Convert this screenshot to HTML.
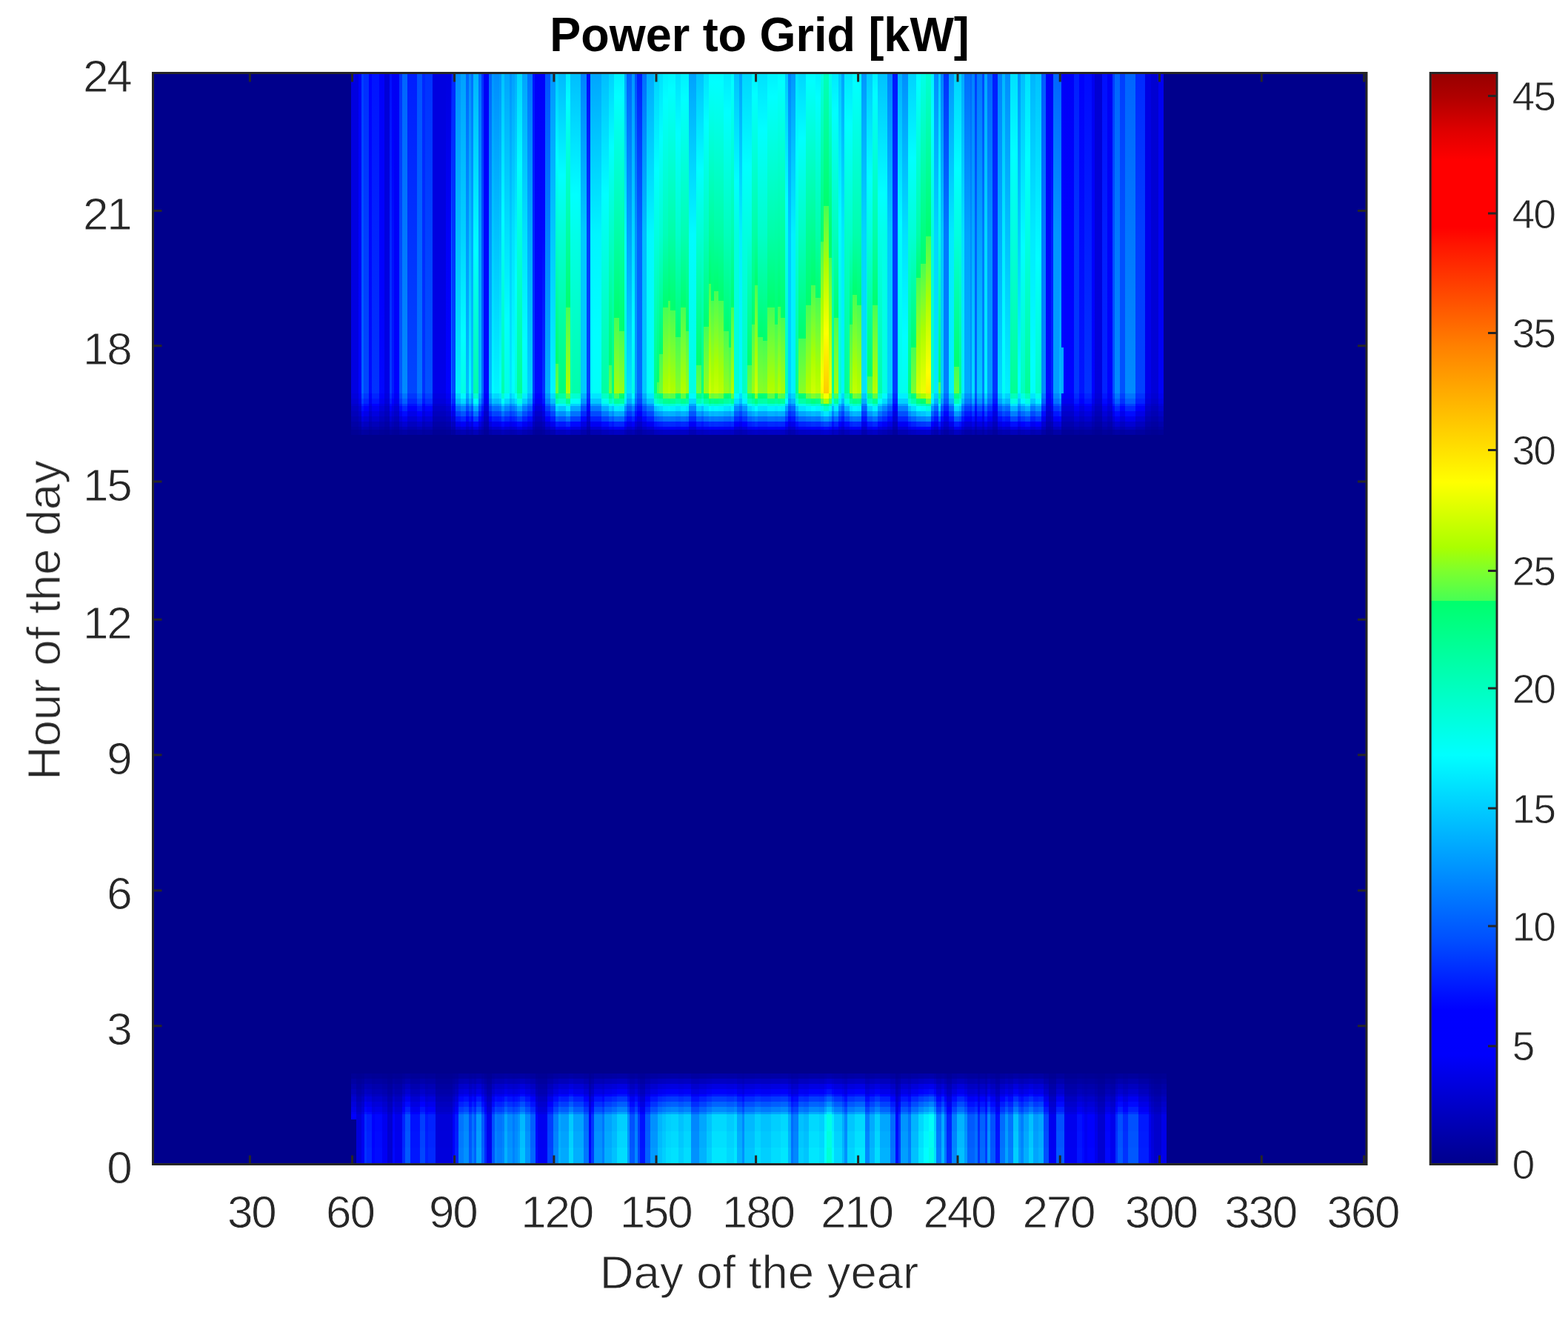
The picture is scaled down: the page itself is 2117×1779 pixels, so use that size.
<!DOCTYPE html>
<html lang="en">
<head>
<meta charset="utf-8">
<title>Power to Grid [kW]</title>
<style>
html,body{margin:0;padding:0;background:#fff}
body{width:2117px;height:1779px;overflow:hidden}
svg{display:block}
text{font-family:"Liberation Sans",sans-serif;fill:#262626}
text.t{fill:#000;font-weight:bold}
#labels text{stroke:#fff;stroke-width:.9px}
text.a{font-size:62px;letter-spacing:-2.2px}
text.c{font-size:55.5px;letter-spacing:-2px}
#labels text.t{stroke:none}
</style>
</head>
<body>
<svg width="2117" height="1779" viewBox="0 0 2117 1779">
<defs>
<filter id="soft" x="-1%" y="-1%" width="102%" height="102%" color-interpolation-filters="sRGB"><feGaussianBlur stdDeviation="0.55"/></filter>
<filter id="softt" x="-5%" y="-20%" width="110%" height="140%" color-interpolation-filters="sRGB"><feGaussianBlur stdDeviation="0.7"/></filter>
<linearGradient id="g0" x2="0" y2="1"><stop offset="0" stop-color="#0000e0"/><stop offset="1" stop-color="#0000e2"/></linearGradient>
<linearGradient id="g1" x2="0" y2="1"><stop offset="0" stop-color="#0000fa"/><stop offset="1" stop-color="#0001ff"/></linearGradient>
<linearGradient id="g2" x2="0" y2="1"><stop offset="0" stop-color="#003dff"/><stop offset="1" stop-color="#0065ff"/></linearGradient>
<linearGradient id="g3" x2="0" y2="1"><stop offset="0" stop-color="#002dff"/><stop offset=".504" stop-color="#003dff"/><stop offset="1" stop-color="#0046ff"/></linearGradient>
<linearGradient id="g4" x2="0" y2="1"><stop offset="0" stop-color="#0001ff"/><stop offset="1" stop-color="#000aff"/></linearGradient>
<linearGradient id="g5" x2="0" y2="1"><stop offset="0" stop-color="#0013ff"/><stop offset="1" stop-color="#0032ff"/></linearGradient>
<linearGradient id="g6" x2="0" y2="1"><stop offset="0" stop-color="#0000fa"/><stop offset=".69" stop-color="#00f"/><stop offset="1" stop-color="#0006ff"/></linearGradient>
<linearGradient id="g7" x2="0" y2="1"><stop offset="0" stop-color="#0000d6"/><stop offset="1" stop-color="#0000e6"/></linearGradient>
<linearGradient id="g8" x2="0" y2="1"><stop offset="0" stop-color="#000eff"/><stop offset=".504" stop-color="#0029ff"/><stop offset="1" stop-color="#003dff"/></linearGradient>
<linearGradient id="g9" x2="0" y2="1"><stop offset="0" stop-color="#0000f4"/><stop offset=".231" stop-color="#00f"/><stop offset=".504" stop-color="#000eff"/><stop offset="1" stop-color="#001cff"/></linearGradient>
<linearGradient id="g10" x2="0" y2="1"><stop offset="0" stop-color="#0000f4"/><stop offset="1" stop-color="#0001ff"/></linearGradient>
<linearGradient id="g11" x2="0" y2="1"><stop offset="0" stop-color="#0032ff"/><stop offset="1" stop-color="#005aff"/></linearGradient>
<linearGradient id="g12" x2="0" y2="1"><stop offset="0" stop-color="#0065ff"/><stop offset="1" stop-color="#008bff"/></linearGradient>
<linearGradient id="g13" x2="0" y2="1"><stop offset="0" stop-color="#001eff"/><stop offset="1" stop-color="#0046ff"/></linearGradient>
<linearGradient id="g14" x2="0" y2="1"><stop offset="0" stop-color="#0051ff"/><stop offset="1" stop-color="#0074ff"/></linearGradient>
<linearGradient id="g15" x2="0" y2="1"><stop offset="0" stop-color="#0027ff"/><stop offset="1" stop-color="#0032ff"/></linearGradient>
<linearGradient id="g16" x2="0" y2="1"><stop offset="0" stop-color="#0032ff"/><stop offset="1" stop-color="#0051ff"/></linearGradient>
<linearGradient id="g17" x2="0" y2="1"><stop offset="0" stop-color="#0000e0"/><stop offset=".504" stop-color="#0000e0"/><stop offset="1" stop-color="#0000ea"/></linearGradient>
<linearGradient id="g18" x2="0" y2="1"><stop offset="0" stop-color="#0000e0"/><stop offset=".504" stop-color="#0000fa"/><stop offset="1" stop-color="#0001ff"/></linearGradient>
<linearGradient id="g19" x2="0" y2="1"><stop offset="0" stop-color="#0006ff"/><stop offset=".504" stop-color="#0065ff"/><stop offset="1" stop-color="#0080ff"/></linearGradient>
<linearGradient id="g20" x2="0" y2="1"><stop offset="0" stop-color="#0029ff"/><stop offset=".504" stop-color="#0032ff"/><stop offset="1" stop-color="#0046ff"/></linearGradient>
<linearGradient id="g21" x2="0" y2="1"><stop offset="0" stop-color="#008dff"/><stop offset="1" stop-color="#0ef"/></linearGradient>
<linearGradient id="g22" x2="0" y2="1"><stop offset="0" stop-color="#00a1ff"/><stop offset=".504" stop-color="#00d2ff"/><stop offset=".822" stop-color="#0ff"/><stop offset="1" stop-color="#00ffe5"/></linearGradient>
<linearGradient id="g23" x2="0" y2="1"><stop offset="0" stop-color="#0065ff"/><stop offset=".504" stop-color="#0096ff"/><stop offset="1" stop-color="#00beff"/></linearGradient>
<linearGradient id="g24" x2="0" y2="1"><stop offset="0" stop-color="#008dff"/><stop offset=".504" stop-color="#00c2ff"/><stop offset="1" stop-color="#00feff"/></linearGradient>
<linearGradient id="g25" x2="0" y2="1"><stop offset="0" stop-color="#006eff"/><stop offset=".504" stop-color="#00a5ff"/><stop offset="1" stop-color="#00c9ff"/></linearGradient>
<linearGradient id="g26" x2="0" y2="1"><stop offset="0" stop-color="#00b5ff"/><stop offset=".557" stop-color="#0ff"/><stop offset="1" stop-color="#0fa"/></linearGradient>
<linearGradient id="g27" x2="0" y2="1"><stop offset="0" stop-color="#006eff"/><stop offset=".504" stop-color="#00a1ff"/><stop offset="1" stop-color="#00beff"/></linearGradient>
<linearGradient id="g28" x2="0" y2="1"><stop offset="0" stop-color="#0032ff"/><stop offset="1" stop-color="#006eff"/></linearGradient>
<linearGradient id="g29" x2="0" y2="1"><stop offset="0" stop-color="#0000f6"/><stop offset=".324" stop-color="#00f"/><stop offset=".504" stop-color="#0006ff"/><stop offset="1" stop-color="#000aff"/></linearGradient>
<linearGradient id="g30" x2="0" y2="1"><stop offset="0" stop-color="#0096ff"/><stop offset="1" stop-color="#00feff"/></linearGradient>
<linearGradient id="g31" x2="0" y2="1"><stop offset="0" stop-color="#008dff"/><stop offset="1" stop-color="#00f5ff"/></linearGradient>
<linearGradient id="g32" x2="0" y2="1"><stop offset="0" stop-color="#0096ff"/><stop offset=".504" stop-color="#00c9ff"/><stop offset=".954" stop-color="#0ff"/><stop offset="1" stop-color="#00fff9"/></linearGradient>
<linearGradient id="g33" x2="0" y2="1"><stop offset="0" stop-color="#00c2ff"/><stop offset=".462" stop-color="#0ff"/><stop offset="1" stop-color="#0fa"/></linearGradient>
<linearGradient id="g34" x2="0" y2="1"><stop offset="0" stop-color="#00a5ff"/><stop offset=".772" stop-color="#0ff"/><stop offset="1" stop-color="#00ffe5"/></linearGradient>
<linearGradient id="g35" x2="0" y2="1"><stop offset="0" stop-color="#0091ff"/><stop offset=".504" stop-color="#00cdff"/><stop offset="1" stop-color="#00eaff"/></linearGradient>
<linearGradient id="g36" x2="0" y2="1"><stop offset="0" stop-color="#00a1ff"/><stop offset=".504" stop-color="#00e1ff"/><stop offset=".922" stop-color="#0ff"/><stop offset="1" stop-color="#00fff9"/></linearGradient>
<linearGradient id="g37" x2="0" y2="1"><stop offset="0" stop-color="#00aeff"/><stop offset=".504" stop-color="#00f1ff"/><stop offset=".651" stop-color="#0ff"/><stop offset="1" stop-color="#00ffdc"/></linearGradient>
<linearGradient id="g38" x2="0" y2="1"><stop offset="0" stop-color="#00d6ff"/><stop offset=".291" stop-color="#0ff"/><stop offset="1" stop-color="#00ff96"/></linearGradient>
<linearGradient id="g39" x2="0" y2="1"><stop offset="0" stop-color="#00a5ff"/><stop offset=".504" stop-color="#00e1ff"/><stop offset=".839" stop-color="#0ff"/><stop offset="1" stop-color="#00fff0"/></linearGradient>
<linearGradient id="g40" x2="0" y2="1"><stop offset="0" stop-color="#0072ff"/><stop offset=".504" stop-color="#0af"/><stop offset="1" stop-color="#00d2ff"/></linearGradient>
<linearGradient id="g41" x2="0" y2="1"><stop offset="0" stop-color="#0015ff"/><stop offset="1" stop-color="#003dff"/></linearGradient>
<linearGradient id="g42" x2="0" y2="1"><stop offset="0" stop-color="#0000fa"/><stop offset="1" stop-color="#000aff"/></linearGradient>
<linearGradient id="g43" x2="0" y2="1"><stop offset="0" stop-color="#0000fa"/><stop offset=".504" stop-color="#0006ff"/><stop offset="1" stop-color="#0032ff"/></linearGradient>
<linearGradient id="g44" x2="0" y2="1"><stop offset="0" stop-color="#0051ff"/><stop offset="1" stop-color="#00aeff"/></linearGradient>
<linearGradient id="g45" x2="0" y2="1"><stop offset="0" stop-color="#0096ff"/><stop offset="1" stop-color="#00f9ff"/></linearGradient>
<linearGradient id="g46" x2="0" y2="1"><stop offset="0" stop-color="#00c9ff"/><stop offset=".274" stop-color="#0ff"/><stop offset=".504" stop-color="#00ffd1"/><stop offset=".908" stop-color="#00ff6c"/><stop offset=".908" stop-color="#46ff55"/><stop offset=".908" stop-color="#00ff6c"/><stop offset=".908" stop-color="#46ff55"/><stop offset="1" stop-color="#67ff3d"/></linearGradient>
<linearGradient id="g47" x2="0" y2="1"><stop offset="0" stop-color="#00b9ff"/><stop offset=".318" stop-color="#0ff"/><stop offset=".504" stop-color="#00ffd5"/><stop offset="1" stop-color="#00ff78"/></linearGradient>
<linearGradient id="g48" x2="0" y2="1"><stop offset="0" stop-color="#00eaff"/><stop offset=".092" stop-color="#0ff"/><stop offset=".733" stop-color="#00ff6c"/><stop offset=".733" stop-color="#46ff55"/><stop offset=".733" stop-color="#00ff6c"/><stop offset=".733" stop-color="#46ff55"/><stop offset=".865" stop-color="#7dff2d"/><stop offset=".969" stop-color="#af0"/><stop offset="1" stop-color="#b3ff00"/></linearGradient>
<linearGradient id="g49" x2="0" y2="1"><stop offset="0" stop-color="#00beff"/><stop offset=".381" stop-color="#0ff"/><stop offset=".504" stop-color="#00ffe9"/><stop offset="1" stop-color="#0fa"/></linearGradient>
<linearGradient id="g50" x2="0" y2="1"><stop offset="0" stop-color="#0082ff"/><stop offset=".504" stop-color="#00c9ff"/><stop offset="1" stop-color="#00c9ff"/></linearGradient>
<linearGradient id="g51" x2="0" y2="1"><stop offset="0" stop-color="#000aff"/><stop offset=".504" stop-color="#003dff"/><stop offset="1" stop-color="#0041ff"/></linearGradient>
<linearGradient id="g52" x2="0" y2="1"><stop offset="0" stop-color="#00a5ff"/><stop offset=".504" stop-color="#00f5ff"/><stop offset=".823" stop-color="#0ff"/><stop offset="1" stop-color="#00fff9"/></linearGradient>
<linearGradient id="g53" x2="0" y2="1"><stop offset="0" stop-color="#00beff"/><stop offset=".381" stop-color="#0ff"/><stop offset="1" stop-color="#00ff9f"/></linearGradient>
<linearGradient id="g54" x2="0" y2="1"><stop offset="0" stop-color="#00d2ff"/><stop offset=".23" stop-color="#0ff"/><stop offset=".504" stop-color="#00ffc8"/><stop offset=".913" stop-color="#00ff6c"/><stop offset=".913" stop-color="#46ff55"/><stop offset=".913" stop-color="#00ff6c"/><stop offset=".913" stop-color="#46ff55"/><stop offset="1" stop-color="#67ff3d"/></linearGradient>
<linearGradient id="g55" x2="0" y2="1"><stop offset="0" stop-color="#00d2ff"/><stop offset=".23" stop-color="#0ff"/><stop offset=".504" stop-color="#00ffc8"/><stop offset="1" stop-color="#00ff7d"/></linearGradient>
<linearGradient id="g56" x2="0" y2="1"><stop offset="0" stop-color="#00f1ff"/><stop offset=".073" stop-color="#0ff"/><stop offset=".504" stop-color="#00ffa8"/><stop offset=".765" stop-color="#00ff6c"/><stop offset=".765" stop-color="#46ff55"/><stop offset=".765" stop-color="#00ff6c"/><stop offset=".765" stop-color="#46ff55"/><stop offset=".902" stop-color="#7dff2d"/><stop offset="1" stop-color="#a5ff05"/></linearGradient>
<linearGradient id="g57" x2="0" y2="1"><stop offset="0" stop-color="#00f1ff"/><stop offset=".073" stop-color="#0ff"/><stop offset=".805" stop-color="#00ff6c"/><stop offset=".805" stop-color="#46ff55"/><stop offset=".806" stop-color="#00ff6c"/><stop offset=".806" stop-color="#46ff55"/><stop offset=".945" stop-color="#7dff2d"/><stop offset="1" stop-color="#94ff16"/></linearGradient>
<linearGradient id="g58" x2="0" y2="1"><stop offset="0" stop-color="#0af"/><stop offset=".55" stop-color="#0ff"/><stop offset="1" stop-color="#00ffc8"/></linearGradient>
<linearGradient id="g59" x2="0" y2="1"><stop offset="0" stop-color="#0065ff"/><stop offset=".504" stop-color="#00a1ff"/><stop offset="1" stop-color="#00e3ff"/></linearGradient>
<linearGradient id="g60" x2="0" y2="1"><stop offset="0" stop-color="#0096ff"/><stop offset=".81" stop-color="#0ff"/><stop offset="1" stop-color="#00ffe5"/></linearGradient>
<linearGradient id="g61" x2="0" y2="1"><stop offset="0" stop-color="#0051ff"/><stop offset=".504" stop-color="#0096ff"/><stop offset="1" stop-color="#009fff"/></linearGradient>
<linearGradient id="g62" x2="0" y2="1"><stop offset="0" stop-color="#001eff"/><stop offset=".504" stop-color="#0065ff"/><stop offset="1" stop-color="#006cff"/></linearGradient>
<linearGradient id="g63" x2="0" y2="1"><stop offset="0" stop-color="#006eff"/><stop offset=".504" stop-color="#00beff"/><stop offset="1" stop-color="#00c9ff"/></linearGradient>
<linearGradient id="g64" x2="0" y2="1"><stop offset="0" stop-color="#0af"/><stop offset=".504" stop-color="#00f9ff"/><stop offset="1" stop-color="#00fff9"/></linearGradient>
<linearGradient id="g65" x2="0" y2="1"><stop offset="0" stop-color="#00d2ff"/><stop offset=".304" stop-color="#0ff"/><stop offset=".504" stop-color="#00ffe0"/><stop offset="1" stop-color="#00ff7d"/></linearGradient>
<linearGradient id="g66" x2="0" y2="1"><stop offset="0" stop-color="#00d2ff"/><stop offset=".304" stop-color="#0ff"/><stop offset=".504" stop-color="#00ffe0"/><stop offset=".966" stop-color="#00ff6c"/><stop offset=".966" stop-color="#46ff55"/><stop offset=".966" stop-color="#00ff6c"/><stop offset=".966" stop-color="#46ff55"/><stop offset="1" stop-color="#51ff4d"/></linearGradient>
<linearGradient id="g67" x2="0" y2="1"><stop offset="0" stop-color="#00e1ff"/><stop offset=".2" stop-color="#0ff"/><stop offset=".504" stop-color="#00ffd1"/><stop offset=".877" stop-color="#00ff6c"/><stop offset=".877" stop-color="#46ff55"/><stop offset=".877" stop-color="#00ff6c"/><stop offset=".877" stop-color="#46ff55"/><stop offset="1" stop-color="#74ff33"/></linearGradient>
<linearGradient id="g68" x2="0" y2="1"><stop offset="0" stop-color="#00f1ff"/><stop offset=".086" stop-color="#0ff"/><stop offset=".504" stop-color="#00ffb8"/><stop offset=".733" stop-color="#00ff6c"/><stop offset=".733" stop-color="#46ff55"/><stop offset=".733" stop-color="#00ff6c"/><stop offset=".733" stop-color="#46ff55"/><stop offset=".865" stop-color="#7dff2d"/><stop offset=".969" stop-color="#af0"/><stop offset="1" stop-color="#b3ff00"/></linearGradient>
<linearGradient id="g69" x2="0" y2="1"><stop offset="0" stop-color="#00f5ff"/><stop offset=".053" stop-color="#0ff"/><stop offset=".504" stop-color="#00ffa8"/><stop offset=".711" stop-color="#00ff6c"/><stop offset=".711" stop-color="#46ff55"/><stop offset=".711" stop-color="#00ff6c"/><stop offset=".711" stop-color="#46ff55"/><stop offset=".838" stop-color="#7dff2d"/><stop offset=".939" stop-color="#af0"/><stop offset="1" stop-color="#bdff00"/></linearGradient>
<linearGradient id="g70" x2="0" y2="1"><stop offset="0" stop-color="#00f5ff"/><stop offset=".053" stop-color="#0ff"/><stop offset=".504" stop-color="#00ffa8"/><stop offset=".742" stop-color="#00ff6c"/><stop offset=".742" stop-color="#46ff55"/><stop offset=".742" stop-color="#00ff6c"/><stop offset=".742" stop-color="#46ff55"/><stop offset=".874" stop-color="#7dff2d"/><stop offset=".979" stop-color="#af0"/><stop offset="1" stop-color="#b0ff00"/></linearGradient>
<linearGradient id="g71" x2="0" y2="1"><stop offset="0" stop-color="#00e1ff"/><stop offset=".189" stop-color="#0ff"/><stop offset=".504" stop-color="#0fc"/><stop offset=".824" stop-color="#00ff6c"/><stop offset=".824" stop-color="#46ff55"/><stop offset=".824" stop-color="#00ff6c"/><stop offset=".824" stop-color="#46ff55"/><stop offset=".966" stop-color="#7dff2d"/><stop offset="1" stop-color="#8bff1f"/></linearGradient>
<linearGradient id="g72" x2="0" y2="1"><stop offset="0" stop-color="#00f1ff"/><stop offset=".082" stop-color="#0ff"/><stop offset=".504" stop-color="#00ffb3"/><stop offset=".733" stop-color="#00ff6c"/><stop offset=".733" stop-color="#46ff55"/><stop offset=".733" stop-color="#00ff6c"/><stop offset=".733" stop-color="#46ff55"/><stop offset=".865" stop-color="#7dff2d"/><stop offset=".969" stop-color="#af0"/><stop offset="1" stop-color="#b3ff00"/></linearGradient>
<linearGradient id="g73" x2="0" y2="1"><stop offset="0" stop-color="#00f1ff"/><stop offset=".082" stop-color="#0ff"/><stop offset=".504" stop-color="#00ffb3"/><stop offset=".805" stop-color="#00ff6c"/><stop offset=".805" stop-color="#46ff55"/><stop offset=".806" stop-color="#00ff6c"/><stop offset=".806" stop-color="#46ff55"/><stop offset=".945" stop-color="#7dff2d"/><stop offset="1" stop-color="#94ff16"/></linearGradient>
<linearGradient id="g74" x2="0" y2="1"><stop offset="0" stop-color="#00a1ff"/><stop offset=".504" stop-color="#00fcff"/><stop offset="1" stop-color="#00ffe3"/></linearGradient>
<linearGradient id="g75" x2="0" y2="1"><stop offset="0" stop-color="#00c2ff"/><stop offset=".301" stop-color="#0ff"/><stop offset=".504" stop-color="#00ffd5"/><stop offset=".913" stop-color="#00ff6c"/><stop offset=".913" stop-color="#46ff55"/><stop offset=".913" stop-color="#00ff6c"/><stop offset=".913" stop-color="#46ff55"/><stop offset="1" stop-color="#67ff3d"/></linearGradient>
<linearGradient id="g76" x2="0" y2="1"><stop offset="0" stop-color="#00c2ff"/><stop offset=".301" stop-color="#0ff"/><stop offset=".504" stop-color="#00ffd5"/><stop offset="1" stop-color="#00ff7d"/></linearGradient>
<linearGradient id="g77" x2="0" y2="1"><stop offset="0" stop-color="#00e1ff"/><stop offset=".158" stop-color="#0ff"/><stop offset=".504" stop-color="#00ffbc"/><stop offset=".791" stop-color="#00ff6c"/><stop offset=".791" stop-color="#46ff55"/><stop offset=".792" stop-color="#00ff6c"/><stop offset=".792" stop-color="#46ff55"/><stop offset=".933" stop-color="#7dff2d"/><stop offset="1" stop-color="#98ff12"/></linearGradient>
<linearGradient id="g78" x2="0" y2="1"><stop offset="0" stop-color="#00f9ff"/><stop offset=".026" stop-color="#0ff"/><stop offset=".504" stop-color="#00ff98"/><stop offset=".658" stop-color="#00ff6c"/><stop offset=".658" stop-color="#46ff55"/><stop offset=".658" stop-color="#00ff6c"/><stop offset=".658" stop-color="#46ff55"/><stop offset=".779" stop-color="#7dff2d"/><stop offset=".875" stop-color="#af0"/><stop offset="1" stop-color="#d2ff00"/></linearGradient>
<linearGradient id="g79" x2="0" y2="1"><stop offset="0" stop-color="#00f9ff"/><stop offset=".026" stop-color="#0ff"/><stop offset=".711" stop-color="#00ff6c"/><stop offset=".711" stop-color="#46ff55"/><stop offset=".711" stop-color="#00ff6c"/><stop offset=".711" stop-color="#46ff55"/><stop offset=".838" stop-color="#7dff2d"/><stop offset=".939" stop-color="#af0"/><stop offset="1" stop-color="#bdff00"/></linearGradient>
<linearGradient id="g80" x2="0" y2="1"><stop offset="0" stop-color="#00f9ff"/><stop offset=".029" stop-color="#0ff"/><stop offset=".504" stop-color="#00ffa3"/><stop offset=".68" stop-color="#00ff6c"/><stop offset=".68" stop-color="#46ff55"/><stop offset=".68" stop-color="#00ff6c"/><stop offset=".68" stop-color="#46ff55"/><stop offset=".804" stop-color="#7dff2d"/><stop offset=".902" stop-color="#af0"/><stop offset="1" stop-color="#c9ff00"/></linearGradient>
<linearGradient id="g81" x2="0" y2="1"><stop offset="0" stop-color="#00f9ff"/><stop offset=".029" stop-color="#0ff"/><stop offset=".504" stop-color="#00ffa3"/><stop offset=".711" stop-color="#00ff6c"/><stop offset=".711" stop-color="#46ff55"/><stop offset=".711" stop-color="#00ff6c"/><stop offset=".711" stop-color="#46ff55"/><stop offset=".838" stop-color="#7dff2d"/><stop offset=".939" stop-color="#af0"/><stop offset="1" stop-color="#bdff00"/></linearGradient>
<linearGradient id="g82" x2="0" y2="1"><stop offset="0" stop-color="#00eaff"/><stop offset=".123" stop-color="#0ff"/><stop offset=".504" stop-color="#00ffbc"/><stop offset=".805" stop-color="#00ff6c"/><stop offset=".805" stop-color="#46ff55"/><stop offset=".806" stop-color="#00ff6c"/><stop offset=".806" stop-color="#46ff55"/><stop offset=".945" stop-color="#7dff2d"/><stop offset="1" stop-color="#94ff16"/></linearGradient>
<linearGradient id="g83" x2="0" y2="1"><stop offset="0" stop-color="#00eaff"/><stop offset=".123" stop-color="#0ff"/><stop offset=".504" stop-color="#00ffbc"/><stop offset=".858" stop-color="#00ff6c"/><stop offset=".858" stop-color="#46ff55"/><stop offset=".859" stop-color="#00ff6c"/><stop offset=".859" stop-color="#46ff55"/><stop offset="1" stop-color="#7dff2d"/></linearGradient>
<linearGradient id="g84" x2="0" y2="1"><stop offset="0" stop-color="#00f9ff"/><stop offset=".032" stop-color="#0ff"/><stop offset=".504" stop-color="#00ffac"/><stop offset=".733" stop-color="#00ff6c"/><stop offset=".733" stop-color="#46ff55"/><stop offset=".733" stop-color="#00ff6c"/><stop offset=".733" stop-color="#46ff55"/><stop offset=".865" stop-color="#7dff2d"/><stop offset=".969" stop-color="#af0"/><stop offset="1" stop-color="#b3ff00"/></linearGradient>
<linearGradient id="g85" x2="0" y2="1"><stop offset="0" stop-color="#00c2ff"/><stop offset=".338" stop-color="#0ff"/><stop offset=".504" stop-color="#00ffe0"/><stop offset="1" stop-color="#00ffd7"/></linearGradient>
<linearGradient id="g86" x2="0" y2="1"><stop offset="0" stop-color="#00a1ff"/><stop offset=".504" stop-color="#00f1ff"/><stop offset="1" stop-color="#00fcff"/></linearGradient>
<linearGradient id="g87" x2="0" y2="1"><stop offset="0" stop-color="#00d6ff"/><stop offset=".291" stop-color="#0ff"/><stop offset=".504" stop-color="#00ffe0"/><stop offset="1" stop-color="#00ffc1"/></linearGradient>
<linearGradient id="g88" x2="0" y2="1"><stop offset="0" stop-color="#00d6ff"/><stop offset=".291" stop-color="#0ff"/><stop offset=".504" stop-color="#00ffe0"/><stop offset=".913" stop-color="#00ff6c"/><stop offset=".913" stop-color="#46ff55"/><stop offset=".913" stop-color="#00ff6c"/><stop offset=".913" stop-color="#46ff55"/><stop offset="1" stop-color="#67ff3d"/></linearGradient>
<linearGradient id="g89" x2="0" y2="1"><stop offset="0" stop-color="#00f1ff"/><stop offset=".07" stop-color="#0ff"/><stop offset=".783" stop-color="#00ff6c"/><stop offset=".783" stop-color="#46ff55"/><stop offset=".784" stop-color="#00ff6c"/><stop offset=".784" stop-color="#46ff55"/><stop offset=".923" stop-color="#7dff2d"/><stop offset="1" stop-color="#9cff0e"/></linearGradient>
<linearGradient id="g90" x2="0" y2="1"><stop offset="0" stop-color="#00f1ff"/><stop offset=".07" stop-color="#0ff"/><stop offset=".504" stop-color="#00ffa3"/><stop offset=".662" stop-color="#00ff6c"/><stop offset=".662" stop-color="#46ff55"/><stop offset=".662" stop-color="#00ff6c"/><stop offset=".662" stop-color="#46ff55"/><stop offset=".785" stop-color="#7dff2d"/><stop offset=".883" stop-color="#af0"/><stop offset="1" stop-color="#cfff00"/></linearGradient>
<linearGradient id="g91" x2="0" y2="1"><stop offset="0" stop-color="#00e1ff"/><stop offset=".179" stop-color="#0ff"/><stop offset=".504" stop-color="#00ffc8"/><stop offset=".824" stop-color="#00ff6c"/><stop offset=".824" stop-color="#46ff55"/><stop offset=".824" stop-color="#00ff6c"/><stop offset=".824" stop-color="#46ff55"/><stop offset=".966" stop-color="#7dff2d"/><stop offset="1" stop-color="#8bff1f"/></linearGradient>
<linearGradient id="g92" x2="0" y2="1"><stop offset="0" stop-color="#00e1ff"/><stop offset=".179" stop-color="#0ff"/><stop offset=".504" stop-color="#00ffc8"/><stop offset=".836" stop-color="#00ff6c"/><stop offset=".836" stop-color="#46ff55"/><stop offset=".837" stop-color="#00ff6c"/><stop offset=".837" stop-color="#46ff55"/><stop offset="1" stop-color="#86ff24"/></linearGradient>
<linearGradient id="g93" x2="0" y2="1"><stop offset="0" stop-color="#00f1ff"/><stop offset=".073" stop-color="#0ff"/><stop offset=".504" stop-color="#00ffa8"/><stop offset=".733" stop-color="#00ff6c"/><stop offset=".733" stop-color="#46ff55"/><stop offset=".733" stop-color="#00ff6c"/><stop offset=".733" stop-color="#46ff55"/><stop offset=".865" stop-color="#7dff2d"/><stop offset=".969" stop-color="#af0"/><stop offset="1" stop-color="#b3ff00"/></linearGradient>
<linearGradient id="g94" x2="0" y2="1"><stop offset="0" stop-color="#00f1ff"/><stop offset=".073" stop-color="#0ff"/><stop offset=".783" stop-color="#00ff6c"/><stop offset=".783" stop-color="#46ff55"/><stop offset=".784" stop-color="#00ff6c"/><stop offset=".784" stop-color="#46ff55"/><stop offset=".923" stop-color="#7dff2d"/><stop offset="1" stop-color="#9cff0e"/></linearGradient>
<linearGradient id="g95" x2="0" y2="1"><stop offset="0" stop-color="#00f9ff"/><stop offset=".029" stop-color="#0ff"/><stop offset=".504" stop-color="#00ffa3"/><stop offset=".729" stop-color="#00ff6c"/><stop offset=".729" stop-color="#46ff55"/><stop offset=".729" stop-color="#00ff6c"/><stop offset=".729" stop-color="#46ff55"/><stop offset=".857" stop-color="#7dff2d"/><stop offset=".959" stop-color="#af0"/><stop offset="1" stop-color="#b6ff00"/></linearGradient>
<linearGradient id="g96" x2="0" y2="1"><stop offset="0" stop-color="#00f9ff"/><stop offset=".029" stop-color="#0ff"/><stop offset=".765" stop-color="#00ff6c"/><stop offset=".765" stop-color="#46ff55"/><stop offset=".765" stop-color="#00ff6c"/><stop offset=".765" stop-color="#46ff55"/><stop offset=".902" stop-color="#7dff2d"/><stop offset="1" stop-color="#a5ff05"/></linearGradient>
<linearGradient id="g97" x2="0" y2="1"><stop offset="0" stop-color="#00c9ff"/><stop offset=".398" stop-color="#0ff"/><stop offset="1" stop-color="#00ffb5"/></linearGradient>
<linearGradient id="g98" x2="0" y2="1"><stop offset="0" stop-color="#0082ff"/><stop offset=".504" stop-color="#00c9ff"/><stop offset="1" stop-color="#00d2ff"/></linearGradient>
<linearGradient id="g99" x2="0" y2="1"><stop offset="0" stop-color="#0096ff"/><stop offset=".504" stop-color="#00f1ff"/><stop offset="1" stop-color="#00f1ff"/></linearGradient>
<linearGradient id="g100" x2="0" y2="1"><stop offset="0" stop-color="#00e1ff"/><stop offset=".252" stop-color="#0ff"/><stop offset=".504" stop-color="#00ffe0"/><stop offset="1" stop-color="#0f8"/></linearGradient>
<linearGradient id="g101" x2="0" y2="1"><stop offset="0" stop-color="#00d6ff"/><stop offset=".203" stop-color="#0ff"/><stop offset=".504" stop-color="#00ffc1"/><stop offset=".827" stop-color="#00ff6c"/><stop offset=".827" stop-color="#46ff55"/><stop offset=".828" stop-color="#00ff6c"/><stop offset=".828" stop-color="#46ff55"/><stop offset=".967" stop-color="#7dff2d"/><stop offset="1" stop-color="#8bff1f"/></linearGradient>
<linearGradient id="g102" x2="0" y2="1"><stop offset="0" stop-color="#00f9ff"/><stop offset=".025" stop-color="#0ff"/><stop offset=".504" stop-color="#00ff93"/><stop offset=".725" stop-color="#00ff6c"/><stop offset=".725" stop-color="#46ff55"/><stop offset=".725" stop-color="#00ff6c"/><stop offset=".725" stop-color="#46ff55"/><stop offset=".855" stop-color="#7dff2d"/><stop offset=".959" stop-color="#af0"/><stop offset="1" stop-color="#b6ff00"/></linearGradient>
<linearGradient id="g103" x2="0" y2="1"><stop offset="0" stop-color="#00f9ff"/><stop offset=".025" stop-color="#0ff"/><stop offset=".662" stop-color="#00ff6c"/><stop offset=".662" stop-color="#46ff55"/><stop offset=".662" stop-color="#00ff6c"/><stop offset=".662" stop-color="#46ff55"/><stop offset=".785" stop-color="#7dff2d"/><stop offset=".883" stop-color="#af0"/><stop offset="1" stop-color="#cfff00"/></linearGradient>
<linearGradient id="g104" x2="0" y2="1"><stop offset="0" stop-color="#00f1ff"/><stop offset=".076" stop-color="#0ff"/><stop offset=".504" stop-color="#00ffac"/><stop offset=".702" stop-color="#00ff6c"/><stop offset=".702" stop-color="#46ff55"/><stop offset=".702" stop-color="#00ff6c"/><stop offset=".702" stop-color="#46ff55"/><stop offset=".829" stop-color="#7dff2d"/><stop offset=".93" stop-color="#af0"/><stop offset="1" stop-color="#c0ff00"/></linearGradient>
<linearGradient id="g105" x2="0" y2="1"><stop offset="0" stop-color="#00ffe5"/><stop offset=".527" stop-color="#00ff6c"/><stop offset=".527" stop-color="#46ff55"/><stop offset=".528" stop-color="#00ff6c"/><stop offset=".528" stop-color="#46ff55"/><stop offset=".637" stop-color="#7dff2d"/><stop offset=".723" stop-color="#af0"/><stop offset=".961" stop-color="#ff0"/><stop offset="1" stop-color="#fff500"/></linearGradient>
<linearGradient id="g106" x2="0" y2="1"><stop offset="0" stop-color="#00ffbc"/><stop offset=".414" stop-color="#00ff6c"/><stop offset=".414" stop-color="#46ff55"/><stop offset=".414" stop-color="#00ff6c"/><stop offset=".414" stop-color="#46ff55"/><stop offset=".514" stop-color="#7dff2d"/><stop offset=".594" stop-color="#af0"/><stop offset=".813" stop-color="#ff0"/><stop offset="1" stop-color="#ffcb00"/></linearGradient>
<linearGradient id="g107" x2="0" y2="1"><stop offset="0" stop-color="#00fff0"/><stop offset=".504" stop-color="#00ff6f"/><stop offset=".577" stop-color="#00ff6c"/><stop offset=".577" stop-color="#46ff55"/><stop offset=".577" stop-color="#00ff6c"/><stop offset=".577" stop-color="#46ff55"/><stop offset=".691" stop-color="#7dff2d"/><stop offset=".782" stop-color="#af0"/><stop offset="1" stop-color="#f4ff00"/></linearGradient>
<linearGradient id="g108" x2="0" y2="1"><stop offset="0" stop-color="#00eaff"/><stop offset=".123" stop-color="#0ff"/><stop offset=".504" stop-color="#00ffbc"/><stop offset="1" stop-color="#00ff93"/></linearGradient>
<linearGradient id="g109" x2="0" y2="1"><stop offset="0" stop-color="#00eaff"/><stop offset=".123" stop-color="#0ff"/><stop offset=".504" stop-color="#00ffbc"/><stop offset=".765" stop-color="#00ff6c"/><stop offset=".765" stop-color="#46ff55"/><stop offset=".765" stop-color="#00ff6c"/><stop offset=".765" stop-color="#46ff55"/><stop offset=".902" stop-color="#7dff2d"/><stop offset="1" stop-color="#a5ff05"/></linearGradient>
<linearGradient id="g110" x2="0" y2="1"><stop offset="0" stop-color="#00c9ff"/><stop offset=".457" stop-color="#0ff"/><stop offset="1" stop-color="#0fc"/></linearGradient>
<linearGradient id="g111" x2="0" y2="1"><stop offset="0" stop-color="#00a1ff"/><stop offset=".504" stop-color="#00eaff"/><stop offset="1" stop-color="#00f5ff"/></linearGradient>
<linearGradient id="g112" x2="0" y2="1"><stop offset="0" stop-color="#00e6ff"/><stop offset=".161" stop-color="#0ff"/><stop offset=".504" stop-color="#00ffc8"/><stop offset="1" stop-color="#00ff93"/></linearGradient>
<linearGradient id="g113" x2="0" y2="1"><stop offset="0" stop-color="#00e6ff"/><stop offset=".161" stop-color="#0ff"/><stop offset=".504" stop-color="#00ffc8"/><stop offset=".783" stop-color="#00ff6c"/><stop offset=".783" stop-color="#46ff55"/><stop offset=".784" stop-color="#00ff6c"/><stop offset=".784" stop-color="#46ff55"/><stop offset=".923" stop-color="#7dff2d"/><stop offset="1" stop-color="#9cff0e"/></linearGradient>
<linearGradient id="g114" x2="0" y2="1"><stop offset="0" stop-color="#00f9ff"/><stop offset=".032" stop-color="#0ff"/><stop offset=".504" stop-color="#00ffac"/><stop offset=".693" stop-color="#00ff6c"/><stop offset=".693" stop-color="#46ff55"/><stop offset=".693" stop-color="#00ff6c"/><stop offset=".693" stop-color="#46ff55"/><stop offset=".819" stop-color="#7dff2d"/><stop offset=".92" stop-color="#af0"/><stop offset="1" stop-color="#c3ff00"/></linearGradient>
<linearGradient id="g115" x2="0" y2="1"><stop offset="0" stop-color="#00f9ff"/><stop offset=".032" stop-color="#0ff"/><stop offset=".504" stop-color="#00ffac"/><stop offset=".725" stop-color="#00ff6c"/><stop offset=".725" stop-color="#46ff55"/><stop offset=".725" stop-color="#00ff6c"/><stop offset=".725" stop-color="#46ff55"/><stop offset=".855" stop-color="#7dff2d"/><stop offset=".959" stop-color="#af0"/><stop offset="1" stop-color="#b6ff00"/></linearGradient>
<linearGradient id="g116" x2="0" y2="1"><stop offset="0" stop-color="#0096ff"/><stop offset=".504" stop-color="#00d6ff"/><stop offset="1" stop-color="#00e3ff"/></linearGradient>
<linearGradient id="g117" x2="0" y2="1"><stop offset="0" stop-color="#00c9ff"/><stop offset=".325" stop-color="#0ff"/><stop offset=".504" stop-color="#00ffe0"/><stop offset="1" stop-color="#00ffd3"/></linearGradient>
<linearGradient id="g118" x2="0" y2="1"><stop offset="0" stop-color="#00c9ff"/><stop offset=".325" stop-color="#0ff"/><stop offset=".504" stop-color="#00ffe0"/><stop offset=".948" stop-color="#00ff6c"/><stop offset=".948" stop-color="#46ff55"/><stop offset=".949" stop-color="#00ff6c"/><stop offset=".949" stop-color="#46ff55"/><stop offset="1" stop-color="#5aff46"/></linearGradient>
<linearGradient id="g119" x2="0" y2="1"><stop offset="0" stop-color="#00f1ff"/><stop offset=".073" stop-color="#0ff"/><stop offset=".504" stop-color="#00ffa8"/><stop offset=".725" stop-color="#00ff6c"/><stop offset=".725" stop-color="#46ff55"/><stop offset=".725" stop-color="#00ff6c"/><stop offset=".725" stop-color="#46ff55"/><stop offset=".855" stop-color="#7dff2d"/><stop offset=".959" stop-color="#af0"/><stop offset="1" stop-color="#b6ff00"/></linearGradient>
<linearGradient id="g120" x2="0" y2="1"><stop offset="0" stop-color="#00c2ff"/><stop offset=".375" stop-color="#0ff"/><stop offset=".504" stop-color="#00ffe9"/><stop offset="1" stop-color="#0fa"/></linearGradient>
<linearGradient id="g121" x2="0" y2="1"><stop offset="0" stop-color="#00c2ff"/><stop offset=".375" stop-color="#0ff"/><stop offset=".504" stop-color="#00ffe9"/><stop offset="1" stop-color="#00ffe3"/></linearGradient>
<linearGradient id="g122" x2="0" y2="1"><stop offset="0" stop-color="#0015ff"/><stop offset=".504" stop-color="#003dff"/><stop offset="1" stop-color="#003dff"/></linearGradient>
<linearGradient id="g123" x2="0" y2="1"><stop offset="0" stop-color="#00aeff"/><stop offset=".472" stop-color="#0ff"/><stop offset=".504" stop-color="#00fff9"/><stop offset="1" stop-color="#0fe"/></linearGradient>
<linearGradient id="g124" x2="0" y2="1"><stop offset="0" stop-color="#008dff"/><stop offset=".504" stop-color="#00e1ff"/><stop offset=".823" stop-color="#0ff"/><stop offset="1" stop-color="#0fe"/></linearGradient>
<linearGradient id="g125" x2="0" y2="1"><stop offset="0" stop-color="#00d2ff"/><stop offset=".265" stop-color="#0ff"/><stop offset="1" stop-color="#00ff7d"/></linearGradient>
<linearGradient id="g126" x2="0" y2="1"><stop offset="0" stop-color="#00d2ff"/><stop offset=".265" stop-color="#0ff"/><stop offset=".504" stop-color="#00ffd5"/><stop offset=".858" stop-color="#00ff6c"/><stop offset=".858" stop-color="#46ff55"/><stop offset=".859" stop-color="#00ff6c"/><stop offset=".859" stop-color="#46ff55"/><stop offset="1" stop-color="#7dff2d"/></linearGradient>
<linearGradient id="g127" x2="0" y2="1"><stop offset="0" stop-color="#00f9ff"/><stop offset=".031" stop-color="#0ff"/><stop offset=".504" stop-color="#00ffa8"/><stop offset=".64" stop-color="#00ff6c"/><stop offset=".64" stop-color="#46ff55"/><stop offset=".64" stop-color="#00ff6c"/><stop offset=".64" stop-color="#46ff55"/><stop offset=".761" stop-color="#7dff2d"/><stop offset=".856" stop-color="#af0"/><stop offset="1" stop-color="#d8ff00"/></linearGradient>
<linearGradient id="g128" x2="0" y2="1"><stop offset="0" stop-color="#00ffe9"/><stop offset=".595" stop-color="#00ff6c"/><stop offset=".595" stop-color="#46ff55"/><stop offset=".595" stop-color="#00ff6c"/><stop offset=".595" stop-color="#46ff55"/><stop offset=".709" stop-color="#7dff2d"/><stop offset=".8" stop-color="#af0"/><stop offset="1" stop-color="#ef0"/></linearGradient>
<linearGradient id="g129" x2="0" y2="1"><stop offset="0" stop-color="#00ffd1"/><stop offset=".509" stop-color="#00ff6c"/><stop offset=".509" stop-color="#46ff55"/><stop offset=".509" stop-color="#00ff6c"/><stop offset=".509" stop-color="#46ff55"/><stop offset=".617" stop-color="#7dff2d"/><stop offset=".702" stop-color="#af0"/><stop offset=".936" stop-color="#ff0"/><stop offset="1" stop-color="#fe0"/></linearGradient>
<linearGradient id="g130" x2="0" y2="1"><stop offset="0" stop-color="#00f1ff"/><stop offset=".149" stop-color="#0ff"/><stop offset=".504" stop-color="#00ffdc"/><stop offset="1" stop-color="#00ffc8"/></linearGradient>
<linearGradient id="g131" x2="0" y2="1"><stop offset="0" stop-color="#008dff"/><stop offset=".504" stop-color="#00d6ff"/><stop offset="1" stop-color="#00eaff"/></linearGradient>
<linearGradient id="g132" x2="0" y2="1"><stop offset="0" stop-color="#00c9ff"/><stop offset=".363" stop-color="#0ff"/><stop offset=".504" stop-color="#00ffe9"/><stop offset=".966" stop-color="#00ff6c"/><stop offset=".966" stop-color="#46ff55"/><stop offset=".966" stop-color="#00ff6c"/><stop offset=".966" stop-color="#46ff55"/><stop offset="1" stop-color="#51ff4d"/></linearGradient>
<linearGradient id="g133" x2="0" y2="1"><stop offset="0" stop-color="#0032ff"/><stop offset=".504" stop-color="#0079ff"/><stop offset="1" stop-color="#0080ff"/></linearGradient>
<linearGradient id="g134" x2="0" y2="1"><stop offset="0" stop-color="#0096ff"/><stop offset=".504" stop-color="#00eaff"/><stop offset="1" stop-color="#00f1ff"/></linearGradient>
<linearGradient id="g135" x2="0" y2="1"><stop offset="0" stop-color="#00d2ff"/><stop offset=".304" stop-color="#0ff"/><stop offset=".504" stop-color="#00ffe0"/><stop offset=".917" stop-color="#00ff6c"/><stop offset=".917" stop-color="#46ff55"/><stop offset=".917" stop-color="#00ff6c"/><stop offset=".917" stop-color="#46ff55"/><stop offset="1" stop-color="#63ff40"/></linearGradient>
<linearGradient id="g136" x2="0" y2="1"><stop offset="0" stop-color="#00d2ff"/><stop offset=".304" stop-color="#0ff"/><stop offset=".504" stop-color="#00ffe0"/><stop offset="1" stop-color="#0f8"/></linearGradient>
<linearGradient id="g137" x2="0" y2="1"><stop offset="0" stop-color="#0af"/><stop offset=".504" stop-color="#00e1ff"/><stop offset="1" stop-color="#00f1ff"/></linearGradient>
<linearGradient id="g138" x2="0" y2="1"><stop offset="0" stop-color="#006eff"/><stop offset=".504" stop-color="#00a1ff"/><stop offset="1" stop-color="#0af"/></linearGradient>
<linearGradient id="g139" x2="0" y2="1"><stop offset="0" stop-color="#0065ff"/><stop offset=".504" stop-color="#008dff"/><stop offset="1" stop-color="#0093ff"/></linearGradient>
<linearGradient id="g140" x2="0" y2="1"><stop offset="0" stop-color="#0082ff"/><stop offset=".504" stop-color="#0af"/><stop offset="1" stop-color="#0df"/></linearGradient>
<linearGradient id="g141" x2="0" y2="1"><stop offset="0" stop-color="#003dff"/><stop offset=".504" stop-color="#0065ff"/><stop offset="1" stop-color="#0065ff"/></linearGradient>
<linearGradient id="g142" x2="0" y2="1"><stop offset="0" stop-color="#0079ff"/><stop offset="1" stop-color="#00c9ff"/></linearGradient>
<linearGradient id="g143" x2="0" y2="1"><stop offset="0" stop-color="#0046ff"/><stop offset=".504" stop-color="#0079ff"/><stop offset="1" stop-color="#0080ff"/></linearGradient>
<linearGradient id="g144" x2="0" y2="1"><stop offset="0" stop-color="#00a5ff"/><stop offset=".504" stop-color="#00d6ff"/><stop offset="1" stop-color="#00f1ff"/></linearGradient>
<linearGradient id="g145" x2="0" y2="1"><stop offset="0" stop-color="#0065ff"/><stop offset=".504" stop-color="#0091ff"/><stop offset="1" stop-color="#009aff"/></linearGradient>
<linearGradient id="g146" x2="0" y2="1"><stop offset="0" stop-color="#001cff"/><stop offset=".504" stop-color="#0032ff"/><stop offset="1" stop-color="#0036ff"/></linearGradient>
<linearGradient id="g147" x2="0" y2="1"><stop offset="0" stop-color="#0082ff"/><stop offset=".504" stop-color="#0af"/><stop offset="1" stop-color="#00d8ff"/></linearGradient>
<linearGradient id="g148" x2="0" y2="1"><stop offset="0" stop-color="#00b5ff"/><stop offset=".504" stop-color="#00eaff"/><stop offset=".841" stop-color="#0ff"/><stop offset="1" stop-color="#00fff5"/></linearGradient>
<linearGradient id="g149" x2="0" y2="1"><stop offset="0" stop-color="#008dff"/><stop offset="1" stop-color="#00f1ff"/></linearGradient>
<linearGradient id="g150" x2="0" y2="1"><stop offset="0" stop-color="#00e1ff"/><stop offset=".252" stop-color="#0ff"/><stop offset=".504" stop-color="#00ffe0"/><stop offset="1" stop-color="#00ff93"/></linearGradient>
<linearGradient id="g151" x2="0" y2="1"><stop offset="0" stop-color="#0096ff"/><stop offset=".95" stop-color="#0ff"/><stop offset="1" stop-color="#00fff9"/></linearGradient>
<linearGradient id="g152" x2="0" y2="1"><stop offset="0" stop-color="#00beff"/><stop offset=".543" stop-color="#0ff"/><stop offset="1" stop-color="#00ffbc"/></linearGradient>
<linearGradient id="g153" x2="0" y2="1"><stop offset="0" stop-color="#00e1ff"/><stop offset=".272" stop-color="#0ff"/><stop offset=".504" stop-color="#00ffe5"/><stop offset="1" stop-color="#00ff93"/></linearGradient>
<linearGradient id="g154" x2="0" y2="1"><stop offset="0" stop-color="#00b5ff"/><stop offset=".504" stop-color="#00eaff"/><stop offset=".897" stop-color="#0ff"/><stop offset="1" stop-color="#00fff9"/></linearGradient>
<linearGradient id="g155" x2="0" y2="1"><stop offset="0" stop-color="#00c2ff"/><stop offset=".581" stop-color="#0ff"/><stop offset="1" stop-color="#00ffc8"/></linearGradient>
<linearGradient id="g156" x2="0" y2="1"><stop offset="0" stop-color="#005aff"/><stop offset=".504" stop-color="#0079ff"/><stop offset="1" stop-color="#008bff"/></linearGradient>
<linearGradient id="g157" x2="0" y2="1"><stop offset="0" stop-color="#0000f0"/><stop offset=".18" stop-color="#00f"/><stop offset=".504" stop-color="#001eff"/><stop offset="1" stop-color="#02f"/></linearGradient>
<linearGradient id="g158" x2="0" y2="1"><stop offset="0" stop-color="#0065ff"/><stop offset=".504" stop-color="#0096ff"/><stop offset="1" stop-color="#009fff"/></linearGradient>
<linearGradient id="g159" x2="0" y2="1"><stop offset="0" stop-color="#0000f8"/><stop offset=".504" stop-color="#0001ff"/><stop offset="1" stop-color="#0006ff"/></linearGradient>
<linearGradient id="g160" x2="0" y2="1"><stop offset="0" stop-color="#0000f8"/><stop offset=".504" stop-color="#0001ff"/><stop offset="1" stop-color="#0003ff"/></linearGradient>
<linearGradient id="g161" x2="0" y2="1"><stop offset="0" stop-color="#001eff"/><stop offset=".504" stop-color="#0032ff"/><stop offset="1" stop-color="#0036ff"/></linearGradient>
<linearGradient id="g162" x2="0" y2="1"><stop offset="0" stop-color="#0000fc"/><stop offset="1" stop-color="#0015ff"/></linearGradient>
<linearGradient id="g163" x2="0" y2="1"><stop offset="0" stop-color="#000aff"/><stop offset="1" stop-color="#0032ff"/></linearGradient>
<linearGradient id="g164" x2="0" y2="1"><stop offset="0" stop-color="#0000f0"/><stop offset=".504" stop-color="#0000fc"/><stop offset="1" stop-color="#0001ff"/></linearGradient>
<linearGradient id="g165" x2="0" y2="1"><stop offset="0" stop-color="#0000d2"/><stop offset=".504" stop-color="#0000dc"/><stop offset="1" stop-color="#0000de"/></linearGradient>
<linearGradient id="g166" x2="0" y2="1"><stop offset="0" stop-color="#000eff"/><stop offset=".504" stop-color="#001eff"/><stop offset="1" stop-color="#02f"/></linearGradient>
<linearGradient id="g167" x2="0" y2="1"><stop offset="0" stop-color="#003dff"/><stop offset=".504" stop-color="#0051ff"/><stop offset="1" stop-color="#0051ff"/></linearGradient>
<linearGradient id="g168" x2="0" y2="1"><stop offset="0" stop-color="#0029ff"/><stop offset=".504" stop-color="#003dff"/><stop offset="1" stop-color="#0041ff"/></linearGradient>
<linearGradient id="g169" x2="0" y2="1"><stop offset="0" stop-color="#0000e0"/><stop offset=".504" stop-color="#0000ec"/><stop offset="1" stop-color="#0000ec"/></linearGradient>
<linearGradient id="g170" x2="0" y2="1"><stop offset="0" stop-color="#0000d2"/><stop offset="1" stop-color="#0000d8"/></linearGradient>
<linearGradient id="g171" x2="0" y2="1"><stop offset="0" stop-color="#0000f0"/><stop offset="1" stop-color="#0000f6"/></linearGradient>
<linearGradient id="cb" x2="0" y2="1"><stop offset="0" stop-color="#960000"/><stop offset="0.0217" stop-color="#af0000"/><stop offset="0.0543" stop-color="#e10000"/><stop offset="0.0804" stop-color="#f00"/><stop offset="0.1413" stop-color="#f00"/><stop offset="0.1565" stop-color="#ff1400"/><stop offset="0.25" stop-color="#ff8000"/><stop offset="0.375" stop-color="#ff0"/><stop offset="0.4348" stop-color="#af0"/><stop offset="0.4565" stop-color="#7dff2d"/><stop offset="0.4839" stop-color="#46ff55"/><stop offset="0.4839" stop-color="#00ff6c"/><stop offset="0.625" stop-color="#0ff"/><stop offset="0.7935" stop-color="#0050ff"/><stop offset="0.8478" stop-color="#000cff"/><stop offset="0.8587" stop-color="#00f"/><stop offset="0.9" stop-color="#0000fc"/><stop offset="1" stop-color="#00008c"/></linearGradient>
</defs>
<rect width="2117" height="1779" fill="#fff"/>
<g id="heat" shape-rendering="crispEdges" filter="url(#soft)">
<rect x="206.5" y="98.5" width="1638.5" height="1473" fill="#00008c"/>
<rect x="474" y="98.5" width="10" height="432.4" fill="url(#g0)"/>
<rect x="484" y="98.5" width="3.7" height="432.4" fill="url(#g1)"/>
<rect x="487.7" y="98.5" width="3.6" height="432.4" fill="url(#g2)"/>
<rect x="491.3" y="98.5" width="6.7" height="432.4" fill="url(#g3)"/>
<rect x="498" y="98.5" width="3.7" height="432.4" fill="url(#g4)"/>
<rect x="501.7" y="98.5" width="10" height="432.4" fill="url(#g5)"/>
<rect x="511.7" y="98.5" width="7" height="432.4" fill="url(#g6)"/>
<rect x="518.7" y="98.5" width="7" height="432.4" fill="url(#g7)"/>
<rect x="525.7" y="98.5" width="3.3" height="432.4" fill="url(#g8)"/>
<rect x="529" y="98.5" width="3.4" height="432.4" fill="url(#g9)"/>
<rect x="532.4" y="98.5" width="7" height="432.4" fill="url(#g10)"/>
<rect x="539.4" y="98.5" width="3.6" height="432.4" fill="url(#g11)"/>
<rect x="543" y="98.5" width="6.7" height="432.4" fill="url(#g12)"/>
<rect x="549.7" y="98.5" width="13.7" height="432.4" fill="url(#g13)"/>
<rect x="563.4" y="98.5" width="6.6" height="432.4" fill="url(#g14)"/>
<rect x="570" y="98.5" width="3.7" height="432.4" fill="url(#g15)"/>
<rect x="573.7" y="98.5" width="10" height="432.4" fill="url(#g16)"/>
<rect x="583.7" y="98.5" width="18.4" height="432.4" fill="url(#g17)"/>
<rect x="602.1" y="98.5" width="6.6" height="432.4" fill="url(#g18)"/>
<rect x="608.7" y="98.5" width="1.3" height="432.4" fill="url(#g19)"/>
<rect x="610" y="98.5" width="5" height="432.4" fill="url(#g20)"/>
<rect x="615" y="98.5" width="7" height="432.4" fill="url(#g21)"/>
<rect x="622" y="98.5" width="7" height="432.4" fill="url(#g22)"/>
<rect x="629" y="98.5" width="3.7" height="432.4" fill="url(#g23)"/>
<rect x="632.7" y="98.5" width="3.3" height="432.4" fill="url(#g24)"/>
<rect x="636" y="98.5" width="3.3" height="432.4" fill="url(#g25)"/>
<rect x="639.3" y="98.5" width="6.7" height="432.4" fill="url(#g26)"/>
<rect x="646" y="98.5" width="4" height="432.4" fill="url(#g27)"/>
<rect x="650" y="98.5" width="3" height="432.4" fill="url(#g28)"/>
<rect x="653" y="98.5" width="7" height="432.4" fill="url(#g29)"/>
<rect x="660" y="98.5" width="3.7" height="432.4" fill="url(#g23)"/>
<rect x="663.7" y="98.5" width="3.3" height="432.4" fill="url(#g30)"/>
<rect x="667" y="98.5" width="7" height="432.4" fill="url(#g31)"/>
<rect x="674" y="98.5" width="3.4" height="432.4" fill="url(#g32)"/>
<rect x="677.4" y="98.5" width="3.3" height="432.4" fill="url(#g33)"/>
<rect x="680.7" y="98.5" width="7" height="432.4" fill="url(#g34)"/>
<rect x="687.7" y="98.5" width="3.3" height="432.4" fill="url(#g35)"/>
<rect x="691" y="98.5" width="3.7" height="432.4" fill="url(#g36)"/>
<rect x="694.7" y="98.5" width="3.3" height="432.4" fill="url(#g37)"/>
<rect x="698" y="98.5" width="6.7" height="432.4" fill="url(#g38)"/>
<rect x="704.7" y="98.5" width="7" height="432.4" fill="url(#g39)"/>
<rect x="711.7" y="98.5" width="7" height="432.4" fill="url(#g40)"/>
<rect x="718.7" y="98.5" width="3.4" height="432.4" fill="url(#g41)"/>
<rect x="722.1" y="98.5" width="10" height="432.4" fill="url(#g42)"/>
<rect x="732.1" y="98.5" width="3.6" height="432.4" fill="url(#g43)"/>
<rect x="735.7" y="98.5" width="7" height="432.4" fill="url(#g44)"/>
<rect x="742.7" y="98.5" width="7.3" height="432.4" fill="url(#g45)"/>
<rect x="750" y="98.5" width="3.9" height="432.4" fill="url(#g46)"/>
<rect x="753.9" y="98.5" width="9.6" height="432.4" fill="url(#g47)"/>
<rect x="763.5" y="98.5" width="6.7" height="432.4" fill="url(#g48)"/>
<rect x="770.2" y="98.5" width="13.5" height="432.4" fill="url(#g49)"/>
<rect x="783.7" y="98.5" width="7.8" height="432.4" fill="url(#g50)"/>
<rect x="791.5" y="98.5" width="5.7" height="432.4" fill="url(#g51)"/>
<rect x="797.2" y="98.5" width="14.5" height="432.4" fill="url(#g52)"/>
<rect x="811.7" y="98.5" width="10.6" height="432.4" fill="url(#g53)"/>
<rect x="822.3" y="98.5" width="3.9" height="432.4" fill="url(#g54)"/>
<rect x="826.2" y="98.5" width="2.9" height="432.4" fill="url(#g55)"/>
<rect x="829.1" y="98.5" width="6.7" height="432.4" fill="url(#g56)"/>
<rect x="835.8" y="98.5" width="6.8" height="432.4" fill="url(#g57)"/>
<rect x="842.6" y="98.5" width="3.8" height="432.4" fill="url(#g58)"/>
<rect x="846.4" y="98.5" width="6.8" height="432.4" fill="url(#g59)"/>
<rect x="853.2" y="98.5" width="3.8" height="432.4" fill="url(#g60)"/>
<rect x="857" y="98.5" width="2.9" height="432.4" fill="url(#g61)"/>
<rect x="859.9" y="98.5" width="6.8" height="432.4" fill="url(#g62)"/>
<rect x="866.7" y="98.5" width="6.7" height="432.4" fill="url(#g63)"/>
<rect x="873.4" y="98.5" width="9.7" height="432.4" fill="url(#g64)"/>
<rect x="883.1" y="98.5" width="4.2" height="432.4" fill="url(#g65)"/>
<rect x="887.3" y="98.5" width="2.7" height="432.4" fill="url(#g66)"/>
<rect x="890" y="98.5" width="4.8" height="432.4" fill="url(#g67)"/>
<rect x="894.8" y="98.5" width="6.8" height="432.4" fill="url(#g68)"/>
<rect x="901.6" y="98.5" width="3.8" height="432.4" fill="url(#g69)"/>
<rect x="905.4" y="98.5" width="6.8" height="432.4" fill="url(#g70)"/>
<rect x="912.2" y="98.5" width="6.7" height="432.4" fill="url(#g71)"/>
<rect x="918.9" y="98.5" width="6.8" height="432.4" fill="url(#g72)"/>
<rect x="925.7" y="98.5" width="3.8" height="432.4" fill="url(#g73)"/>
<rect x="929.5" y="98.5" width="10.6" height="432.4" fill="url(#g74)"/>
<rect x="940.1" y="98.5" width="6.8" height="432.4" fill="url(#g75)"/>
<rect x="946.9" y="98.5" width="3.3" height="432.4" fill="url(#g76)"/>
<rect x="950.2" y="98.5" width="6.3" height="432.4" fill="url(#g77)"/>
<rect x="956.5" y="98.5" width="3.9" height="432.4" fill="url(#g78)"/>
<rect x="960.4" y="98.5" width="3.8" height="432.4" fill="url(#g79)"/>
<rect x="964.2" y="98.5" width="5.8" height="432.4" fill="url(#g80)"/>
<rect x="970" y="98.5" width="6.8" height="432.4" fill="url(#g81)"/>
<rect x="976.8" y="98.5" width="6.7" height="432.4" fill="url(#g82)"/>
<rect x="983.5" y="98.5" width="3.9" height="432.4" fill="url(#g83)"/>
<rect x="987.4" y="98.5" width="3.8" height="432.4" fill="url(#g84)"/>
<rect x="991.2" y="98.5" width="6.8" height="432.4" fill="url(#g85)"/>
<rect x="998" y="98.5" width="3.8" height="432.4" fill="url(#g86)"/>
<rect x="1001.8" y="98.5" width="6.8" height="432.4" fill="url(#g87)"/>
<rect x="1008.6" y="98.5" width="6.7" height="432.4" fill="url(#g88)"/>
<rect x="1015.3" y="98.5" width="3.9" height="432.4" fill="url(#g89)"/>
<rect x="1019.2" y="98.5" width="3.9" height="432.4" fill="url(#g90)"/>
<rect x="1023.1" y="98.5" width="6.9" height="432.4" fill="url(#g91)"/>
<rect x="1030" y="98.5" width="5.8" height="432.4" fill="url(#g92)"/>
<rect x="1035.8" y="98.5" width="10.6" height="432.4" fill="url(#g93)"/>
<rect x="1046.4" y="98.5" width="3.8" height="432.4" fill="url(#g94)"/>
<rect x="1050.2" y="98.5" width="3.9" height="432.4" fill="url(#g95)"/>
<rect x="1054.1" y="98.5" width="5.8" height="432.4" fill="url(#g96)"/>
<rect x="1059.9" y="98.5" width="3.8" height="432.4" fill="url(#g97)"/>
<rect x="1063.7" y="98.5" width="3.9" height="432.4" fill="url(#g98)"/>
<rect x="1067.6" y="98.5" width="6.8" height="432.4" fill="url(#g99)"/>
<rect x="1074.4" y="98.5" width="3.8" height="432.4" fill="url(#g100)"/>
<rect x="1078.2" y="98.5" width="9.7" height="432.4" fill="url(#g101)"/>
<rect x="1087.9" y="98.5" width="6.7" height="432.4" fill="url(#g102)"/>
<rect x="1094.6" y="98.5" width="6.7" height="432.4" fill="url(#g103)"/>
<rect x="1101.3" y="98.5" width="6.8" height="432.4" fill="url(#g104)"/>
<rect x="1108.1" y="98.5" width="3.9" height="432.4" fill="url(#g105)"/>
<rect x="1112" y="98.5" width="6.7" height="432.4" fill="url(#g106)"/>
<rect x="1118.7" y="98.5" width="3.9" height="432.4" fill="url(#g107)"/>
<rect x="1122.6" y="98.5" width="3.8" height="432.4" fill="url(#g108)"/>
<rect x="1126.4" y="98.5" width="5.8" height="432.4" fill="url(#g109)"/>
<rect x="1132.2" y="98.5" width="3.9" height="432.4" fill="url(#g110)"/>
<rect x="1136.1" y="98.5" width="3.8" height="432.4" fill="url(#g111)"/>
<rect x="1139.9" y="98.5" width="6.8" height="432.4" fill="url(#g112)"/>
<rect x="1146.7" y="98.5" width="3.8" height="432.4" fill="url(#g113)"/>
<rect x="1150.5" y="98.5" width="6.8" height="432.4" fill="url(#g114)"/>
<rect x="1157.3" y="98.5" width="5.8" height="432.4" fill="url(#g115)"/>
<rect x="1163.1" y="98.5" width="6.9" height="432.4" fill="url(#g116)"/>
<rect x="1170" y="98.5" width="1" height="432.4" fill="url(#g117)"/>
<rect x="1171" y="98.5" width="6.7" height="432.4" fill="url(#g118)"/>
<rect x="1177.7" y="98.5" width="6.8" height="432.4" fill="url(#g119)"/>
<rect x="1184.5" y="98.5" width="6.7" height="432.4" fill="url(#g120)"/>
<rect x="1191.2" y="98.5" width="6.8" height="432.4" fill="url(#g121)"/>
<rect x="1198" y="98.5" width="6.7" height="432.4" fill="url(#g98)"/>
<rect x="1204.7" y="98.5" width="6.8" height="432.4" fill="url(#g122)"/>
<rect x="1211.5" y="98.5" width="6.7" height="432.4" fill="url(#g123)"/>
<rect x="1218.2" y="98.5" width="7.7" height="432.4" fill="url(#g124)"/>
<rect x="1225.9" y="98.5" width="3.9" height="432.4" fill="url(#g125)"/>
<rect x="1229.8" y="98.5" width="6.7" height="432.4" fill="url(#g126)"/>
<rect x="1236.5" y="98.5" width="6.8" height="432.4" fill="url(#g127)"/>
<rect x="1243.3" y="98.5" width="6.7" height="432.4" fill="url(#g128)"/>
<rect x="1250" y="98.5" width="6.8" height="432.4" fill="url(#g129)"/>
<rect x="1256.8" y="98.5" width="3.8" height="432.4" fill="url(#g130)"/>
<rect x="1260.6" y="98.5" width="6.8" height="432.4" fill="url(#g131)"/>
<rect x="1267.4" y="98.5" width="2.9" height="432.4" fill="url(#g132)"/>
<rect x="1270.3" y="98.5" width="3.8" height="432.4" fill="url(#g98)"/>
<rect x="1274.1" y="98.5" width="6.8" height="432.4" fill="url(#g133)"/>
<rect x="1280.9" y="98.5" width="6.7" height="432.4" fill="url(#g134)"/>
<rect x="1287.6" y="98.5" width="7.7" height="432.4" fill="url(#g135)"/>
<rect x="1295.3" y="98.5" width="2.9" height="432.4" fill="url(#g136)"/>
<rect x="1298.2" y="98.5" width="3.9" height="432.4" fill="url(#g137)"/>
<rect x="1302.1" y="98.5" width="7.9" height="432.4" fill="url(#g138)"/>
<rect x="1310" y="98.5" width="1.9" height="432.4" fill="url(#g139)"/>
<rect x="1311.9" y="98.5" width="3.9" height="432.4" fill="url(#g140)"/>
<rect x="1315.8" y="98.5" width="2.9" height="432.4" fill="url(#g141)"/>
<rect x="1318.7" y="98.5" width="7.7" height="432.4" fill="url(#g142)"/>
<rect x="1326.4" y="98.5" width="2.9" height="432.4" fill="url(#g143)"/>
<rect x="1329.3" y="98.5" width="3.8" height="432.4" fill="url(#g144)"/>
<rect x="1333.1" y="98.5" width="6.8" height="432.4" fill="url(#g145)"/>
<rect x="1339.9" y="98.5" width="6.7" height="432.4" fill="url(#g146)"/>
<rect x="1346.6" y="98.5" width="6.8" height="432.4" fill="url(#g147)"/>
<rect x="1353.4" y="98.5" width="3.8" height="432.4" fill="url(#g148)"/>
<rect x="1357.2" y="98.5" width="6.8" height="432.4" fill="url(#g149)"/>
<rect x="1364" y="98.5" width="9.6" height="432.4" fill="url(#g150)"/>
<rect x="1373.6" y="98.5" width="3.9" height="432.4" fill="url(#g151)"/>
<rect x="1377.5" y="98.5" width="6.7" height="432.4" fill="url(#g152)"/>
<rect x="1384.2" y="98.5" width="6.8" height="432.4" fill="url(#g153)"/>
<rect x="1391" y="98.5" width="6.7" height="432.4" fill="url(#g154)"/>
<rect x="1397.7" y="98.5" width="7.8" height="432.4" fill="url(#g155)"/>
<rect x="1405.5" y="98.5" width="6.7" height="432.4" fill="url(#g156)"/>
<rect x="1412.2" y="98.5" width="6.8" height="432.4" fill="url(#g42)"/>
<rect x="1419" y="98.5" width="2.8" height="432.4" fill="url(#g157)"/>
<rect x="1421.8" y="98.5" width="7.8" height="432.4" fill="url(#g158)"/>
<rect x="1429.6" y="98.5" width="3.8" height="432.4" fill="url(#g23)"/>
<rect x="1433.4" y="98.5" width="2.9" height="432.4" fill="url(#g159)"/>
<rect x="1436.3" y="98.5" width="13.7" height="432.4" fill="url(#g160)"/>
<rect x="1450" y="98.5" width="6.7" height="432.4" fill="url(#g161)"/>
<rect x="1456.7" y="98.5" width="6.8" height="432.4" fill="url(#g162)"/>
<rect x="1463.5" y="98.5" width="10.6" height="432.4" fill="url(#g163)"/>
<rect x="1474.1" y="98.5" width="3.9" height="432.4" fill="url(#g164)"/>
<rect x="1478" y="98.5" width="9.6" height="432.4" fill="url(#g165)"/>
<rect x="1487.6" y="98.5" width="7.7" height="432.4" fill="url(#g166)"/>
<rect x="1495.3" y="98.5" width="6.8" height="432.4" fill="url(#g10)"/>
<rect x="1502.1" y="98.5" width="2.9" height="432.4" fill="url(#g167)"/>
<rect x="1505" y="98.5" width="6.7" height="432.4" fill="url(#g12)"/>
<rect x="1511.7" y="98.5" width="6.8" height="432.4" fill="url(#g167)"/>
<rect x="1518.5" y="98.5" width="14.4" height="432.4" fill="url(#g12)"/>
<rect x="1532.9" y="98.5" width="13.5" height="432.4" fill="url(#g168)"/>
<rect x="1546.4" y="98.5" width="7.7" height="432.4" fill="url(#g169)"/>
<rect x="1554.1" y="98.5" width="9.7" height="432.4" fill="url(#g170)"/>
<rect x="1563.8" y="98.5" width="7.3" height="432.4" fill="url(#g171)"/>
<rect x="474.1" y="1503.9" width="6.5" height="6.9" fill="#00f"/>
<rect x="474.1" y="1500.8" width="6.5" height="3.1" fill="#0000f4"/>
<rect x="474.1" y="1494" width="6.5" height="6.8" fill="#0000e8"/>
<rect x="474.1" y="1486.9" width="6.5" height="7.1" fill="#0000dc"/>
<rect x="474.1" y="1480.1" width="6.5" height="6.8" fill="#0000d0"/>
<rect x="474.1" y="1476.7" width="6.5" height="3.4" fill="#0000c6"/>
<rect x="474.1" y="1469.9" width="6.5" height="6.8" fill="#0000ba"/>
<rect x="474.1" y="1462.9" width="6.5" height="7" fill="#0000ae"/>
<rect x="474.1" y="1455.9" width="6.5" height="7" fill="#0000a2"/>
<rect x="474.1" y="1448.6" width="6.5" height="7.3" fill="#000096"/>
<rect x="1433.4" y="468.9" width="2.9" height="62" fill="#0af"/>
<path fill="#0000db" d="M474 530.9H484V537.9H474zM583.7 537.9H602.1V544.9H583.7zM735.7 569H742.7V575.8H735.7zM842.6 575.8H846.4V579.9H842.6zM1256.8 575.8H1260.6V579.9H1256.8zM1397.7 575.8H1405.5V579.9H1397.7zM505.7 1486.9H515.7V1494H505.7zM619 1469.9H626V1476.7H619zM636.7 1469.9H640V1476.7H636.7zM671 1469.9H678V1476.7H671zM702 1462.9H708.7V1469.9H702zM812.7 1469.9H816V1476.7H812.7zM1005.4 1462.9H1019.4V1469.9H1005.4zM1084.7 1462.9H1092V1469.9H1084.7zM1226 1469.9H1230V1476.7H1226zM1264.4 1469.9H1271V1476.7H1264.4zM1361 1469.9H1367.7V1476.7H1361zM1409 1476.7H1416V1480.1H1409zM1464 1494H1468V1500.8H1464zM1478 1500.8H1482V1503.9H1478zM1554 1527H1558V1549H1554zM1568.1 1500.8H1575.1V1503.9H1568.1z"/>
<path fill="#0000d4" d="M474 537.9H484V544.9H474zM484 548.3H487.7V555.1H484zM532.4 548.3H539.4V555.1H532.4zM602.1 548.3H608.7V555.1H602.1zM704.7 575.8H711.7V579.9H704.7zM1211.5 575.8H1218.2V579.9H1211.5zM1218.2 575.8H1225.9V579.9H1218.2zM1310 569H1311.9V575.8H1310zM611.4 1486.9H614V1494H611.4zM715.7 1469.9H722.7V1476.7H715.7zM757.3 1462.9H767.7V1469.9H757.3z"/>
<path fill="#0000cb" d="M474 544.9H484V548.3H474zM1118.7 579.9H1122.6V586.7H1118.7zM1311.9 575.8H1315.8V579.9H1311.9zM495.3 1476.7H502V1480.1H495.3zM533 1486.9H543.4V1494H533zM691.7 1462.9H695V1469.9H691.7zM1254 1455.9H1260.7V1462.9H1254zM1499.4 1486.9H1506V1494H1499.4z"/>
<path fill="#0000c2" d="M474 548.3H484V555.1H474zM735.7 575.8H742.7V579.9H735.7zM750 579.9H753.9V586.7H750zM822.3 579.9H826.2V586.7H822.3zM940.1 579.9H946.9V586.7H940.1zM1008.6 579.9H1015.3V586.7H1008.6zM1287.6 579.9H1295.3V586.7H1287.6zM767.7 1455.9H774.3V1462.9H767.7zM833 1455.9H847V1462.9H833zM899 1455.9H906V1462.9H899zM923.3 1455.9H933V1462.9H923.3zM981.4 1455.9H991.4V1462.9H981.4zM1019.4 1455.9H1027.4V1462.9H1019.4zM1040.7 1455.9H1054V1462.9H1040.7zM1106 1455.9H1112.7V1462.9H1106zM1126.4 1455.9H1137V1462.9H1126.4zM1181.3 1455.9H1188.3V1462.9H1181.3zM1260.7 1455.9H1264.4V1462.9H1260.7zM1437.1 1480.1H1454V1486.9H1437.1z"/>
<path fill="#0000b9" d="M474 555.1H484V561.9H474zM1059.9 579.9H1063.7V586.7H1059.9zM522.7 1486.9H529.7V1494H522.7zM698.7 1455.9H702V1462.9H698.7zM798.4 1462.9H802V1469.9H798.4zM1212.7 1462.9H1216V1469.9H1212.7zM1216 1455.9H1226V1462.9H1216zM1330 1462.9H1333V1469.9H1330zM1464 1476.7H1468V1480.1H1464zM1482 1486.9H1492V1494H1482z"/>
<path fill="#0000af" d="M474 561.9H484V569H474zM511.7 569H518.7V575.8H511.7zM791.5 575.8H797.2V579.9H791.5zM846.4 579.9H853.2V586.7H846.4zM1163.1 579.9H1170V586.7H1163.1zM1311.9 579.9H1315.8V586.7H1311.9zM1433.4 569H1436.3V575.8H1433.4zM1532.9 575.8H1546.4V579.9H1532.9zM640 1455.9H643.3V1462.9H640zM650 1455.9H654V1462.9H650zM657 1469.9H664V1476.7H657zM871.1 1455.9H878.1V1462.9H871.1zM1305.7 1455.9H1316V1462.9H1305.7zM1437.1 1469.9H1454V1476.7H1437.1zM1558 1480.1H1568.1V1486.9H1558z"/>
<path fill="#0000a5" d="M474 569H484V575.8H474zM498 575.8H501.7V579.9H498zM608.7 579.9H610V586.7H608.7zM653 575.8H660V579.9H653zM722.1 575.8H732.1V579.9H722.1zM1274.1 579.9H1280.9V586.7H1274.1zM1326.4 579.9H1329.3V586.7H1326.4zM1412.2 575.8H1419V579.9H1412.2zM574 1455.9H577.7V1462.9H574zM614 1455.9H619V1462.9H614zM702 1448.6H708.7V1455.9H702zM826 1448.6H833V1455.9H826zM887.7 1448.6H894V1455.9H887.7zM1005.4 1448.6H1019.4V1455.9H1005.4zM1084.7 1448.6H1092V1455.9H1084.7zM1230 1448.6H1240V1455.9H1230zM1292.1 1448.6H1302.1V1455.9H1292.1zM1482 1469.9H1492V1476.7H1482zM1537 1455.9H1550.7V1462.9H1537z"/>
<path fill="#00009d" d="M474 575.8H484V579.9H474zM533 1455.9H543.4V1462.9H533zM547 1448.6H553.7V1455.9H547zM633 1448.6H636.7V1455.9H633zM657 1455.9H664V1462.9H657zM664 1448.6H667.7V1455.9H664zM850.4 1448.6H857.4V1455.9H850.4zM1337 1448.6H1344V1455.9H1337zM1426.1 1448.6H1437.1V1455.9H1426.1zM1499.4 1455.9H1506V1462.9H1499.4zM1509 1448.6H1516V1455.9H1509zM1523 1448.6H1537V1455.9H1523z"/>
<path fill="#000095" d="M474 579.9H484V586.7H474zM1478 579.9H1487.6V586.7H1478zM488 1448.6H491.7V1455.9H488zM515.7 1448.6H522.7V1455.9H515.7zM533 1448.6H543.4V1455.9H533zM657 1448.6H664V1455.9H657zM726.1 1448.6H739.4V1455.9H726.1zM1416 1448.6H1426.1V1455.9H1416zM1437.1 1448.6H1454V1455.9H1437.1zM1464 1448.6H1468V1455.9H1464zM1499.4 1448.6H1506V1455.9H1499.4zM1550.7 1448.6H1554V1455.9H1550.7z"/>
<path fill="#0000f6" d="M484 530.9H487.7V537.9H484zM532.4 530.9H539.4V537.9H532.4zM602.1 530.9H608.7V537.9H602.1zM857 561.9H859.9V569H857zM901.6 575.8H905.4V579.9H901.6zM960.4 575.8H964.2V579.9H960.4zM970 575.8H976.8V579.9H970zM1087.9 575.8H1094.6V579.9H1087.9zM1157.3 575.8H1163.1V579.9H1157.3zM1177.7 575.8H1184.5V579.9H1177.7zM1421.8 561.9H1429.6V569H1421.8zM1474.1 530.9H1478V537.9H1474.1zM1495.3 530.9H1502.1V537.9H1495.3zM614 1494H619V1500.8H614zM684.7 1476.7H691.7V1480.1H684.7zM708.7 1476.7H715.7V1480.1H708.7zM802 1476.7H812.7V1480.1H802zM1143.7 1469.9H1154.1V1476.7H1143.7zM1333 1476.7H1337V1480.1H1333zM1464 1549H1468V1571.5H1464zM1537 1494H1550.7V1500.8H1537z"/>
<path fill="#0000ed" d="M484 537.9H487.7V544.9H484zM532.4 537.9H539.4V544.9H532.4zM602.1 537.9H608.7V544.9H602.1zM667 569H674V575.8H667zM1171 575.8H1177.7V579.9H1171zM1474.1 537.9H1478V544.9H1474.1zM1495.3 537.9H1502.1V544.9H1495.3zM533 1527H543.4V1549H533zM619 1476.7H626V1480.1H619zM636.7 1476.7H640V1480.1H636.7zM657 1503.9H664V1527H657zM671 1476.7H678V1480.1H671zM754 1469.9H757.3V1476.7H754zM812.7 1476.7H816V1480.1H812.7zM1064 1469.9H1068V1476.7H1064zM1137 1469.9H1140.1V1476.7H1137zM1174 1469.9H1181.3V1476.7H1174zM1226 1476.7H1230V1480.1H1226zM1264.4 1476.7H1271V1480.1H1264.4zM1271 1469.9H1275V1476.7H1271zM1361 1476.7H1367.7V1480.1H1361z"/>
<path fill="#0000e0" d="M484 544.9H487.7V548.3H484zM487.7 561.9H491.3V569H487.7zM532.4 544.9H539.4V548.3H532.4zM602.1 544.9H608.7V548.3H602.1zM639.3 575.8H646V579.9H639.3zM677.4 575.8H680.7V579.9H677.4zM770.2 575.8H783.7V579.9H770.2zM1184.5 575.8H1191.2V579.9H1184.5zM1315.8 561.9H1318.7V569H1315.8zM1456.7 548.3H1463.5V555.1H1456.7zM1474.1 544.9H1478V548.3H1474.1zM1495.3 544.9H1502.1V548.3H1495.3zM611.4 1494H614V1500.8H611.4zM657 1500.8H664V1503.9H657z"/>
<path fill="#0000c8" d="M484 555.1H487.7V561.9H484zM487.7 569H491.3V575.8H487.7zM532.4 555.1H539.4V561.9H532.4zM602.1 555.1H608.7V561.9H602.1zM956.5 579.9H960.4V586.7H956.5zM1019.2 579.9H1023.1V586.7H1019.2zM1094.6 579.9H1101.3V586.7H1094.6zM1315.8 569H1318.7V575.8H1315.8zM1419 561.9H1421.8V569H1419zM1474.1 555.1H1478V561.9H1474.1zM1478 544.9H1487.6V548.3H1478zM1487.6 561.9H1495.3V569H1487.6zM1495.3 555.1H1502.1V561.9H1495.3zM1546.4 548.3H1554.1V555.1H1546.4zM574 1476.7H577.7V1480.1H574zM611.4 1480.1H614V1486.9H611.4zM1112.7 1455.9H1116V1462.9H1112.7zM1246.7 1455.9H1254V1462.9H1246.7zM1478 1486.9H1482V1494H1478zM1554 1494H1558V1500.8H1554zM1568.1 1486.9H1575.1V1494H1568.1z"/>
<path fill="#00b" d="M484 561.9H487.7V569H484zM518.7 555.1H525.7V561.9H518.7zM532.4 561.9H539.4V569H532.4zM602.1 561.9H608.7V569H602.1zM811.7 579.9H822.3V586.7H811.7zM1474.1 561.9H1478V569H1474.1zM1495.3 561.9H1502.1V569H1495.3zM553.7 1469.9H567.4V1476.7H553.7zM774.3 1455.9H788V1462.9H774.3zM816 1455.9H826V1462.9H816zM864.1 1469.9H871.1V1476.7H864.1zM1344 1469.9H1350.4V1476.7H1344zM1382 1455.9H1389V1462.9H1382zM1454 1469.9H1460.7V1476.7H1454z"/>
<path fill="#0000ad" d="M484 569H487.7V575.8H484zM532.4 569H539.4V575.8H532.4zM602.1 569H608.7V575.8H602.1zM636 579.9H639.3V586.7H636zM711.7 579.9H718.7V586.7H711.7zM783.7 579.9H791.5V586.7H783.7zM866.7 579.9H873.4V586.7H866.7zM1063.7 579.9H1067.6V586.7H1063.7zM1198 579.9H1204.7V586.7H1198zM1270.3 579.9H1274.1V586.7H1270.3zM1318.7 579.9H1326.4V586.7H1318.7zM1339.9 575.8H1346.6V579.9H1339.9zM1450 575.8H1456.7V579.9H1450zM1474.1 569H1478V575.8H1474.1zM1495.3 569H1502.1V575.8H1495.3zM529.7 1462.9H533V1469.9H529.7zM1116 1448.6H1123V1455.9H1116zM1460.7 1462.9H1464V1469.9H1460.7zM1478 1469.9H1482V1476.7H1478zM1492 1462.9H1499.4V1469.9H1492zM1568.1 1469.9H1575.1V1476.7H1568.1z"/>
<path fill="#0000a3" d="M484 575.8H487.7V579.9H484zM487.7 579.9H491.3V586.7H487.7zM532.4 575.8H539.4V579.9H532.4zM602.1 575.8H608.7V579.9H602.1zM859.9 579.9H866.7V586.7H859.9zM1315.8 579.9H1318.7V586.7H1315.8zM1474.1 575.8H1478V579.9H1474.1zM1495.3 575.8H1502.1V579.9H1495.3zM553.7 1455.9H567.4V1462.9H553.7zM643.3 1448.6H650V1455.9H643.3zM757.3 1448.6H767.7V1455.9H757.3zM774.3 1448.6H788V1455.9H774.3zM816 1448.6H826V1455.9H816zM864.1 1455.9H871.1V1462.9H864.1zM1344 1455.9H1350.4V1462.9H1344zM1357.4 1448.6H1361V1455.9H1357.4zM1382 1448.6H1389V1455.9H1382zM1395 1448.6H1402V1455.9H1395zM1454 1455.9H1460.7V1462.9H1454zM1558 1469.9H1568.1V1476.7H1558z"/>
<path fill="#009" d="M484 579.9H487.7V586.7H484zM511.7 579.9H518.7V586.7H511.7zM532.4 579.9H539.4V586.7H532.4zM602.1 579.9H608.7V586.7H602.1zM1433.4 579.9H1436.3V586.7H1433.4zM1436.3 579.9H1450V586.7H1436.3zM1474.1 579.9H1478V586.7H1474.1zM1495.3 579.9H1502.1V586.7H1495.3zM495.3 1448.6H502V1455.9H495.3zM543.4 1448.6H547V1455.9H543.4zM577.7 1448.6H587.7V1455.9H577.7zM654 1448.6H657V1455.9H654zM1278 1448.6H1285.1V1455.9H1278z"/>
<path fill="#0053ff" d="M487.7 530.9H491.3V537.9H487.7zM753.9 561.9H763.5V569H753.9zM1315.8 530.9H1318.7V537.9H1315.8z"/>
<path fill="#0040ff" d="M487.7 537.9H491.3V544.9H487.7zM573.7 530.9H583.7V537.9H573.7zM1067.6 555.1H1074.4V561.9H1067.6zM1280.9 555.1H1287.6V561.9H1280.9zM1298.2 555.1H1302.1V561.9H1298.2zM1315.8 537.9H1318.7V544.9H1315.8zM1329.3 555.1H1333.1V561.9H1329.3zM1357.2 555.1H1364V561.9H1357.2zM1502.1 530.9H1505V537.9H1502.1zM1511.7 530.9H1518.5V537.9H1511.7zM691.7 1494H695V1500.8H691.7z"/>
<path fill="#0027ff" d="M487.7 544.9H491.3V548.3H487.7zM829.1 569H835.8V575.8H829.1zM1054.1 569H1059.9V575.8H1054.1zM1126.4 569H1132.2V575.8H1126.4zM1315.8 544.9H1318.7V548.3H1315.8zM640 1494H643.3V1500.8H640zM650 1494H654V1500.8H650zM667.7 1486.9H671V1494H667.7zM678 1486.9H681.4V1494H678zM746.7 1486.9H754V1494H746.7zM857.4 1486.9H861.1V1494H857.4zM871.1 1494H878.1V1500.8H871.1zM1071 1486.9H1078V1494H1071zM1168.1 1486.9H1174V1494H1168.1zM1285.1 1486.9H1292.1V1494H1285.1zM1305.7 1494H1316V1500.8H1305.7zM1378 1486.9H1382V1494H1378z"/>
<path fill="#0010ff" d="M487.7 548.3H491.3V555.1H487.7zM1310 555.1H1311.9V561.9H1310zM1315.8 548.3H1318.7V555.1H1315.8zM553.7 1503.9H567.4V1527H553.7zM864.1 1503.9H871.1V1527H864.1zM1143.7 1476.7H1154.1V1480.1H1143.7zM1344 1503.9H1350.4V1527H1344zM1454 1503.9H1460.7V1527H1454z"/>
<path fill="#0000f7" d="M487.7 555.1H491.3V561.9H487.7zM525.7 548.3H529V555.1H525.7zM622 569H629V575.8H622zM680.7 569H687.7V575.8H680.7zM718.7 548.3H722.1V555.1H718.7zM853.2 569H857V575.8H853.2zM929.5 569H940.1V575.8H929.5zM1101.3 575.8H1108.1V579.9H1101.3zM1150.5 575.8H1157.3V579.9H1150.5zM1191.2 569H1198V575.8H1191.2zM1204.7 548.3H1211.5V555.1H1204.7zM1315.8 555.1H1318.7V561.9H1315.8zM1419 544.9H1421.8V548.3H1419zM1487.6 544.9H1495.3V548.3H1487.6zM640 1480.1H643.3V1486.9H640zM650 1480.1H654V1486.9H650zM767.7 1469.9H774.3V1476.7H767.7zM798.4 1486.9H802V1494H798.4zM871.1 1480.1H878.1V1486.9H871.1zM981.4 1469.9H991.4V1476.7H981.4zM1126.4 1469.9H1137V1476.7H1126.4zM1212.7 1486.9H1216V1494H1212.7zM1305.7 1480.1H1316V1486.9H1305.7zM1330 1486.9H1333V1494H1330z"/>
<path fill="#0000b5" d="M487.7 575.8H491.3V579.9H487.7zM529 569H532.4V575.8H529zM694.7 579.9H698V586.7H694.7zM929.5 579.9H940.1V586.7H929.5zM1191.2 579.9H1198V586.7H1191.2zM1315.8 575.8H1318.7V579.9H1315.8zM502 1469.9H505.7V1476.7H502zM543.4 1462.9H547V1469.9H543.4zM577.7 1462.9H587.7V1469.9H577.7zM654 1462.9H657V1469.9H654zM667.7 1455.9H671V1462.9H667.7zM678 1455.9H681.4V1462.9H678zM746.7 1455.9H754V1462.9H746.7zM795 1469.9H798.4V1476.7H795zM857.4 1455.9H861.1V1462.9H857.4zM1071 1455.9H1078V1462.9H1071zM1168.1 1455.9H1174V1462.9H1168.1zM1278 1462.9H1285.1V1469.9H1278zM1285.1 1455.9H1292.1V1462.9H1285.1zM1378 1455.9H1382V1462.9H1378zM1468 1469.9H1478V1476.7H1468z"/>
<path fill="#0036ff" d="M491.3 530.9H498V537.9H491.3zM549.7 530.9H563.4V537.9H549.7zM610 530.9H615V537.9H610zM1001.8 561.9H1008.6V569H1001.8zM1243.3 569H1250V575.8H1243.3zM1311.9 555.1H1315.8V561.9H1311.9zM547 1500.8H553.7V1503.9H547zM698.7 1486.9H702V1494H698.7zM767.7 1480.1H774.3V1486.9H767.7zM981.4 1480.1H991.4V1486.9H981.4zM1126.4 1480.1H1137V1486.9H1126.4zM1216 1486.9H1226V1494H1216z"/>
<path fill="#0026ff" d="M491.3 537.9H498V544.9H491.3zM549.7 537.9H563.4V544.9H549.7zM610 537.9H615V544.9H610zM1015.3 569H1019.2V575.8H1015.3zM1046.4 569H1050.2V575.8H1046.4zM1146.7 569H1150.5V575.8H1146.7zM567.4 1500.8H574V1503.9H567.4zM654 1527H657V1549H654zM1278 1527H1285.1V1549H1278z"/>
<path fill="#01f" d="M491.3 544.9H498V548.3H491.3zM549.7 544.9H563.4V548.3H549.7zM610 544.9H615V548.3H610zM1074.4 569H1078.2V575.8H1074.4zM1295.3 569H1298.2V575.8H1295.3zM626 1480.1H633V1486.9H626zM695 1480.1H698.7V1486.9H695zM933 1480.1H943.7V1486.9H933zM1002.1 1480.1H1005.4V1486.9H1002.1zM1140.1 1480.1H1143.7V1486.9H1140.1z"/>
<path fill="#0000fc" d="M491.3 548.3H498V555.1H491.3zM549.7 548.3H563.4V555.1H549.7zM610 548.3H615V555.1H610zM735.7 561.9H742.7V569H735.7zM543.4 1494H547V1500.8H543.4zM577.7 1494H587.7V1500.8H577.7zM611.4 1527H614V1549H611.4zM654 1494H657V1500.8H654zM960.7 1469.9H981.4V1476.7H960.7zM991.4 1469.9H995V1476.7H991.4zM1054 1469.9H1064V1476.7H1054zM1092 1469.9H1106V1476.7H1092zM1154.1 1469.9H1168.1V1476.7H1154.1zM1240 1469.9H1246.7V1476.7H1240zM1278 1494H1285.1V1500.8H1278zM1323 1480.1H1330V1486.9H1323z"/>
<path fill="#0000e9" d="M491.3 555.1H498V561.9H491.3zM549.7 555.1H563.4V561.9H549.7zM610 555.1H615V561.9H610zM753.9 575.8H763.5V579.9H753.9zM846.4 569H853.2V575.8H846.4zM1163.1 569H1170V575.8H1163.1zM505.7 1494H515.7V1500.8H505.7zM722.7 1494H726.1V1500.8H722.7zM788 1476.7H795V1480.1H788zM1068 1476.7H1071V1480.1H1068zM1202 1476.7H1209V1480.1H1202zM1209 1494H1212.7V1500.8H1209zM1246.7 1462.9H1254V1469.9H1246.7zM1275 1476.7H1278V1480.1H1275zM1316 1476.7H1319.7V1480.1H1316zM1350.4 1476.7H1357.4V1480.1H1350.4zM1478 1527H1482V1549H1478zM1568.1 1527H1575.1V1549H1568.1z"/>
<path fill="#0000d5" d="M491.3 561.9H498V569H491.3zM529 555.1H532.4V561.9H529zM549.7 561.9H563.4V569H549.7zM610 561.9H615V569H610zM1333.1 569H1339.9V575.8H1333.1zM1474.1 548.3H1478V555.1H1474.1zM1495.3 548.3H1502.1V555.1H1495.3zM533 1494H543.4V1500.8H533zM774.3 1462.9H788V1469.9H774.3zM816 1462.9H826V1469.9H816zM1323 1469.9H1330V1476.7H1323zM1382 1462.9H1389V1469.9H1382z"/>
<path fill="#0000c0" d="M491.3 569H498V575.8H491.3zM549.7 569H563.4V575.8H549.7zM610 569H615V575.8H610zM857 575.8H859.9V579.9H857zM1421.8 575.8H1429.6V579.9H1421.8zM1478 548.3H1487.6V555.1H1478zM522.7 1494H529.7V1500.8H522.7zM533 1480.1H543.4V1486.9H533zM543.4 1469.9H547V1476.7H543.4zM577.7 1469.9H587.7V1476.7H577.7zM633 1462.9H636.7V1469.9H633zM664 1462.9H667.7V1469.9H664zM850.4 1462.9H857.4V1469.9H850.4zM894 1455.9H899V1462.9H894zM916 1455.9H923.3V1462.9H916zM954 1455.9H960.7V1462.9H954zM1027.4 1455.9H1040.7V1462.9H1027.4zM1078 1455.9H1084.7V1462.9H1078zM1337 1462.9H1344V1469.9H1337zM1367.7 1455.9H1375V1462.9H1367.7zM1389 1455.9H1395V1462.9H1389zM1426.1 1462.9H1437.1V1469.9H1426.1zM1460.7 1476.7H1464V1480.1H1460.7zM1492 1476.7H1499.4V1480.1H1492zM1509 1462.9H1516V1469.9H1509zM1523 1462.9H1537V1469.9H1523z"/>
<path fill="#0000b0" d="M491.3 575.8H498V579.9H491.3zM498 569H501.7V575.8H498zM549.7 575.8H563.4V579.9H549.7zM610 575.8H615V579.9H610zM615 579.9H622V586.7H615zM653 569H660V575.8H653zM687.7 579.9H691V586.7H687.7zM722.1 569H732.1V575.8H722.1zM1260.6 579.9H1267.4V586.7H1260.6zM1412.2 569H1419V575.8H1412.2zM488 1469.9H491.7V1476.7H488zM515.7 1469.9H522.7V1476.7H515.7zM553.7 1462.9H567.4V1469.9H553.7zM715.7 1455.9H722.7V1462.9H715.7zM726.1 1469.9H739.4V1476.7H726.1zM864.1 1462.9H871.1V1469.9H864.1zM1344 1462.9H1350.4V1469.9H1344zM1416 1469.9H1426.1V1476.7H1416zM1454 1462.9H1460.7V1469.9H1454zM1550.7 1469.9H1554V1476.7H1550.7z"/>
<path fill="#0000a0" d="M491.3 579.9H498V586.7H491.3zM549.7 579.9H563.4V586.7H549.7zM610 579.9H615V586.7H610zM502 1455.9H505.7V1462.9H502zM611.4 1455.9H614V1462.9H611.4zM619 1448.6H626V1455.9H619zM636.7 1448.6H640V1455.9H636.7zM671 1448.6H678V1455.9H671zM691.7 1448.6H695V1455.9H691.7zM795 1455.9H798.4V1462.9H795zM812.7 1448.6H816V1455.9H812.7zM1226 1448.6H1230V1455.9H1226zM1264.4 1448.6H1271V1455.9H1264.4zM1361 1448.6H1367.7V1455.9H1361zM1468 1455.9H1478V1462.9H1468z"/>
<path fill="#0000fd" d="M498 530.9H501.7V537.9H498zM653 530.9H660V537.9H653zM1132.2 569H1136.1V575.8H1132.2zM1243.3 575.8H1250V579.9H1243.3zM1456.7 537.9H1463.5V544.9H1456.7zM502 1503.9H505.7V1527H502zM553.7 1500.8H567.4V1503.9H553.7zM567.4 1486.9H574V1494H567.4zM739.4 1486.9H746.7V1494H739.4zM757.3 1476.7H767.7V1480.1H757.3zM795 1503.9H798.4V1527H795zM861.1 1486.9H864.1V1494H861.1zM864.1 1500.8H871.1V1503.9H864.1zM1344 1500.8H1350.4V1503.9H1344zM1454 1500.8H1460.7V1503.9H1454zM1468 1503.9H1478V1527H1468z"/>
<path fill="#0000f3" d="M498 537.9H501.7V544.9H498zM653 537.9H660V544.9H653zM950.2 575.8H956.5V579.9H950.2zM1015.3 575.8H1019.2V579.9H1015.3zM1046.4 575.8H1050.2V579.9H1046.4zM1146.7 575.8H1150.5V579.9H1146.7zM1353.4 569H1357.2V575.8H1353.4zM547 1480.1H553.7V1486.9H547zM633 1480.1H636.7V1486.9H633zM664 1480.1H667.7V1486.9H664zM850.4 1480.1H857.4V1486.9H850.4zM1116 1462.9H1123V1469.9H1116zM1337 1480.1H1344V1486.9H1337zM1426.1 1480.1H1437.1V1486.9H1426.1zM1509 1480.1H1516V1486.9H1509zM1523 1480.1H1537V1486.9H1523z"/>
<path fill="#0000e6" d="M498 544.9H501.7V548.3H498zM563.4 561.9H570V569H563.4zM653 544.9H660V548.3H653zM1074.4 575.8H1078.2V579.9H1074.4zM1295.3 575.8H1298.2V579.9H1295.3zM1346.6 569H1353.4V575.8H1346.6zM529.7 1494H533V1500.8H529.7zM574 1486.9H577.7V1494H574zM698.7 1469.9H702V1476.7H698.7zM1216 1469.9H1226V1476.7H1216zM1323 1476.7H1330V1480.1H1323zM1460.7 1494H1464V1500.8H1460.7zM1492 1494H1499.4V1500.8H1492z"/>
<path fill="#0000da" d="M498 548.3H501.7V555.1H498zM653 548.3H660V555.1H653zM722.1 548.3H732.1V555.1H722.1zM1132.2 575.8H1136.1V579.9H1132.2zM1412.2 548.3H1419V555.1H1412.2zM480.6 1527H488V1549H480.6zM495.3 1480.1H502V1486.9H495.3zM587.7 1527H611.4V1549H587.7zM826 1462.9H833V1469.9H826zM887.7 1462.9H894V1469.9H887.7zM1230 1462.9H1240V1469.9H1230zM1292.1 1462.9H1302.1V1469.9H1292.1z"/>
<path fill="#00c" d="M498 555.1H501.7V561.9H498zM563.4 569H570V575.8H563.4zM653 555.1H660V561.9H653zM722.1 555.1H732.1V561.9H722.1zM846.4 575.8H853.2V579.9H846.4zM1108.1 579.9H1112V586.7H1108.1zM1163.1 575.8H1170V579.9H1163.1zM1412.2 555.1H1419V561.9H1412.2zM1554.1 537.9H1563.8V544.9H1554.1zM529.7 1480.1H533V1486.9H529.7zM543.4 1476.7H547V1480.1H543.4zM577.7 1476.7H587.7V1480.1H577.7zM654 1476.7H657V1480.1H654zM657 1486.9H664V1494H657zM667.7 1462.9H671V1469.9H667.7zM678 1462.9H681.4V1469.9H678zM746.7 1462.9H754V1469.9H746.7zM857.4 1462.9H861.1V1469.9H857.4zM1071 1462.9H1078V1469.9H1071zM1168.1 1462.9H1174V1469.9H1168.1zM1278 1476.7H1285.1V1480.1H1278zM1285.1 1462.9H1292.1V1469.9H1285.1zM1378 1462.9H1382V1469.9H1378zM1409 1469.9H1416V1476.7H1409zM1460.7 1480.1H1464V1486.9H1460.7zM1492 1480.1H1499.4V1486.9H1492zM1558 1503.9H1568.1V1527H1558z"/>
<path fill="#0000be" d="M498 561.9H501.7V569H498zM653 561.9H660V569H653zM1074.4 579.9H1078.2V586.7H1074.4zM1295.3 579.9H1298.2V586.7H1295.3zM1310 575.8H1311.9V579.9H1310zM1546.4 555.1H1554.1V561.9H1546.4zM502 1476.7H505.7V1480.1H502zM614 1469.9H619V1476.7H614zM795 1476.7H798.4V1480.1H795zM826 1455.9H833V1462.9H826zM887.7 1455.9H894V1462.9H887.7zM1230 1455.9H1240V1462.9H1230zM1292.1 1455.9H1302.1V1462.9H1292.1zM1409 1462.9H1416V1469.9H1409zM1468 1476.7H1478V1480.1H1468zM1478 1480.1H1482V1486.9H1478zM1537 1469.9H1550.7V1476.7H1537zM1568.1 1480.1H1575.1V1486.9H1568.1z"/>
<path fill="#00009a" d="M498 579.9H501.7V586.7H498zM653 579.9H660V586.7H653zM722.1 579.9H732.1V586.7H722.1zM1412.2 579.9H1419V586.7H1412.2zM480.6 1455.9H488V1462.9H480.6zM491.7 1448.6H495.3V1455.9H491.7zM587.7 1455.9H611.4V1462.9H587.7zM1319.7 1448.6H1323V1455.9H1319.7zM1506 1448.6H1509V1455.9H1506zM1516 1448.6H1523V1455.9H1516zM1554 1455.9H1558V1462.9H1554z"/>
<path fill="#0024ff" d="M501.7 530.9H511.7V537.9H501.7zM570 530.9H573.7V537.9H570zM732.1 530.9H735.7V537.9H732.1zM1211.5 561.9H1218.2V569H1211.5zM1218.2 561.9H1225.9V569H1218.2zM1463.5 530.9H1474.1V537.9H1463.5zM691.7 1486.9H695V1494H691.7zM1112.7 1476.7H1116V1480.1H1112.7z"/>
<path fill="#0016ff" d="M501.7 537.9H511.7V544.9H501.7zM570 537.9H573.7V544.9H570zM650 548.3H653V555.1H650zM732.1 537.9H735.7V544.9H732.1zM753.9 569H763.5V575.8H753.9zM1419 530.9H1421.8V537.9H1419zM1463.5 537.9H1474.1V544.9H1463.5zM1487.6 530.9H1495.3V537.9H1487.6zM491.7 1500.8H495.3V1503.9H491.7zM553.7 1549H567.4V1571.5H553.7zM847 1480.1H850.4V1486.9H847zM864.1 1549H871.1V1571.5H864.1zM878.1 1480.1H887.7V1486.9H878.1zM906 1476.7H916V1480.1H906zM1302.1 1480.1H1305.7V1486.9H1302.1zM1344 1549H1350.4V1571.5H1344zM1375 1480.1H1378V1486.9H1375zM1454 1549H1460.7V1571.5H1454z"/>
<path fill="#0002ff" d="M501.7 544.9H511.7V548.3H501.7zM570 544.9H573.7V548.3H570zM732.1 544.9H735.7V548.3H732.1zM1108.1 575.8H1112V579.9H1108.1zM1377.5 569H1384.2V575.8H1377.5zM1463.5 544.9H1474.1V548.3H1463.5zM529.7 1503.9H533V1527H529.7zM681.4 1476.7H684.7V1480.1H681.4zM788 1480.1H795V1486.9H788zM943.7 1476.7H954V1480.1H943.7zM995 1476.7H1002.1V1480.1H995zM1068 1480.1H1071V1486.9H1068zM1188.3 1476.7H1202V1480.1H1188.3zM1202 1480.1H1209V1486.9H1202zM1275 1480.1H1278V1486.9H1275zM1316 1480.1H1319.7V1486.9H1316zM1350.4 1480.1H1357.4V1486.9H1350.4zM1402 1476.7H1409V1480.1H1402zM1460.7 1503.9H1464V1527H1460.7zM1492 1503.9H1499.4V1527H1492z"/>
<path fill="#0000f1" d="M501.7 548.3H511.7V555.1H501.7zM511.7 537.9H518.7V544.9H511.7zM570 548.3H573.7V555.1H570zM732.1 548.3H735.7V555.1H732.1zM912.2 575.8H918.9V579.9H912.2zM1023.1 575.8H1030V579.9H1023.1zM1030 575.8H1035.8V579.9H1030zM1078.2 575.8H1087.9V579.9H1078.2zM1433.4 537.9H1436.3V544.9H1433.4zM1463.5 548.3H1474.1V555.1H1463.5zM529.7 1500.8H533V1503.9H529.7zM657 1549H664V1571.5H657zM702 1469.9H708.7V1476.7H702zM1005.4 1469.9H1019.4V1476.7H1005.4zM1084.7 1469.9H1092V1476.7H1084.7z"/>
<path fill="#0000df" d="M501.7 555.1H511.7V561.9H501.7zM518.7 530.9H525.7V537.9H518.7zM570 555.1H573.7V561.9H570zM629 569H632.7V575.8H629zM646 569H650V575.8H646zM660 569H663.7V575.8H660zM732.1 555.1H735.7V561.9H732.1zM1429.6 569H1433.4V575.8H1429.6zM1463.5 555.1H1474.1V561.9H1463.5zM547 1476.7H553.7V1480.1H547zM767.7 1462.9H774.3V1469.9H767.7zM981.4 1462.9H991.4V1469.9H981.4zM1126.4 1462.9H1137V1469.9H1126.4zM1499.4 1500.8H1506V1503.9H1499.4z"/>
<path fill="#0000ce" d="M501.7 561.9H511.7V569H501.7zM518.7 544.9H525.7V548.3H518.7zM570 561.9H573.7V569H570zM615 575.8H622V579.9H615zM732.1 561.9H735.7V569H732.1zM1067.6 575.8H1074.4V579.9H1067.6zM1280.9 575.8H1287.6V579.9H1280.9zM1298.2 575.8H1302.1V579.9H1298.2zM1329.3 575.8H1333.1V579.9H1329.3zM1357.2 575.8H1364V579.9H1357.2zM1463.5 561.9H1474.1V569H1463.5zM488 1486.9H491.7V1494H488zM505.7 1480.1H515.7V1486.9H505.7zM515.7 1486.9H522.7V1494H515.7zM626 1462.9H633V1469.9H626zM695 1462.9H698.7V1469.9H695zM726.1 1486.9H739.4V1494H726.1zM933 1462.9H943.7V1469.9H933zM1002.1 1462.9H1005.4V1469.9H1002.1zM1116 1455.9H1123V1462.9H1116zM1140.1 1462.9H1143.7V1469.9H1140.1zM1416 1486.9H1426.1V1494H1416zM1550.7 1486.9H1554V1494H1550.7zM1558 1549H1568.1V1571.5H1558z"/>
<path fill="#0000ba" d="M501.7 569H511.7V575.8H501.7zM570 569H573.7V575.8H570zM608.7 575.8H610V579.9H608.7zM639.3 579.9H646V586.7H639.3zM677.4 579.9H680.7V586.7H677.4zM732.1 569H735.7V575.8H732.1zM770.2 579.9H783.7V586.7H770.2zM1184.5 579.9H1191.2V586.7H1184.5zM1274.1 575.8H1280.9V579.9H1274.1zM1326.4 575.8H1329.3V579.9H1326.4zM1463.5 569H1474.1V575.8H1463.5zM643.3 1455.9H650V1462.9H643.3zM757.3 1455.9H767.7V1462.9H757.3zM1357.4 1455.9H1361V1462.9H1357.4zM1395 1455.9H1402V1462.9H1395z"/>
<path fill="#0000ac" d="M501.7 575.8H511.7V579.9H501.7zM570 575.8H573.7V579.9H570zM732.1 575.8H735.7V579.9H732.1zM1463.5 575.8H1474.1V579.9H1463.5zM502 1462.9H505.7V1469.9H502zM795 1462.9H798.4V1469.9H795zM1254 1448.6H1260.7V1455.9H1254zM1409 1455.9H1416V1462.9H1409zM1468 1462.9H1478V1469.9H1468z"/>
<path fill="#00009e" d="M501.7 579.9H511.7V586.7H501.7zM518.7 575.8H525.7V579.9H518.7zM570 579.9H573.7V586.7H570zM732.1 579.9H735.7V586.7H732.1zM1339.9 579.9H1346.6V586.7H1339.9zM1450 579.9H1456.7V586.7H1450zM1463.5 579.9H1474.1V586.7H1463.5zM488 1455.9H491.7V1462.9H488zM515.7 1455.9H522.7V1462.9H515.7zM640 1448.6H643.3V1455.9H640zM650 1448.6H654V1455.9H650zM715.7 1448.6H722.7V1455.9H715.7zM726.1 1455.9H739.4V1462.9H726.1zM871.1 1448.6H878.1V1455.9H871.1zM1305.7 1448.6H1316V1455.9H1305.7zM1323 1448.6H1330V1455.9H1323zM1416 1455.9H1426.1V1462.9H1416zM1437.1 1455.9H1454V1462.9H1437.1zM1464 1455.9H1468V1462.9H1464zM1550.7 1455.9H1554V1462.9H1550.7zM1558 1462.9H1568.1V1469.9H1558z"/>
<path fill="#0000fa" d="M511.7 530.9H518.7V537.9H511.7zM791.5 548.3H797.2V555.1H791.5zM859.9 555.1H866.7V561.9H859.9zM991.2 569H998V575.8H991.2zM1236.5 575.8H1243.3V579.9H1236.5zM1302.1 561.9H1310V569H1302.1zM1433.4 530.9H1436.3V537.9H1433.4zM1532.9 548.3H1546.4V555.1H1532.9zM715.7 1480.1H722.7V1486.9H715.7zM906 1469.9H916V1476.7H906z"/>
<path fill="#0000e4" d="M511.7 544.9H518.7V548.3H511.7zM525.7 555.1H529V561.9H525.7zM529 548.3H532.4V555.1H529zM650 561.9H653V569H650zM698 575.8H704.7V579.9H698zM711.7 569H718.7V575.8H711.7zM718.7 555.1H722.1V561.9H718.7zM1063.7 569H1067.6V575.8H1063.7zM1122.6 575.8H1126.4V579.9H1122.6zM1139.9 575.8H1146.7V579.9H1139.9zM1198 569H1204.7V575.8H1198zM1204.7 555.1H1211.5V561.9H1204.7zM1270.3 569H1274.1V575.8H1270.3zM1364 575.8H1373.6V579.9H1364zM1384.2 575.8H1391V579.9H1384.2zM1433.4 544.9H1436.3V548.3H1433.4zM1546.4 530.9H1554.1V537.9H1546.4zM715.7 1476.7H722.7V1480.1H715.7zM847 1469.9H850.4V1476.7H847zM878.1 1469.9H887.7V1476.7H878.1zM1302.1 1469.9H1305.7V1476.7H1302.1zM1375 1469.9H1378V1476.7H1375z"/>
<path fill="#0000d8" d="M511.7 548.3H518.7V555.1H511.7zM518.7 537.9H525.7V544.9H518.7zM991.2 575.8H998V579.9H991.2zM1419 555.1H1421.8V561.9H1419zM1433.4 548.3H1436.3V555.1H1433.4zM1478 530.9H1487.6V537.9H1478zM1487.6 555.1H1495.3V561.9H1487.6zM614 1480.1H619V1486.9H614zM788 1469.9H795V1476.7H788zM1068 1469.9H1071V1476.7H1068zM1202 1469.9H1209V1476.7H1202zM1275 1469.9H1278V1476.7H1275zM1316 1469.9H1319.7V1476.7H1316zM1350.4 1469.9H1357.4V1476.7H1350.4zM1437.1 1494H1454V1500.8H1437.1zM1537 1480.1H1550.7V1486.9H1537z"/>
<path fill="#0000ca" d="M511.7 555.1H518.7V561.9H511.7zM650 569H653V575.8H650zM1243.3 579.9H1250V586.7H1243.3zM1346.6 575.8H1353.4V579.9H1346.6zM1433.4 555.1H1436.3V561.9H1433.4zM1436.3 555.1H1450V561.9H1436.3zM502 1480.1H505.7V1486.9H502zM567.4 1469.9H574V1476.7H567.4zM619 1462.9H626V1469.9H619zM636.7 1462.9H640V1469.9H636.7zM671 1462.9H678V1469.9H671zM795 1480.1H798.4V1486.9H795zM812.7 1462.9H816V1469.9H812.7zM1226 1462.9H1230V1469.9H1226zM1264.4 1462.9H1271V1469.9H1264.4zM1361 1462.9H1367.7V1469.9H1361zM1468 1480.1H1478V1486.9H1468z"/>
<path fill="#0000bd" d="M511.7 561.9H518.7V569H511.7zM525.7 569H529V575.8H525.7zM583.7 555.1H602.1V561.9H583.7zM718.7 569H722.1V575.8H718.7zM1204.7 569H1211.5V575.8H1204.7zM1433.4 561.9H1436.3V569H1433.4zM1436.3 561.9H1450V569H1436.3zM574 1469.9H577.7V1476.7H574zM1558 1494H1568.1V1500.8H1558z"/>
<path fill="#0000a4" d="M511.7 575.8H518.7V579.9H511.7zM563.4 579.9H570V586.7H563.4zM650 579.9H653V586.7H650zM1433.4 575.8H1436.3V579.9H1433.4zM1436.3 575.8H1450V579.9H1436.3zM1478 569H1487.6V575.8H1478zM522.7 1469.9H529.7V1476.7H522.7zM681.4 1448.6H684.7V1455.9H681.4zM754 1448.6H757.3V1455.9H754zM943.7 1448.6H954V1455.9H943.7zM995 1448.6H1002.1V1455.9H995zM1064 1448.6H1068V1455.9H1064zM1137 1448.6H1140.1V1455.9H1137zM1174 1448.6H1181.3V1455.9H1174zM1188.3 1448.6H1202V1455.9H1188.3zM1271 1448.6H1275V1455.9H1271zM1402 1448.6H1409V1455.9H1402z"/>
<path fill="#0000c5" d="M518.7 548.3H525.7V555.1H518.7zM529 561.9H532.4V569H529zM539.4 569H543V575.8H539.4zM629 575.8H632.7V579.9H629zM646 575.8H650V579.9H646zM660 575.8H663.7V579.9H660zM829.1 579.9H835.8V586.7H829.1zM1015.3 579.9H1019.2V586.7H1015.3zM1046.4 579.9H1050.2V586.7H1046.4zM1054.1 579.9H1059.9V586.7H1054.1zM1126.4 579.9H1132.2V586.7H1126.4zM1146.7 579.9H1150.5V586.7H1146.7zM1429.6 575.8H1433.4V579.9H1429.6zM553.7 1476.7H567.4V1480.1H553.7zM864.1 1476.7H871.1V1480.1H864.1zM1323 1462.9H1330V1469.9H1323zM1344 1476.7H1350.4V1480.1H1344zM1454 1476.7H1460.7V1480.1H1454z"/>
<path fill="#0000b1" d="M518.7 561.9H525.7V569H518.7zM667 579.9H674V586.7H667zM742.7 579.9H750V586.7H742.7zM1067.6 579.9H1074.4V586.7H1067.6zM1136.1 579.9H1139.9V586.7H1136.1zM1280.9 579.9H1287.6V586.7H1280.9zM1298.2 579.9H1302.1V586.7H1298.2zM1329.3 579.9H1333.1V586.7H1329.3zM1357.2 579.9H1364V586.7H1357.2zM522.7 1480.1H529.7V1486.9H522.7zM1323 1455.9H1330V1462.9H1323zM1464 1469.9H1468V1476.7H1464z"/>
<path fill="#0000a6" d="M518.7 569H525.7V575.8H518.7zM543 579.9H549.7V586.7H543zM1405.5 579.9H1412.2V586.7H1405.5zM1505 579.9H1511.7V586.7H1505zM1518.5 579.9H1532.9V586.7H1518.5zM495.3 1455.9H502V1462.9H495.3zM543.4 1455.9H547V1462.9H543.4zM577.7 1455.9H587.7V1462.9H577.7zM654 1455.9H657V1462.9H654zM894 1448.6H899V1455.9H894zM916 1448.6H923.3V1455.9H916zM954 1448.6H960.7V1455.9H954zM1027.4 1448.6H1040.7V1455.9H1027.4zM1078 1448.6H1084.7V1455.9H1078zM1143.7 1448.6H1154.1V1455.9H1143.7zM1278 1455.9H1285.1V1462.9H1278zM1367.7 1448.6H1375V1455.9H1367.7zM1389 1448.6H1395V1455.9H1389zM1478 1462.9H1482V1469.9H1478zM1568.1 1462.9H1575.1V1469.9H1568.1z"/>
<path fill="#000096" d="M518.7 579.9H525.7V586.7H518.7zM583.7 579.9H602.1V586.7H583.7zM502 1448.6H505.7V1455.9H502zM529.7 1448.6H533V1455.9H529.7zM611.4 1448.6H614V1455.9H611.4zM795 1448.6H798.4V1455.9H795zM1468 1448.6H1478V1455.9H1468z"/>
<path fill="#002eff" d="M525.7 530.9H529V537.9H525.7zM650 544.9H653V548.3H650zM718.7 530.9H722.1V537.9H718.7zM964.2 569H970V575.8H964.2zM1204.7 530.9H1211.5V537.9H1204.7zM1310 548.3H1311.9V555.1H1310zM1323 1494H1330V1500.8H1323z"/>
<path fill="#001fff" d="M525.7 537.9H529V544.9H525.7zM539.4 544.9H543V548.3H539.4zM718.7 537.9H722.1V544.9H718.7zM1204.7 537.9H1211.5V544.9H1204.7zM614 1549H619V1571.5H614zM1537 1549H1550.7V1571.5H1537z"/>
<path fill="#000aff" d="M525.7 544.9H529V548.3H525.7zM718.7 544.9H722.1V548.3H718.7zM1112 575.8H1118.7V579.9H1112zM1204.7 544.9H1211.5V548.3H1204.7zM495.3 1500.8H502V1503.9H495.3zM547 1486.9H553.7V1494H547zM702 1476.7H708.7V1480.1H702zM722.7 1527H726.1V1549H722.7zM1005.4 1476.7H1019.4V1480.1H1005.4zM1084.7 1476.7H1092V1480.1H1084.7zM1209 1527H1212.7V1549H1209z"/>
<path fill="#0000d2" d="M525.7 561.9H529V569H525.7zM543 569H549.7V575.8H543zM674 575.8H677.4V579.9H674zM691 575.8H694.7V579.9H691zM718.7 561.9H722.1V569H718.7zM797.2 575.8H811.7V579.9H797.2zM873.4 575.8H883.1V579.9H873.4zM1204.7 561.9H1211.5V569H1204.7zM1373.6 575.8H1377.5V579.9H1373.6zM1391 575.8H1397.7V579.9H1391zM1405.5 569H1412.2V575.8H1405.5zM1456.7 555.1H1463.5V561.9H1456.7zM1505 569H1511.7V575.8H1505zM1518.5 569H1532.9V575.8H1518.5zM1546.4 544.9H1554.1V548.3H1546.4zM1554.1 530.9H1563.8V537.9H1554.1zM522.7 1549H529.7V1571.5H522.7zM640 1469.9H643.3V1476.7H640zM650 1469.9H654V1476.7H650zM698.7 1462.9H702V1469.9H698.7zM871.1 1469.9H878.1V1476.7H871.1zM1216 1462.9H1226V1469.9H1216zM1305.7 1469.9H1316V1476.7H1305.7zM1478 1494H1482V1500.8H1478zM1482 1527H1492V1549H1482zM1568.1 1494H1575.1V1500.8H1568.1z"/>
<path fill="#0000ae" d="M525.7 575.8H529V579.9H525.7zM718.7 575.8H722.1V579.9H718.7zM1204.7 575.8H1211.5V579.9H1204.7zM1346.6 579.9H1353.4V586.7H1346.6zM1436.3 569H1450V575.8H1436.3zM1478 561.9H1487.6V569H1478zM480.6 1476.7H488V1480.1H480.6zM505.7 1462.9H515.7V1469.9H505.7zM533 1469.9H543.4V1476.7H533zM547 1455.9H553.7V1462.9H547zM587.7 1476.7H611.4V1480.1H587.7zM633 1455.9H636.7V1462.9H633zM664 1455.9H667.7V1462.9H664zM722.7 1462.9H726.1V1469.9H722.7zM850.4 1455.9H857.4V1462.9H850.4zM1209 1462.9H1212.7V1469.9H1209zM1337 1455.9H1344V1462.9H1337zM1426.1 1455.9H1437.1V1462.9H1426.1zM1499.4 1469.9H1506V1476.7H1499.4zM1509 1455.9H1516V1462.9H1509zM1523 1455.9H1537V1462.9H1523zM1554 1476.7H1558V1480.1H1554z"/>
<path fill="#00009f" d="M525.7 579.9H529V586.7H525.7zM583.7 575.8H602.1V579.9H583.7zM718.7 579.9H722.1V586.7H718.7zM791.5 579.9H797.2V586.7H791.5zM1204.7 579.9H1211.5V586.7H1204.7zM1532.9 579.9H1546.4V586.7H1532.9zM1546.4 575.8H1554.1V579.9H1546.4zM522.7 1462.9H529.7V1469.9H522.7zM788 1448.6H795V1455.9H788zM1068 1448.6H1071V1455.9H1068zM1202 1448.6H1209V1455.9H1202zM1275 1448.6H1278V1455.9H1275zM1316 1448.6H1319.7V1455.9H1316zM1350.4 1448.6H1357.4V1455.9H1350.4zM1482 1462.9H1492V1469.9H1482z"/>
<path fill="#000fff" d="M529 530.9H532.4V537.9H529zM1311.9 561.9H1315.8V569H1311.9zM640 1486.9H643.3V1494H640zM650 1486.9H654V1494H650zM871.1 1486.9H878.1V1494H871.1zM1305.7 1486.9H1316V1494H1305.7z"/>
<path fill="#0003ff" d="M529 537.9H532.4V544.9H529zM629 561.9H632.7V569H629zM646 561.9H650V569H646zM660 561.9H663.7V569H660zM1250 575.8H1256.8V579.9H1250zM1429.6 561.9H1433.4V569H1429.6zM502 1549H505.7V1571.5H502zM795 1549H798.4V1571.5H795zM1123 1469.9H1126.4V1476.7H1123zM1409 1486.9H1416V1494H1409zM1468 1549H1478V1571.5H1468z"/>
<path fill="#0000f2" d="M529 544.9H532.4V548.3H529zM539.4 555.1H543V561.9H539.4zM674 569H677.4V575.8H674zM691 569H694.7V575.8H691zM797.2 569H811.7V575.8H797.2zM835.8 575.8H842.6V579.9H835.8zM873.4 569H883.1V575.8H873.4zM925.7 575.8H929.5V579.9H925.7zM976.8 575.8H983.5V579.9H976.8zM1310 561.9H1311.9V569H1310zM1373.6 569H1377.5V575.8H1373.6zM1391 569H1397.7V575.8H1391zM488 1527H491.7V1549H488zM491.7 1486.9H495.3V1494H491.7zM515.7 1527H522.7V1549H515.7zM726.1 1527H739.4V1549H726.1zM1319.7 1486.9H1323V1494H1319.7zM1416 1527H1426.1V1549H1416zM1437.1 1549H1454V1571.5H1437.1zM1460.7 1500.8H1464V1503.9H1460.7zM1464 1503.9H1468V1527H1464zM1492 1500.8H1499.4V1503.9H1492zM1506 1486.9H1509V1494H1506zM1516 1486.9H1523V1494H1516zM1550.7 1527H1554V1549H1550.7z"/>
<path fill="#0000a8" d="M529 575.8H532.4V579.9H529zM857 579.9H859.9V586.7H857zM1333.1 579.9H1339.9V586.7H1333.1zM1421.8 579.9H1429.6V586.7H1421.8zM1546.4 569H1554.1V575.8H1546.4zM480.6 1469.9H488V1476.7H480.6zM488 1462.9H491.7V1469.9H488zM491.7 1455.9H495.3V1462.9H491.7zM515.7 1462.9H522.7V1469.9H515.7zM587.7 1469.9H611.4V1476.7H587.7zM726.1 1462.9H739.4V1469.9H726.1zM906 1448.6H916V1455.9H906zM960.7 1448.6H981.4V1455.9H960.7zM991.4 1448.6H995V1455.9H991.4zM1054 1448.6H1064V1455.9H1054zM1092 1448.6H1106V1455.9H1092zM1154.1 1448.6H1168.1V1455.9H1154.1zM1240 1448.6H1246.7V1455.9H1240zM1319.7 1455.9H1323V1462.9H1319.7zM1416 1462.9H1426.1V1469.9H1416zM1437.1 1462.9H1454V1469.9H1437.1zM1506 1455.9H1509V1462.9H1506zM1516 1455.9H1523V1462.9H1516zM1550.7 1462.9H1554V1469.9H1550.7zM1554 1469.9H1558V1476.7H1554zM1558 1476.7H1568.1V1480.1H1558z"/>
<path fill="#00009b" d="M529 579.9H532.4V586.7H529zM1456.7 579.9H1463.5V586.7H1456.7zM1554.1 575.8H1563.8V579.9H1554.1zM567.4 1448.6H574V1455.9H567.4zM739.4 1448.6H746.7V1455.9H739.4zM798.4 1448.6H802V1455.9H798.4zM861.1 1448.6H864.1V1455.9H861.1zM1212.7 1448.6H1216V1455.9H1212.7zM1330 1448.6H1333V1455.9H1330z"/>
<path fill="#0048ff" d="M539.4 530.9H543V537.9H539.4zM629 548.3H632.7V555.1H629zM646 548.3H650V555.1H646zM650 537.9H653V544.9H650zM660 548.3H663.7V555.1H660zM698 561.9H704.7V569H698zM1112 569H1118.7V575.8H1112zM1429.6 548.3H1433.4V555.1H1429.6zM1123 1480.1H1126.4V1486.9H1123z"/>
<path fill="#0037ff" d="M539.4 537.9H543V544.9H539.4zM1118.7 569H1122.6V575.8H1118.7z"/>
<path fill="#0009ff" d="M539.4 548.3H543V555.1H539.4zM1419 537.9H1421.8V544.9H1419zM1456.7 530.9H1463.5V537.9H1456.7zM1487.6 537.9H1495.3V544.9H1487.6zM505.7 1527H515.7V1549H505.7zM633 1486.9H636.7V1494H633zM664 1486.9H667.7V1494H664zM691.7 1480.1H695V1486.9H691.7zM850.4 1486.9H857.4V1494H850.4zM1337 1486.9H1344V1494H1337zM1426.1 1486.9H1437.1V1494H1426.1zM1509 1486.9H1516V1494H1509zM1523 1486.9H1537V1494H1523z"/>
<path fill="#0000dc" d="M539.4 561.9H543V569H539.4zM1001.8 575.8H1008.6V579.9H1001.8zM480.6 1549H488V1571.5H480.6zM543.4 1480.1H547V1486.9H543.4zM577.7 1480.1H587.7V1486.9H577.7zM587.7 1549H611.4V1571.5H587.7zM654 1480.1H657V1486.9H654zM722.7 1486.9H726.1V1494H722.7zM1209 1486.9H1212.7V1494H1209zM1278 1480.1H1285.1V1486.9H1278z"/>
<path fill="#0000b3" d="M539.4 575.8H543V579.9H539.4zM583.7 561.9H602.1V569H583.7zM704.7 579.9H711.7V586.7H704.7zM1353.4 579.9H1357.2V586.7H1353.4zM1456.7 569H1463.5V575.8H1456.7zM1546.4 561.9H1554.1V569H1546.4zM611.4 1469.9H614V1476.7H611.4zM614 1462.9H619V1469.9H614zM1537 1462.9H1550.7V1469.9H1537z"/>
<path fill="#0000a2" d="M539.4 579.9H543V586.7H539.4zM1554.1 569H1563.8V575.8H1554.1zM505.7 1455.9H515.7V1462.9H505.7zM684.7 1448.6H691.7V1455.9H684.7zM698.7 1448.6H702V1455.9H698.7zM708.7 1448.6H715.7V1455.9H708.7zM722.7 1455.9H726.1V1462.9H722.7zM802 1448.6H812.7V1455.9H802zM847 1448.6H850.4V1455.9H847zM878.1 1448.6H887.7V1455.9H878.1zM1209 1455.9H1212.7V1462.9H1209zM1216 1448.6H1226V1455.9H1216zM1302.1 1448.6H1305.7V1455.9H1302.1zM1333 1448.6H1337V1455.9H1333zM1375 1448.6H1378V1455.9H1375zM1554 1462.9H1558V1469.9H1554z"/>
<path fill="#0075ff" d="M543 530.9H549.7V537.9H543zM674 548.3H677.4V555.1H674zM691 548.3H694.7V555.1H691zM797.2 548.3H811.7V555.1H797.2zM873.4 548.3H883.1V555.1H873.4zM1373.6 548.3H1377.5V555.1H1373.6zM1391 548.3H1397.7V555.1H1391zM1405.5 530.9H1412.2V537.9H1405.5zM1505 530.9H1511.7V537.9H1505zM1518.5 530.9H1532.9V537.9H1518.5zM788 1549H795V1571.5H788zM1068 1549H1071V1571.5H1068zM1202 1549H1209V1571.5H1202zM1275 1549H1278V1571.5H1275zM1316 1549H1319.7V1571.5H1316zM1350.4 1549H1357.4V1571.5H1350.4z"/>
<path fill="#0060ff" d="M543 537.9H549.7V544.9H543zM846.4 548.3H853.2V555.1H846.4zM1163.1 548.3H1170V555.1H1163.1zM1405.5 537.9H1412.2V544.9H1405.5zM1505 537.9H1511.7V544.9H1505zM1518.5 537.9H1532.9V544.9H1518.5z"/>
<path fill="#0043ff" d="M543 544.9H549.7V548.3H543zM1136.1 555.1H1139.9V561.9H1136.1zM1405.5 544.9H1412.2V548.3H1405.5zM1505 544.9H1511.7V548.3H1505zM1518.5 544.9H1532.9V548.3H1518.5zM667.7 1494H671V1500.8H667.7zM678 1494H681.4V1500.8H678zM746.7 1494H754V1500.8H746.7zM857.4 1494H861.1V1500.8H857.4zM1071 1494H1078V1500.8H1071zM1168.1 1494H1174V1500.8H1168.1zM1285.1 1494H1292.1V1500.8H1285.1zM1378 1494H1382V1500.8H1378z"/>
<path fill="#0028ff" d="M543 548.3H549.7V555.1H543zM622 561.9H629V569H622zM680.7 561.9H687.7V569H680.7zM853.2 561.9H857V569H853.2zM1405.5 548.3H1412.2V555.1H1405.5zM1505 548.3H1511.7V555.1H1505zM1518.5 548.3H1532.9V555.1H1518.5z"/>
<path fill="#000bff" d="M543 555.1H549.7V561.9H543zM711.7 561.9H718.7V569H711.7zM811.7 569H822.3V575.8H811.7zM1063.7 561.9H1067.6V569H1063.7zM1198 561.9H1204.7V569H1198zM1270.3 561.9H1274.1V569H1270.3zM1405.5 555.1H1412.2V561.9H1405.5zM1505 555.1H1511.7V561.9H1505zM1518.5 555.1H1532.9V561.9H1518.5zM505.7 1549H515.7V1571.5H505.7zM798.4 1494H802V1500.8H798.4zM1212.7 1494H1216V1500.8H1212.7zM1330 1494H1333V1500.8H1330z"/>
<path fill="#00e" d="M543 561.9H549.7V569H543zM573.7 555.1H583.7V561.9H573.7zM750 575.8H753.9V579.9H750zM822.3 575.8H826.2V579.9H822.3zM940.1 575.8H946.9V579.9H940.1zM1008.6 575.8H1015.3V579.9H1008.6zM1136.1 569H1139.9V575.8H1136.1zM1287.6 575.8H1295.3V579.9H1287.6zM1405.5 561.9H1412.2V569H1405.5zM1456.7 544.9H1463.5V548.3H1456.7zM1502.1 555.1H1505V561.9H1502.1zM1505 561.9H1511.7V569H1505zM1511.7 555.1H1518.5V561.9H1511.7zM1518.5 561.9H1532.9V569H1518.5zM1563.8 530.9H1571.1V537.9H1563.8zM502 1500.8H505.7V1503.9H502zM795 1500.8H798.4V1503.9H795zM1254 1462.9H1260.7V1469.9H1254zM1409 1480.1H1416V1486.9H1409zM1437.1 1503.9H1454V1527H1437.1zM1468 1500.8H1478V1503.9H1468zM1499.4 1527H1506V1549H1499.4z"/>
<path fill="#0000bc" d="M543 575.8H549.7V579.9H543zM698 579.9H704.7V586.7H698zM1122.6 579.9H1126.4V586.7H1122.6zM1139.9 579.9H1146.7V586.7H1139.9zM1339.9 569H1346.6V575.8H1339.9zM1364 579.9H1373.6V586.7H1364zM1384.2 579.9H1391V586.7H1384.2zM1405.5 575.8H1412.2V579.9H1405.5zM1450 569H1456.7V575.8H1450zM1505 575.8H1511.7V579.9H1505zM1518.5 575.8H1532.9V579.9H1518.5zM1554.1 548.3H1563.8V555.1H1554.1zM567.4 1462.9H574V1469.9H567.4zM611.4 1476.7H614V1480.1H611.4zM681.4 1455.9H684.7V1462.9H681.4zM739.4 1462.9H746.7V1469.9H739.4zM754 1455.9H757.3V1462.9H754zM861.1 1462.9H864.1V1469.9H861.1zM943.7 1455.9H954V1462.9H943.7zM995 1455.9H1002.1V1462.9H995zM1064 1455.9H1068V1462.9H1064zM1137 1455.9H1140.1V1462.9H1137zM1174 1455.9H1181.3V1462.9H1174zM1188.3 1455.9H1202V1462.9H1188.3zM1271 1455.9H1275V1462.9H1271zM1402 1455.9H1409V1462.9H1402z"/>
<path fill="#0061ff" d="M563.4 530.9H570V537.9H563.4zM1132.2 555.1H1136.1V561.9H1132.2zM906 1486.9H916V1494H906zM1116 1480.1H1123V1486.9H1116z"/>
<path fill="#004dff" d="M563.4 537.9H570V544.9H563.4zM1074.4 561.9H1078.2V569H1074.4zM1295.3 561.9H1298.2V569H1295.3zM1333.1 544.9H1339.9V548.3H1333.1zM1353.4 555.1H1357.2V561.9H1353.4zM788 1500.8H795V1503.9H788zM1068 1500.8H1071V1503.9H1068zM1112.7 1480.1H1116V1486.9H1112.7zM1202 1500.8H1209V1503.9H1202zM1275 1500.8H1278V1503.9H1275zM1316 1500.8H1319.7V1503.9H1316zM1350.4 1500.8H1357.4V1503.9H1350.4z"/>
<path fill="#03f" d="M563.4 544.9H570V548.3H563.4zM1346.6 555.1H1353.4V561.9H1346.6zM491.7 1549H495.3V1571.5H491.7zM847 1486.9H850.4V1494H847zM878.1 1486.9H887.7V1494H878.1zM1302.1 1486.9H1305.7V1494H1302.1zM1375 1486.9H1378V1494H1375z"/>
<path fill="#001aff" d="M563.4 548.3H570V555.1H563.4zM1136.1 561.9H1139.9V569H1136.1zM1302.1 555.1H1310V561.9H1302.1zM1339.9 537.9H1346.6V544.9H1339.9zM1450 537.9H1456.7V544.9H1450z"/>
<path fill="#0000fe" d="M563.4 555.1H570V561.9H563.4zM722.1 530.9H732.1V537.9H722.1zM842.6 569H846.4V575.8H842.6zM1118.7 575.8H1122.6V579.9H1118.7zM1256.8 569H1260.6V575.8H1256.8zM1397.7 569H1405.5V575.8H1397.7zM1412.2 530.9H1419V537.9H1412.2zM611.4 1549H614V1571.5H611.4z"/>
<path fill="#0000b8" d="M563.4 575.8H570V579.9H563.4zM1001.8 579.9H1008.6V586.7H1001.8zM1377.5 579.9H1384.2V586.7H1377.5zM488 1476.7H491.7V1480.1H488zM515.7 1476.7H522.7V1480.1H515.7zM722.7 1469.9H726.1V1476.7H722.7zM726.1 1476.7H739.4V1480.1H726.1zM847 1455.9H850.4V1462.9H847zM878.1 1455.9H887.7V1462.9H878.1zM1209 1469.9H1212.7V1476.7H1209zM1302.1 1455.9H1305.7V1462.9H1302.1zM1375 1455.9H1378V1462.9H1375zM1416 1476.7H1426.1V1480.1H1416zM1550.7 1476.7H1554V1480.1H1550.7z"/>
<path fill="#0030ff" d="M573.7 537.9H583.7V544.9H573.7zM711.7 555.1H718.7V561.9H711.7zM956.5 569H960.4V575.8H956.5zM1019.2 569H1023.1V575.8H1019.2zM1063.7 555.1H1067.6V561.9H1063.7zM1094.6 569H1101.3V575.8H1094.6zM1198 555.1H1204.7V561.9H1198zM1270.3 555.1H1274.1V561.9H1270.3zM1502.1 537.9H1505V544.9H1502.1zM1511.7 537.9H1518.5V544.9H1511.7zM491.7 1527H495.3V1549H491.7zM684.7 1486.9H691.7V1494H684.7zM708.7 1486.9H715.7V1494H708.7zM802 1486.9H812.7V1494H802zM1333 1486.9H1337V1494H1333z"/>
<path fill="#0019ff" d="M573.7 544.9H583.7V548.3H573.7zM667 561.9H674V569H667zM1502.1 544.9H1505V548.3H1502.1zM1511.7 544.9H1518.5V548.3H1511.7zM614 1503.9H619V1527H614zM1409 1494H1416V1500.8H1409zM1537 1503.9H1550.7V1527H1537z"/>
<path fill="#0004ff" d="M573.7 548.3H583.7V555.1H573.7zM1059.9 569H1063.7V575.8H1059.9zM1502.1 548.3H1505V555.1H1502.1zM1511.7 548.3H1518.5V555.1H1511.7zM529.7 1527H533V1549H529.7zM574 1500.8H577.7V1503.9H574zM754 1476.7H757.3V1480.1H754zM1064 1476.7H1068V1480.1H1064zM1137 1476.7H1140.1V1480.1H1137zM1174 1476.7H1181.3V1480.1H1174zM1271 1476.7H1275V1480.1H1271zM1319.7 1494H1323V1500.8H1319.7zM1506 1494H1509V1500.8H1506zM1516 1494H1523V1500.8H1516z"/>
<path fill="#0000d9" d="M573.7 561.9H583.7V569H573.7zM1170 575.8H1171V579.9H1170zM1302.1 569H1310V575.8H1302.1zM1502.1 561.9H1505V569H1502.1zM1511.7 561.9H1518.5V569H1511.7zM1563.8 544.9H1571.1V548.3H1563.8zM480.6 1503.9H488V1527H480.6zM488 1494H491.7V1500.8H488zM515.7 1494H522.7V1500.8H515.7zM529.7 1486.9H533V1494H529.7zM587.7 1503.9H611.4V1527H587.7zM726.1 1494H739.4V1500.8H726.1zM1416 1494H1426.1V1500.8H1416zM1460.7 1486.9H1464V1494H1460.7zM1492 1486.9H1499.4V1494H1492zM1550.7 1494H1554V1500.8H1550.7zM1554 1503.9H1558V1527H1554z"/>
<path fill="#0000c3" d="M573.7 569H583.7V575.8H573.7zM890 579.9H894.8V586.7H890zM983.5 579.9H987.4V586.7H983.5zM1030 579.9H1035.8V586.7H1030zM1229.8 579.9H1236.5V586.7H1229.8zM1456.7 561.9H1463.5V569H1456.7zM1502.1 569H1505V575.8H1502.1zM1511.7 569H1518.5V575.8H1511.7zM1554.1 544.9H1563.8V548.3H1554.1zM1563.8 555.1H1571.1V561.9H1563.8zM488 1480.1H491.7V1486.9H488zM515.7 1480.1H522.7V1486.9H515.7zM640 1462.9H643.3V1469.9H640zM650 1462.9H654V1469.9H650zM726.1 1480.1H739.4V1486.9H726.1zM871.1 1462.9H878.1V1469.9H871.1zM906 1455.9H916V1462.9H906zM1305.7 1462.9H1316V1469.9H1305.7zM1319.7 1469.9H1323V1476.7H1319.7zM1416 1480.1H1426.1V1486.9H1416zM1506 1469.9H1509V1476.7H1506zM1516 1469.9H1523V1476.7H1516zM1550.7 1480.1H1554V1486.9H1550.7z"/>
<path fill="#0000b2" d="M573.7 575.8H583.7V579.9H573.7zM632.7 579.9H636V586.7H632.7zM663.7 579.9H667V586.7H663.7zM674 579.9H677.4V586.7H674zM691 579.9H694.7V586.7H691zM797.2 579.9H811.7V586.7H797.2zM873.4 579.9H883.1V586.7H873.4zM998 579.9H1001.8V586.7H998zM1373.6 579.9H1377.5V586.7H1373.6zM1391 579.9H1397.7V586.7H1391zM1502.1 575.8H1505V579.9H1502.1zM1511.7 575.8H1518.5V579.9H1511.7zM574 1462.9H577.7V1469.9H574zM788 1455.9H795V1462.9H788zM1068 1455.9H1071V1462.9H1068zM1202 1455.9H1209V1462.9H1202zM1275 1455.9H1278V1462.9H1275zM1316 1455.9H1319.7V1462.9H1316zM1350.4 1455.9H1357.4V1462.9H1350.4zM1482 1480.1H1492V1486.9H1482z"/>
<path fill="#0000a1" d="M573.7 579.9H583.7V586.7H573.7zM1502.1 579.9H1505V586.7H1502.1zM1511.7 579.9H1518.5V586.7H1511.7zM1563.8 575.8H1571.1V579.9H1563.8zM480.6 1462.9H488V1469.9H480.6zM529.7 1455.9H533V1462.9H529.7zM587.7 1462.9H611.4V1469.9H587.7zM626 1448.6H633V1455.9H626zM667.7 1448.6H671V1455.9H667.7zM678 1448.6H681.4V1455.9H678zM695 1448.6H698.7V1455.9H695zM746.7 1448.6H754V1455.9H746.7zM857.4 1448.6H861.1V1455.9H857.4zM933 1448.6H943.7V1455.9H933zM1002.1 1448.6H1005.4V1455.9H1002.1zM1071 1448.6H1078V1455.9H1071zM1140.1 1448.6H1143.7V1455.9H1140.1zM1168.1 1448.6H1174V1455.9H1168.1zM1285.1 1448.6H1292.1V1455.9H1285.1zM1378 1448.6H1382V1455.9H1378zM1460.7 1455.9H1464V1462.9H1460.7zM1492 1455.9H1499.4V1462.9H1492z"/>
<path fill="#0000e2" d="M583.7 530.9H602.1V537.9H583.7zM636 569H639.3V575.8H636zM783.7 569H791.5V575.8H783.7zM811.7 575.8H822.3V579.9H811.7zM866.7 569H873.4V575.8H866.7zM1318.7 569H1326.4V575.8H1318.7zM1339.9 555.1H1346.6V561.9H1339.9zM1436.3 544.9H1450V548.3H1436.3zM1450 555.1H1456.7V561.9H1450zM640 1476.7H643.3V1480.1H640zM650 1476.7H654V1480.1H650zM871.1 1476.7H878.1V1480.1H871.1zM906 1462.9H916V1469.9H906zM1305.7 1476.7H1316V1480.1H1305.7zM1437.1 1500.8H1454V1503.9H1437.1z"/>
<path fill="#0000d1" d="M583.7 544.9H602.1V548.3H583.7zM632.7 575.8H636V579.9H632.7zM663.7 575.8H667V579.9H663.7zM1478 537.9H1487.6V544.9H1478zM522.7 1527H529.7V1549H522.7z"/>
<path fill="#0000c7" d="M583.7 548.3H602.1V555.1H583.7zM636 575.8H639.3V579.9H636zM783.7 575.8H791.5V579.9H783.7zM866.7 575.8H873.4V579.9H866.7zM964.2 579.9H970V586.7H964.2zM1101.3 579.9H1108.1V586.7H1101.3zM1150.5 579.9H1157.3V586.7H1150.5zM1318.7 575.8H1326.4V579.9H1318.7zM480.6 1494H488V1500.8H480.6zM522.7 1500.8H529.7V1503.9H522.7zM587.7 1494H611.4V1500.8H587.7zM788 1462.9H795V1469.9H788zM1068 1462.9H1071V1469.9H1068zM1123 1455.9H1126.4V1462.9H1123zM1202 1462.9H1209V1469.9H1202zM1275 1462.9H1278V1469.9H1275zM1316 1462.9H1319.7V1469.9H1316zM1350.4 1462.9H1357.4V1469.9H1350.4zM1482 1500.8H1492V1503.9H1482z"/>
<path fill="#0000a7" d="M583.7 569H602.1V575.8H583.7zM1310 579.9H1311.9V586.7H1310zM1456.7 575.8H1463.5V579.9H1456.7zM533 1462.9H543.4V1469.9H533zM657 1462.9H664V1469.9H657zM767.7 1448.6H774.3V1455.9H767.7zM833 1448.6H847V1455.9H833zM899 1448.6H906V1455.9H899zM923.3 1448.6H933V1455.9H923.3zM981.4 1448.6H991.4V1455.9H981.4zM1019.4 1448.6H1027.4V1455.9H1019.4zM1040.7 1448.6H1054V1455.9H1040.7zM1106 1448.6H1112.7V1455.9H1106zM1126.4 1448.6H1137V1455.9H1126.4zM1181.3 1448.6H1188.3V1455.9H1181.3zM1260.7 1448.6H1264.4V1455.9H1260.7zM1499.4 1462.9H1506V1469.9H1499.4z"/>
<path fill="#006bff" d="M608.7 530.9H610V537.9H608.7zM667 548.3H674V555.1H667zM1015.3 561.9H1019.2V569H1015.3zM1046.4 561.9H1050.2V569H1046.4zM1146.7 561.9H1150.5V569H1146.7zM1274.1 530.9H1280.9V537.9H1274.1zM1326.4 530.9H1329.3V537.9H1326.4zM788 1503.9H795V1527H788zM1068 1503.9H1071V1527H1068zM1202 1503.9H1209V1527H1202zM1275 1503.9H1278V1527H1275zM1316 1503.9H1319.7V1527H1316zM1323 1549H1330V1571.5H1323zM1350.4 1503.9H1357.4V1527H1350.4z"/>
<path fill="#0057ff" d="M608.7 537.9H610V544.9H608.7zM1274.1 537.9H1280.9V544.9H1274.1zM1326.4 537.9H1329.3V544.9H1326.4zM1254 1480.1H1260.7V1486.9H1254z"/>
<path fill="#003bff" d="M608.7 544.9H610V548.3H608.7zM1059.9 561.9H1063.7V569H1059.9zM1274.1 544.9H1280.9V548.3H1274.1zM1302.1 548.3H1310V555.1H1302.1zM1326.4 544.9H1329.3V548.3H1326.4zM906 1480.1H916V1486.9H906z"/>
<path fill="#0021ff" d="M608.7 548.3H610V555.1H608.7zM983.5 569H987.4V575.8H983.5zM1229.8 569H1236.5V575.8H1229.8zM1274.1 548.3H1280.9V555.1H1274.1zM1326.4 548.3H1329.3V555.1H1326.4zM1353.4 561.9H1357.2V569H1353.4zM495.3 1527H502V1549H495.3zM547 1494H553.7V1500.8H547zM619 1486.9H626V1494H619zM636.7 1486.9H640V1494H636.7zM671 1486.9H678V1494H671zM812.7 1486.9H816V1494H812.7zM1226 1486.9H1230V1494H1226zM1264.4 1486.9H1271V1494H1264.4zM1361 1486.9H1367.7V1494H1361z"/>
<path fill="#0005ff" d="M608.7 555.1H610V561.9H608.7zM1274.1 555.1H1280.9V561.9H1274.1zM1326.4 555.1H1329.3V561.9H1326.4zM491.7 1494H495.3V1500.8H491.7zM614 1500.8H619V1503.9H614zM1246.7 1469.9H1254V1476.7H1246.7zM1460.7 1527H1464V1549H1460.7zM1492 1527H1499.4V1549H1492zM1537 1500.8H1550.7V1503.9H1537z"/>
<path fill="#0000ea" d="M608.7 561.9H610V569H608.7zM1274.1 561.9H1280.9V569H1274.1zM1326.4 561.9H1329.3V569H1326.4zM495.3 1486.9H502V1494H495.3zM567.4 1480.1H574V1486.9H567.4zM739.4 1480.1H746.7V1486.9H739.4zM774.3 1469.9H788V1476.7H774.3zM816 1469.9H826V1476.7H816zM861.1 1480.1H864.1V1486.9H861.1zM1112.7 1462.9H1116V1469.9H1112.7zM1382 1469.9H1389V1476.7H1382z"/>
<path fill="#0000cf" d="M608.7 569H610V575.8H608.7zM667 575.8H674V579.9H667zM1136.1 575.8H1139.9V579.9H1136.1zM1274.1 569H1280.9V575.8H1274.1zM1326.4 569H1329.3V575.8H1326.4zM1563.8 548.3H1571.1V555.1H1563.8zM480.6 1500.8H488V1503.9H480.6zM522.7 1503.9H529.7V1527H522.7zM587.7 1500.8H611.4V1503.9H587.7zM633 1469.9H636.7V1476.7H633zM664 1469.9H667.7V1476.7H664zM684.7 1462.9H691.7V1469.9H684.7zM708.7 1462.9H715.7V1469.9H708.7zM722.7 1480.1H726.1V1486.9H722.7zM802 1462.9H812.7V1469.9H802zM850.4 1469.9H857.4V1476.7H850.4zM1209 1480.1H1212.7V1486.9H1209zM1333 1462.9H1337V1469.9H1333zM1337 1469.9H1344V1476.7H1337zM1426.1 1469.9H1437.1V1476.7H1426.1zM1464 1486.9H1468V1494H1464zM1509 1469.9H1516V1476.7H1509zM1523 1469.9H1537V1476.7H1523zM1554 1500.8H1558V1503.9H1554z"/>
<path fill="#00d1ff" d="M615 530.9H622V537.9H615zM1108.1 555.1H1112V561.9H1108.1z"/>
<path fill="#00b4ff" d="M615 537.9H622V544.9H615zM991.2 544.9H998V548.3H991.2zM1101.3 555.1H1108.1V561.9H1101.3zM1122.6 548.3H1126.4V555.1H1122.6zM1139.9 548.3H1146.7V555.1H1139.9zM1364 548.3H1373.6V555.1H1364zM1384.2 548.3H1391V555.1H1384.2zM826 1503.9H833V1527H826zM887.7 1503.9H894V1527H887.7zM1230 1503.9H1240V1527H1230zM1292.1 1503.9H1302.1V1527H1292.1z"/>
<path fill="#008cff" d="M615 544.9H622V548.3H615zM753.9 555.1H763.5V561.9H753.9zM1170 548.3H1171V555.1H1170zM1250 561.9H1256.8V569H1250zM626 1527H633V1549H626zM695 1527H698.7V1549H695zM826 1500.8H833V1503.9H826zM887.7 1500.8H894V1503.9H887.7zM933 1527H943.7V1549H933zM1002.1 1527H1005.4V1549H1002.1zM1140.1 1527H1143.7V1549H1140.1zM1230 1500.8H1240V1503.9H1230zM1292.1 1500.8H1302.1V1503.9H1292.1z"/>
<path fill="#0067ff" d="M615 548.3H622V555.1H615zM912.2 561.9H918.9V569H912.2zM1001.8 555.1H1008.6V561.9H1001.8zM1023.1 561.9H1030V569H1023.1zM715.7 1549H722.7V1571.5H715.7zM1323 1527H1330V1549H1323z"/>
<path fill="#003fff" d="M615 555.1H622V561.9H615zM639.3 561.9H646V569H639.3zM677.4 561.9H680.7V569H677.4zM770.2 561.9H783.7V569H770.2zM1184.5 561.9H1191.2V569H1184.5zM774.3 1486.9H788V1494H774.3zM816 1486.9H826V1494H816zM1382 1486.9H1389V1494H1382z"/>
<path fill="#0017ff" d="M615 561.9H622V569H615zM1067.6 561.9H1074.4V569H1067.6zM1280.9 561.9H1287.6V569H1280.9zM1298.2 561.9H1302.1V569H1298.2zM1329.3 561.9H1333.1V569H1329.3zM1357.2 561.9H1364V569H1357.2z"/>
<path fill="#0000ec" d="M615 569H622V575.8H615zM887.3 575.8H890V579.9H887.3zM1067.6 569H1074.4V575.8H1067.6zM1267.4 575.8H1270.3V579.9H1267.4zM1280.9 569H1287.6V575.8H1280.9zM1298.2 569H1302.1V575.8H1298.2zM1329.3 569H1333.1V575.8H1329.3zM1357.2 569H1364V575.8H1357.2zM543.4 1486.9H547V1494H543.4zM577.7 1486.9H587.7V1494H577.7zM654 1486.9H657V1494H654zM1278 1486.9H1285.1V1494H1278zM1499.4 1503.9H1506V1527H1499.4z"/>
<path fill="#00f8ff" d="M622 530.9H629V537.9H622zM680.7 530.9H687.7V537.9H680.7zM753.9 544.9H763.5V548.3H753.9zM853.2 530.9H857V537.9H853.2z"/>
<path fill="#00d7ff" d="M622 537.9H629V544.9H622zM667 530.9H674V537.9H667zM680.7 537.9H687.7V544.9H680.7zM750 548.3H753.9V555.1H750zM853.2 537.9H857V544.9H853.2z"/>
<path fill="#0af" d="M622 544.9H629V548.3H622zM680.7 544.9H687.7V548.3H680.7zM853.2 544.9H857V548.3H853.2z"/>
<path fill="#0082ff" d="M622 548.3H629V555.1H622zM680.7 548.3H687.7V555.1H680.7zM853.2 548.3H857V555.1H853.2zM833 1494H847V1500.8H833zM899 1494H906V1500.8H899zM923.3 1494H933V1500.8H923.3zM1019.4 1494H1027.4V1500.8H1019.4zM1040.7 1494H1054V1500.8H1040.7zM1106 1494H1112.7V1500.8H1106zM1181.3 1494H1188.3V1500.8H1181.3zM1254 1486.9H1260.7V1494H1254zM1260.7 1494H1264.4V1500.8H1260.7z"/>
<path fill="#05f" d="M622 555.1H629V561.9H622zM680.7 555.1H687.7V561.9H680.7zM711.7 548.3H718.7V555.1H711.7zM853.2 555.1H857V561.9H853.2zM1063.7 548.3H1067.6V555.1H1063.7zM1198 548.3H1204.7V555.1H1198zM1270.3 548.3H1274.1V555.1H1270.3zM547 1527H553.7V1549H547zM619 1500.8H626V1503.9H619zM636.7 1500.8H640V1503.9H636.7zM671 1500.8H678V1503.9H671zM698.7 1494H702V1500.8H698.7zM812.7 1500.8H816V1503.9H812.7zM894 1486.9H899V1494H894zM916 1486.9H923.3V1494H916zM954 1486.9H960.7V1494H954zM1027.4 1486.9H1040.7V1494H1027.4zM1078 1486.9H1084.7V1494H1078zM1216 1494H1226V1500.8H1216zM1226 1500.8H1230V1503.9H1226zM1264.4 1500.8H1271V1503.9H1264.4zM1361 1500.8H1367.7V1503.9H1361zM1367.7 1486.9H1375V1494H1367.7zM1389 1486.9H1395V1494H1389z"/>
<path fill="#0000d6" d="M622 575.8H629V579.9H622zM680.7 575.8H687.7V579.9H680.7zM853.2 575.8H857V579.9H853.2zM929.5 575.8H940.1V579.9H929.5zM1191.2 575.8H1198V579.9H1191.2zM657 1494H664V1500.8H657zM681.4 1462.9H684.7V1469.9H681.4zM943.7 1462.9H954V1469.9H943.7zM995 1462.9H1002.1V1469.9H995zM1188.3 1462.9H1202V1469.9H1188.3zM1402 1462.9H1409V1469.9H1402zM1499.4 1494H1506V1500.8H1499.4z"/>
<path fill="#0000b4" d="M622 579.9H629V586.7H622zM680.7 579.9H687.7V586.7H680.7zM853.2 579.9H857V586.7H853.2zM1211.5 579.9H1218.2V586.7H1211.5zM1218.2 579.9H1225.9V586.7H1218.2zM1554.1 555.1H1563.8V561.9H1554.1zM495.3 1462.9H502V1469.9H495.3zM619 1455.9H626V1462.9H619zM636.7 1455.9H640V1462.9H636.7zM671 1455.9H678V1462.9H671zM691.7 1455.9H695V1462.9H691.7zM812.7 1455.9H816V1462.9H812.7zM1226 1455.9H1230V1462.9H1226zM1264.4 1455.9H1271V1462.9H1264.4zM1361 1455.9H1367.7V1462.9H1361zM1478 1476.7H1482V1480.1H1478zM1568.1 1476.7H1575.1V1480.1H1568.1z"/>
<path fill="#00a4ff" d="M629 530.9H632.7V537.9H629zM646 530.9H650V537.9H646zM660 530.9H663.7V537.9H660zM912.2 555.1H918.9V561.9H912.2zM1023.1 555.1H1030V561.9H1023.1zM1078.2 555.1H1087.9V561.9H1078.2zM1211.5 544.9H1218.2V548.3H1211.5zM1218.2 544.9H1225.9V548.3H1218.2zM1429.6 530.9H1433.4V537.9H1429.6zM643.3 1549H650V1571.5H643.3zM833 1500.8H847V1503.9H833zM899 1500.8H906V1503.9H899zM923.3 1500.8H933V1503.9H923.3zM1019.4 1500.8H1027.4V1503.9H1019.4zM1040.7 1500.8H1054V1503.9H1040.7zM1106 1500.8H1112.7V1503.9H1106zM1181.3 1500.8H1188.3V1503.9H1181.3zM1260.7 1500.8H1264.4V1503.9H1260.7zM1357.4 1549H1361V1571.5H1357.4zM1395 1549H1402V1571.5H1395z"/>
<path fill="#008bff" d="M629 537.9H632.7V544.9H629zM646 537.9H650V544.9H646zM660 537.9H663.7V544.9H660zM1429.6 537.9H1433.4V544.9H1429.6zM684.7 1503.9H691.7V1527H684.7zM708.7 1503.9H715.7V1527H708.7zM802 1503.9H812.7V1527H802zM1333 1503.9H1337V1527H1333z"/>
<path fill="#0068ff" d="M629 544.9H632.7V548.3H629zM646 544.9H650V548.3H646zM660 544.9H663.7V548.3H660zM835.8 561.9H842.6V569H835.8zM925.7 561.9H929.5V569H925.7zM976.8 561.9H983.5V569H976.8zM1067.6 548.3H1074.4V555.1H1067.6zM1280.9 548.3H1287.6V555.1H1280.9zM1298.2 548.3H1302.1V555.1H1298.2zM1310 537.9H1311.9V544.9H1310zM1329.3 548.3H1333.1V555.1H1329.3zM1357.2 548.3H1364V555.1H1357.2zM1429.6 544.9H1433.4V548.3H1429.6zM684.7 1500.8H691.7V1503.9H684.7zM708.7 1500.8H715.7V1503.9H708.7zM802 1500.8H812.7V1503.9H802zM1333 1500.8H1337V1503.9H1333z"/>
<path fill="#0025ff" d="M629 555.1H632.7V561.9H629zM646 555.1H650V561.9H646zM660 555.1H663.7V561.9H660zM835.8 569H842.6V575.8H835.8zM925.7 569H929.5V575.8H925.7zM950.2 569H956.5V575.8H950.2zM976.8 569H983.5V575.8H976.8zM1429.6 555.1H1433.4V561.9H1429.6zM495.3 1549H502V1571.5H495.3zM543.4 1527H547V1549H543.4zM577.7 1527H587.7V1549H577.7zM739.4 1500.8H746.7V1503.9H739.4zM754 1480.1H757.3V1486.9H754zM861.1 1500.8H864.1V1503.9H861.1zM1064 1480.1H1068V1486.9H1064zM1137 1480.1H1140.1V1486.9H1137zM1174 1480.1H1181.3V1486.9H1174zM1271 1480.1H1275V1486.9H1271z"/>
<path fill="#0000ab" d="M629 579.9H632.7V586.7H629zM646 579.9H650V586.7H646zM660 579.9H663.7V586.7H660zM1429.6 579.9H1433.4V586.7H1429.6zM1554.1 561.9H1563.8V569H1554.1zM1563.8 569H1571.1V575.8H1563.8zM567.4 1455.9H574V1462.9H567.4zM611.4 1462.9H614V1469.9H611.4zM739.4 1455.9H746.7V1462.9H739.4zM861.1 1455.9H864.1V1462.9H861.1z"/>
<path fill="#00e0ff" d="M632.7 530.9H636V537.9H632.7zM663.7 530.9H667V537.9H663.7zM1030 548.3H1035.8V555.1H1030zM960.7 1527H981.4V1549H960.7zM991.4 1527H995V1549H991.4zM1054 1527H1064V1549H1054zM1092 1527H1106V1549H1092zM1154.1 1527H1168.1V1549H1154.1zM1240 1527H1246.7V1549H1240z"/>
<path fill="#00c2ff" d="M632.7 537.9H636V544.9H632.7zM663.7 537.9H667V544.9H663.7zM826.2 548.3H829.1V555.1H826.2zM883.1 548.3H887.3V555.1H883.1zM946.9 548.3H950.2V555.1H946.9zM1225.9 548.3H1229.8V555.1H1225.9zM894 1503.9H899V1527H894zM916 1503.9H923.3V1527H916zM954 1503.9H960.7V1527H954zM1027.4 1503.9H1040.7V1527H1027.4zM1078 1503.9H1084.7V1527H1078zM1367.7 1503.9H1375V1527H1367.7zM1389 1503.9H1395V1527H1389z"/>
<path fill="#0098ff" d="M632.7 544.9H636V548.3H632.7zM663.7 544.9H667V548.3H663.7zM1001.8 548.3H1008.6V555.1H1001.8zM894 1500.8H899V1503.9H894zM916 1500.8H923.3V1503.9H916zM954 1500.8H960.7V1503.9H954zM1027.4 1500.8H1040.7V1503.9H1027.4zM1078 1500.8H1084.7V1503.9H1078zM1367.7 1500.8H1375V1503.9H1367.7zM1389 1500.8H1395V1503.9H1389z"/>
<path fill="#0071ff" d="M632.7 548.3H636V555.1H632.7zM663.7 548.3H667V555.1H663.7zM857 537.9H859.9V544.9H857zM1087.9 561.9H1094.6V569H1087.9zM1157.3 561.9H1163.1V569H1157.3zM1177.7 561.9H1184.5V569H1177.7zM1421.8 537.9H1429.6V544.9H1421.8zM702 1494H708.7V1500.8H702zM1005.4 1494H1019.4V1500.8H1005.4zM1084.7 1494H1092V1500.8H1084.7z"/>
<path fill="#0047ff" d="M632.7 555.1H636V561.9H632.7zM663.7 555.1H667V561.9H663.7zM1409 1503.9H1416V1527H1409z"/>
<path fill="#001dff" d="M632.7 561.9H636V569H632.7zM663.7 561.9H667V569H663.7zM735.7 555.1H742.7V561.9H735.7zM757.3 1480.1H767.7V1486.9H757.3zM798.4 1500.8H802V1503.9H798.4zM1212.7 1500.8H1216V1503.9H1212.7zM1330 1500.8H1333V1503.9H1330z"/>
<path fill="#0000f0" d="M632.7 569H636V575.8H632.7zM663.7 569H667V575.8H663.7zM983.5 575.8H987.4V579.9H983.5zM1229.8 575.8H1236.5V579.9H1229.8zM488 1503.9H491.7V1527H488zM515.7 1503.9H522.7V1527H515.7zM553.7 1494H567.4V1500.8H553.7zM667.7 1476.7H671V1480.1H667.7zM678 1476.7H681.4V1480.1H678zM726.1 1503.9H739.4V1527H726.1zM746.7 1476.7H754V1480.1H746.7zM826 1469.9H833V1476.7H826zM857.4 1476.7H861.1V1480.1H857.4zM864.1 1494H871.1V1500.8H864.1zM887.7 1469.9H894V1476.7H887.7zM1071 1476.7H1078V1480.1H1071zM1168.1 1476.7H1174V1480.1H1168.1zM1230 1469.9H1240V1476.7H1230zM1285.1 1476.7H1292.1V1480.1H1285.1zM1292.1 1469.9H1302.1V1476.7H1292.1zM1344 1494H1350.4V1500.8H1344zM1378 1476.7H1382V1480.1H1378zM1416 1503.9H1426.1V1527H1416zM1437.1 1527H1454V1549H1437.1zM1454 1494H1460.7V1500.8H1454zM1499.4 1549H1506V1571.5H1499.4zM1550.7 1503.9H1554V1527H1550.7z"/>
<path fill="#00aeff" d="M636 530.9H639.3V537.9H636zM783.7 530.9H791.5V537.9H783.7zM866.7 530.9H873.4V537.9H866.7zM1318.7 530.9H1326.4V537.9H1318.7zM774.3 1549H788V1571.5H774.3zM816 1549H826V1571.5H816zM1382 1549H1389V1571.5H1382z"/>
<path fill="#0094ff" d="M636 537.9H639.3V544.9H636zM742.7 544.9H750V548.3H742.7zM783.7 537.9H791.5V544.9H783.7zM842.6 548.3H846.4V555.1H842.6zM866.7 537.9H873.4V544.9H866.7zM1256.8 548.3H1260.6V555.1H1256.8zM1318.7 537.9H1326.4V544.9H1318.7zM1397.7 548.3H1405.5V555.1H1397.7zM698.7 1503.9H702V1527H698.7zM1216 1503.9H1226V1527H1216z"/>
<path fill="#0070ff" d="M636 544.9H639.3V548.3H636zM763.5 561.9H770.2V569H763.5zM783.7 544.9H791.5V548.3H783.7zM866.7 544.9H873.4V548.3H866.7zM894.8 561.9H901.6V569H894.8zM918.9 561.9H925.7V569H918.9zM987.4 561.9H991.2V569H987.4zM1035.8 561.9H1046.4V569H1035.8zM1050.2 561.9H1054.1V569H1050.2zM1318.7 544.9H1326.4V548.3H1318.7zM698.7 1500.8H702V1503.9H698.7zM788 1527H795V1549H788zM1068 1527H1071V1549H1068zM1123 1486.9H1126.4V1494H1123zM1202 1527H1209V1549H1202zM1216 1500.8H1226V1503.9H1216zM1275 1527H1278V1549H1275zM1316 1527H1319.7V1549H1316zM1350.4 1527H1357.4V1549H1350.4z"/>
<path fill="#004fff" d="M636 548.3H639.3V555.1H636zM704.7 555.1H711.7V561.9H704.7zM783.7 548.3H791.5V555.1H783.7zM866.7 548.3H873.4V555.1H866.7zM1318.7 548.3H1326.4V555.1H1318.7zM702 1486.9H708.7V1494H702zM1005.4 1486.9H1019.4V1494H1005.4zM1084.7 1486.9H1092V1494H1084.7zM1409 1549H1416V1571.5H1409z"/>
<path fill="#002bff" d="M636 555.1H639.3V561.9H636zM694.7 561.9H698V569H694.7zM783.7 555.1H791.5V561.9H783.7zM866.7 555.1H873.4V561.9H866.7zM901.6 569H905.4V575.8H901.6zM960.4 569H964.2V575.8H960.4zM970 569H976.8V575.8H970zM1318.7 555.1H1326.4V561.9H1318.7zM715.7 1494H722.7V1500.8H715.7zM1319.7 1503.9H1323V1527H1319.7zM1506 1503.9H1509V1527H1506zM1516 1503.9H1523V1527H1516z"/>
<path fill="#0007ff" d="M636 561.9H639.3V569H636zM783.7 561.9H791.5V569H783.7zM866.7 561.9H873.4V569H866.7zM1318.7 561.9H1326.4V569H1318.7zM529.7 1549H533V1571.5H529.7zM619 1480.1H626V1486.9H619zM636.7 1480.1H640V1486.9H636.7zM671 1480.1H678V1486.9H671zM722.7 1503.9H726.1V1527H722.7zM812.7 1480.1H816V1486.9H812.7zM1209 1503.9H1212.7V1527H1209zM1226 1480.1H1230V1486.9H1226zM1264.4 1480.1H1271V1486.9H1264.4zM1361 1480.1H1367.7V1486.9H1361z"/>
<path fill="#00ffd0" d="M639.3 530.9H646V537.9H639.3zM677.4 530.9H680.7V537.9H677.4zM770.2 530.9H783.7V537.9H770.2zM826.2 537.9H829.1V544.9H826.2zM883.1 537.9H887.3V544.9H883.1zM946.9 537.9H950.2V544.9H946.9zM1184.5 530.9H1191.2V537.9H1184.5zM1225.9 537.9H1229.8V544.9H1225.9z"/>
<path fill="#00fff6" d="M639.3 537.9H646V544.9H639.3zM677.4 537.9H680.7V544.9H677.4zM770.2 537.9H783.7V544.9H770.2zM1170 530.9H1171V537.9H1170zM1171 544.9H1177.7V548.3H1171zM1184.5 537.9H1191.2V544.9H1184.5z"/>
<path fill="#00d4ff" d="M639.3 544.9H646V548.3H639.3zM677.4 544.9H680.7V548.3H677.4zM770.2 544.9H783.7V548.3H770.2zM1184.5 544.9H1191.2V548.3H1184.5zM1250 555.1H1256.8V561.9H1250zM906 1503.9H916V1527H906zM1143.7 1549H1154.1V1571.5H1143.7z"/>
<path fill="#00a6ff" d="M639.3 548.3H646V555.1H639.3zM677.4 548.3H680.7V555.1H677.4zM770.2 548.3H783.7V555.1H770.2zM1184.5 548.3H1191.2V555.1H1184.5zM681.4 1503.9H684.7V1527H681.4zM943.7 1503.9H954V1527H943.7zM995 1503.9H1002.1V1527H995zM1188.3 1503.9H1202V1527H1188.3zM1402 1503.9H1409V1527H1402z"/>
<path fill="#0073ff" d="M639.3 555.1H646V561.9H639.3zM677.4 555.1H680.7V561.9H677.4zM770.2 555.1H783.7V561.9H770.2zM1101.3 561.9H1108.1V569H1101.3zM1184.5 555.1H1191.2V561.9H1184.5zM1246.7 1486.9H1254V1494H1246.7z"/>
<path fill="#0008ff" d="M639.3 569H646V575.8H639.3zM677.4 569H680.7V575.8H677.4zM770.2 569H783.7V575.8H770.2zM1184.5 569H1191.2V575.8H1184.5zM826 1476.7H833V1480.1H826zM887.7 1476.7H894V1480.1H887.7zM1230 1476.7H1240V1480.1H1230zM1292.1 1476.7H1302.1V1480.1H1292.1zM1460.7 1549H1464V1571.5H1460.7zM1492 1549H1499.4V1571.5H1492z"/>
<path fill="#005bff" d="M650 530.9H653V537.9H650zM887.3 561.9H890V569H887.3zM1267.4 561.9H1270.3V569H1267.4zM767.7 1486.9H774.3V1494H767.7zM981.4 1486.9H991.4V1494H981.4zM1126.4 1486.9H1137V1494H1126.4z"/>
<path fill="#0000fb" d="M650 555.1H653V561.9H650zM1170 569H1171V575.8H1170zM643.3 1476.7H650V1480.1H643.3zM1357.4 1476.7H1361V1480.1H1357.4zM1395 1476.7H1402V1480.1H1395z"/>
<path fill="#0000b7" d="M650 575.8H653V579.9H650zM842.6 579.9H846.4V586.7H842.6zM1132.2 579.9H1136.1V586.7H1132.2zM1256.8 579.9H1260.6V586.7H1256.8zM1397.7 579.9H1405.5V586.7H1397.7zM1478 555.1H1487.6V561.9H1478zM1563.8 561.9H1571.1V569H1563.8zM491.7 1462.9H495.3V1469.9H491.7zM505.7 1469.9H515.7V1476.7H505.7zM626 1455.9H633V1462.9H626zM657 1476.7H664V1480.1H657zM684.7 1455.9H691.7V1462.9H684.7zM695 1455.9H698.7V1462.9H695zM708.7 1455.9H715.7V1462.9H708.7zM802 1455.9H812.7V1462.9H802zM933 1455.9H943.7V1462.9H933zM1002.1 1455.9H1005.4V1462.9H1002.1zM1140.1 1455.9H1143.7V1462.9H1140.1zM1319.7 1462.9H1323V1469.9H1319.7zM1333 1455.9H1337V1462.9H1333zM1437.1 1476.7H1454V1480.1H1437.1zM1506 1462.9H1509V1469.9H1506zM1516 1462.9H1523V1469.9H1516zM1554 1480.1H1558V1486.9H1554z"/>
<path fill="#00b9ff" d="M667 537.9H674V544.9H667zM702 1503.9H708.7V1527H702zM1005.4 1503.9H1019.4V1527H1005.4zM1084.7 1503.9H1092V1527H1084.7z"/>
<path fill="#0090ff" d="M667 544.9H674V548.3H667zM702 1500.8H708.7V1503.9H702zM847 1503.9H850.4V1527H847zM878.1 1503.9H887.7V1527H878.1zM1005.4 1500.8H1019.4V1503.9H1005.4zM1084.7 1500.8H1092V1503.9H1084.7zM1302.1 1503.9H1305.7V1527H1302.1zM1375 1503.9H1378V1527H1375z"/>
<path fill="#0042ff" d="M667 555.1H674V561.9H667zM567.4 1527H574V1549H567.4zM681.4 1486.9H684.7V1494H681.4zM943.7 1486.9H954V1494H943.7zM995 1486.9H1002.1V1494H995zM1188.3 1486.9H1202V1494H1188.3zM1402 1486.9H1409V1494H1402z"/>
<path fill="#00e6ff" d="M674 530.9H677.4V537.9H674zM691 530.9H694.7V537.9H691zM797.2 530.9H811.7V537.9H797.2zM873.4 530.9H883.1V537.9H873.4zM1373.6 530.9H1377.5V537.9H1373.6zM1391 530.9H1397.7V537.9H1391z"/>
<path fill="#00c6ff" d="M674 537.9H677.4V544.9H674zM691 537.9H694.7V544.9H691zM797.2 537.9H811.7V544.9H797.2zM873.4 537.9H883.1V544.9H873.4zM1373.6 537.9H1377.5V544.9H1373.6zM1391 537.9H1397.7V544.9H1391zM1143.7 1503.9H1154.1V1527H1143.7z"/>
<path fill="#009cff" d="M674 544.9H677.4V548.3H674zM691 544.9H694.7V548.3H691zM711.7 537.9H718.7V544.9H711.7zM797.2 544.9H811.7V548.3H797.2zM873.4 544.9H883.1V548.3H873.4zM1063.7 537.9H1067.6V544.9H1063.7zM1198 537.9H1204.7V544.9H1198zM1270.3 537.9H1274.1V544.9H1270.3zM1373.6 544.9H1377.5V548.3H1373.6zM1391 544.9H1397.7V548.3H1391zM1143.7 1500.8H1154.1V1503.9H1143.7z"/>
<path fill="#004aff" d="M674 555.1H677.4V561.9H674zM691 555.1H694.7V561.9H691zM797.2 555.1H811.7V561.9H797.2zM873.4 555.1H883.1V561.9H873.4zM1310 544.9H1311.9V548.3H1310zM1373.6 555.1H1377.5V561.9H1373.6zM1391 555.1H1397.7V561.9H1391zM626 1494H633V1500.8H626zM695 1494H698.7V1500.8H695zM933 1494H943.7V1500.8H933zM1002.1 1494H1005.4V1500.8H1002.1zM1140.1 1494H1143.7V1500.8H1140.1zM1246.7 1480.1H1254V1486.9H1246.7z"/>
<path fill="#0020ff" d="M674 561.9H677.4V569H674zM691 561.9H694.7V569H691zM797.2 561.9H811.7V569H797.2zM873.4 561.9H883.1V569H873.4zM890 569H894.8V575.8H890zM1373.6 561.9H1377.5V569H1373.6zM1391 561.9H1397.7V569H1391zM633 1494H636.7V1500.8H633zM664 1494H667.7V1500.8H664zM774.3 1480.1H788V1486.9H774.3zM816 1480.1H826V1486.9H816zM850.4 1494H857.4V1500.8H850.4zM1123 1476.7H1126.4V1480.1H1123zM1337 1494H1344V1500.8H1337zM1382 1480.1H1389V1486.9H1382zM1426.1 1494H1437.1V1500.8H1426.1zM1509 1494H1516V1500.8H1509zM1523 1494H1537V1500.8H1523z"/>
<path fill="#00cdff" d="M687.7 530.9H691V537.9H687.7zM1260.6 530.9H1267.4V537.9H1260.6zM1143.7 1527H1154.1V1549H1143.7z"/>
<path fill="#00b0ff" d="M687.7 537.9H691V544.9H687.7zM763.5 555.1H770.2V561.9H763.5zM894.8 555.1H901.6V561.9H894.8zM918.9 555.1H925.7V561.9H918.9zM987.4 555.1H991.2V561.9H987.4zM1035.8 555.1H1046.4V561.9H1035.8zM1260.6 537.9H1267.4V544.9H1260.6z"/>
<path fill="#08f" d="M687.7 544.9H691V548.3H687.7zM1260.6 544.9H1267.4V548.3H1260.6zM667.7 1549H671V1571.5H667.7zM678 1549H681.4V1571.5H678zM746.7 1549H754V1571.5H746.7zM857.4 1549H861.1V1571.5H857.4zM1071 1549H1078V1571.5H1071zM1168.1 1549H1174V1571.5H1168.1zM1285.1 1549H1292.1V1571.5H1285.1zM1378 1549H1382V1571.5H1378z"/>
<path fill="#0064ff" d="M687.7 548.3H691V555.1H687.7zM842.6 555.1H846.4V561.9H842.6zM1256.8 555.1H1260.6V561.9H1256.8zM1260.6 548.3H1267.4V555.1H1260.6zM1397.7 555.1H1405.5V561.9H1397.7zM626 1500.8H633V1503.9H626zM695 1500.8H698.7V1503.9H695zM933 1500.8H943.7V1503.9H933zM960.7 1486.9H981.4V1494H960.7zM991.4 1486.9H995V1494H991.4zM1002.1 1500.8H1005.4V1503.9H1002.1zM1054 1486.9H1064V1494H1054zM1092 1486.9H1106V1494H1092zM1140.1 1500.8H1143.7V1503.9H1140.1zM1154.1 1486.9H1168.1V1494H1154.1zM1240 1486.9H1246.7V1494H1240z"/>
<path fill="#003cff" d="M687.7 555.1H691V561.9H687.7zM1108.1 569H1112V575.8H1108.1zM1260.6 555.1H1267.4V561.9H1260.6zM619 1494H626V1500.8H619zM636.7 1494H640V1500.8H636.7zM671 1494H678V1500.8H671zM757.3 1486.9H767.7V1494H757.3zM798.4 1549H802V1571.5H798.4zM812.7 1494H816V1500.8H812.7zM1212.7 1549H1216V1571.5H1212.7zM1226 1494H1230V1500.8H1226zM1264.4 1494H1271V1500.8H1264.4zM1330 1549H1333V1571.5H1330zM1361 1494H1367.7V1500.8H1361z"/>
<path fill="#0015ff" d="M687.7 561.9H691V569H687.7zM857 555.1H859.9V561.9H857zM1260.6 561.9H1267.4V569H1260.6zM1421.8 555.1H1429.6V561.9H1421.8zM1319.7 1500.8H1323V1503.9H1319.7zM1323 1486.9H1330V1494H1323zM1506 1500.8H1509V1503.9H1506zM1516 1500.8H1523V1503.9H1516z"/>
<path fill="#0000eb" d="M687.7 569H691V575.8H687.7zM1260.6 569H1267.4V575.8H1260.6zM533 1503.9H543.4V1527H533zM611.4 1500.8H614V1503.9H611.4zM681.4 1469.9H684.7V1476.7H681.4zM943.7 1469.9H954V1476.7H943.7zM995 1469.9H1002.1V1476.7H995zM1188.3 1469.9H1202V1476.7H1188.3zM1402 1469.9H1409V1476.7H1402zM1478 1549H1482V1571.5H1478zM1568.1 1549H1575.1V1571.5H1568.1z"/>
<path fill="#0000cd" d="M687.7 575.8H691V579.9H687.7zM1250 579.9H1256.8V586.7H1250zM1260.6 575.8H1267.4V579.9H1260.6zM1437.1 1486.9H1454V1494H1437.1zM1558 1527H1568.1V1549H1558z"/>
<path fill="#00fffe" d="M694.7 530.9H698V537.9H694.7z"/>
<path fill="#00dfff" d="M694.7 537.9H698V544.9H694.7z"/>
<path fill="#00b1ff" d="M694.7 544.9H698V548.3H694.7zM1050.2 555.1H1054.1V561.9H1050.2zM1087.9 555.1H1094.6V561.9H1087.9zM1157.3 555.1H1163.1V561.9H1157.3zM1177.7 555.1H1184.5V561.9H1177.7zM754 1527H757.3V1549H754zM1064 1527H1068V1549H1064zM1137 1527H1140.1V1549H1137zM1174 1527H1181.3V1549H1174zM1271 1527H1275V1549H1271z"/>
<path fill="#0087ff" d="M694.7 548.3H698V555.1H694.7zM857 530.9H859.9V537.9H857zM1421.8 530.9H1429.6V537.9H1421.8zM626 1503.9H633V1527H626zM695 1503.9H698.7V1527H695zM933 1503.9H943.7V1527H933zM1002.1 1503.9H1005.4V1527H1002.1zM1140.1 1503.9H1143.7V1527H1140.1z"/>
<path fill="#0059ff" d="M694.7 555.1H698V561.9H694.7zM1302.1 544.9H1310V548.3H1302.1zM1346.6 548.3H1353.4V555.1H1346.6zM547 1549H553.7V1571.5H547zM640 1503.9H643.3V1527H640zM650 1503.9H654V1527H650zM691.7 1500.8H695V1503.9H691.7zM871.1 1503.9H878.1V1527H871.1zM1305.7 1503.9H1316V1527H1305.7z"/>
<path fill="#0000f9" d="M694.7 569H698V575.8H694.7zM956.5 575.8H960.4V579.9H956.5zM1019.2 575.8H1023.1V579.9H1019.2zM1094.6 575.8H1101.3V579.9H1094.6zM1436.3 530.9H1450V537.9H1436.3zM495.3 1494H502V1500.8H495.3zM611.4 1503.9H614V1527H611.4zM698.7 1476.7H702V1480.1H698.7zM833 1469.9H847V1476.7H833zM899 1469.9H906V1476.7H899zM923.3 1469.9H933V1476.7H923.3zM1019.4 1469.9H1027.4V1476.7H1019.4zM1040.7 1469.9H1054V1476.7H1040.7zM1106 1469.9H1112.7V1476.7H1106zM1181.3 1469.9H1188.3V1476.7H1181.3zM1216 1476.7H1226V1480.1H1216zM1260.7 1469.9H1264.4V1476.7H1260.7z"/>
<path fill="#0000d7" d="M694.7 575.8H698V579.9H694.7zM857 569H859.9V575.8H857zM1421.8 569H1429.6V575.8H1421.8zM1436.3 548.3H1450V555.1H1436.3zM502 1486.9H505.7V1494H502zM567.4 1476.7H574V1480.1H567.4zM574 1480.1H577.7V1486.9H574zM739.4 1476.7H746.7V1480.1H739.4zM754 1462.9H757.3V1469.9H754zM795 1486.9H798.4V1494H795zM861.1 1476.7H864.1V1480.1H861.1zM1064 1462.9H1068V1469.9H1064zM1137 1462.9H1140.1V1469.9H1137zM1174 1462.9H1181.3V1469.9H1174zM1271 1462.9H1275V1469.9H1271zM1468 1486.9H1478V1494H1468z"/>
<path fill="#00ffbd" d="M698 530.9H704.7V537.9H698zM887.3 537.9H890V544.9H887.3zM1267.4 537.9H1270.3V544.9H1267.4z"/>
<path fill="#00ffe5" d="M698 537.9H704.7V544.9H698zM1001.8 530.9H1008.6V537.9H1001.8zM1030 544.9H1035.8V548.3H1030zM1108.1 548.3H1112V555.1H1108.1zM1116 1503.9H1123V1527H1116z"/>
<path fill="#00e3ff" d="M698 544.9H704.7V548.3H698zM1116 1500.8H1123V1503.9H1116z"/>
<path fill="#00b2ff" d="M698 548.3H704.7V555.1H698zM681.4 1549H684.7V1571.5H681.4zM943.7 1549H954V1571.5H943.7zM995 1549H1002.1V1571.5H995zM1188.3 1549H1202V1571.5H1188.3zM1402 1549H1409V1571.5H1402z"/>
<path fill="#007dff" d="M698 555.1H704.7V561.9H698zM667.7 1503.9H671V1527H667.7zM678 1503.9H681.4V1527H678zM746.7 1503.9H754V1527H746.7zM857.4 1503.9H861.1V1527H857.4zM1071 1503.9H1078V1527H1071zM1168.1 1503.9H1174V1527H1168.1zM1285.1 1503.9H1292.1V1527H1285.1zM1378 1503.9H1382V1527H1378z"/>
<path fill="#000dff" d="M698 569H704.7V575.8H698zM791.5 544.9H797.2V548.3H791.5zM1346.6 561.9H1353.4V569H1346.6zM1532.9 544.9H1546.4V548.3H1532.9zM543.4 1500.8H547V1503.9H543.4zM577.7 1500.8H587.7V1503.9H577.7zM654 1500.8H657V1503.9H654zM1254 1469.9H1260.7V1476.7H1254zM1278 1500.8H1285.1V1503.9H1278z"/>
<path fill="#0ef" d="M704.7 530.9H711.7V537.9H704.7z"/>
<path fill="#00ceff" d="M704.7 537.9H711.7V544.9H704.7z"/>
<path fill="#00a2ff" d="M704.7 544.9H711.7V548.3H704.7zM774.3 1503.9H788V1527H774.3zM816 1503.9H826V1527H816zM1382 1503.9H1389V1527H1382z"/>
<path fill="#007bff" d="M704.7 548.3H711.7V555.1H704.7zM1236.5 561.9H1243.3V569H1236.5zM1346.6 544.9H1353.4V548.3H1346.6zM1143.7 1494H1154.1V1500.8H1143.7z"/>
<path fill="#0023ff" d="M704.7 561.9H711.7V569H704.7zM791.5 537.9H797.2V544.9H791.5zM912.2 569H918.9V575.8H912.2zM1023.1 569H1030V575.8H1023.1zM1078.2 569H1087.9V575.8H1078.2zM1532.9 537.9H1546.4V544.9H1532.9z"/>
<path fill="#0000f4" d="M704.7 569H711.7V575.8H704.7zM722.1 537.9H732.1V544.9H722.1zM829.1 575.8H835.8V579.9H829.1zM1054.1 575.8H1059.9V579.9H1054.1zM1126.4 575.8H1132.2V579.9H1126.4zM1211.5 569H1218.2V575.8H1211.5zM1218.2 569H1225.9V575.8H1218.2zM1333.1 561.9H1339.9V569H1333.1zM1339.9 548.3H1346.6V555.1H1339.9zM1412.2 537.9H1419V544.9H1412.2zM1450 548.3H1456.7V555.1H1450zM488 1549H491.7V1571.5H488zM515.7 1549H522.7V1571.5H515.7zM626 1476.7H633V1480.1H626zM695 1476.7H698.7V1480.1H695zM726.1 1549H739.4V1571.5H726.1zM894 1469.9H899V1476.7H894zM916 1469.9H923.3V1476.7H916zM933 1476.7H943.7V1480.1H933zM954 1469.9H960.7V1476.7H954zM1002.1 1476.7H1005.4V1480.1H1002.1zM1027.4 1469.9H1040.7V1476.7H1027.4zM1078 1469.9H1084.7V1476.7H1078zM1140.1 1476.7H1143.7V1480.1H1140.1zM1367.7 1469.9H1375V1476.7H1367.7zM1389 1469.9H1395V1476.7H1389zM1416 1549H1426.1V1571.5H1416zM1464 1527H1468V1549H1464zM1550.7 1549H1554V1571.5H1550.7z"/>
<path fill="#00b7ff" d="M711.7 530.9H718.7V537.9H711.7zM1063.7 530.9H1067.6V537.9H1063.7zM1170 544.9H1171V548.3H1170zM1198 530.9H1204.7V537.9H1198zM1270.3 530.9H1274.1V537.9H1270.3zM754 1549H757.3V1571.5H754zM1064 1549H1068V1571.5H1064zM1137 1549H1140.1V1571.5H1137zM1174 1549H1181.3V1571.5H1174zM1271 1549H1275V1571.5H1271z"/>
<path fill="#07f" d="M711.7 544.9H718.7V548.3H711.7zM1063.7 544.9H1067.6V548.3H1063.7zM1198 544.9H1204.7V548.3H1198zM1270.3 544.9H1274.1V548.3H1270.3z"/>
<path fill="#0000c9" d="M711.7 575.8H718.7V579.9H711.7zM859.9 569H866.7V575.8H859.9zM1063.7 575.8H1067.6V579.9H1063.7zM1198 575.8H1204.7V579.9H1198zM1236.5 579.9H1243.3V586.7H1236.5zM1270.3 575.8H1274.1V579.9H1270.3zM614 1476.7H619V1480.1H614zM739.4 1469.9H746.7V1476.7H739.4zM861.1 1469.9H864.1V1476.7H861.1zM1537 1476.7H1550.7V1480.1H1537z"/>
<path fill="#0000e7" d="M722.1 544.9H732.1V548.3H722.1zM791.5 555.1H797.2V561.9H791.5zM1311.9 569H1315.8V575.8H1311.9zM1412.2 544.9H1419V548.3H1412.2zM1532.9 555.1H1546.4V561.9H1532.9zM614 1486.9H619V1494H614zM643.3 1469.9H650V1476.7H643.3zM1123 1462.9H1126.4V1469.9H1123zM1357.4 1469.9H1361V1476.7H1357.4zM1395 1469.9H1402V1476.7H1395zM1478 1503.9H1482V1527H1478zM1537 1486.9H1550.7V1494H1537zM1568.1 1503.9H1575.1V1527H1568.1z"/>
<path fill="#0000bf" d="M722.1 561.9H732.1V569H722.1zM753.9 579.9H763.5V586.7H753.9zM791.5 569H797.2V575.8H791.5zM826.2 579.9H829.1V586.7H826.2zM883.1 579.9H887.3V586.7H883.1zM946.9 579.9H950.2V586.7H946.9zM1225.9 579.9H1229.8V586.7H1225.9zM1333.1 575.8H1339.9V579.9H1333.1zM1412.2 561.9H1419V569H1412.2zM1532.9 569H1546.4V575.8H1532.9zM480.6 1486.9H488V1494H480.6zM495.3 1469.9H502V1476.7H495.3zM529.7 1476.7H533V1480.1H529.7zM587.7 1486.9H611.4V1494H587.7zM702 1455.9H708.7V1462.9H702zM1005.4 1455.9H1019.4V1462.9H1005.4zM1084.7 1455.9H1092V1462.9H1084.7zM1554 1486.9H1558V1494H1554z"/>
<path fill="#0096ff" d="M735.7 530.9H742.7V537.9H735.7zM887.3 555.1H890V561.9H887.3zM1267.4 555.1H1270.3V561.9H1267.4zM684.7 1549H691.7V1571.5H684.7zM708.7 1549H715.7V1571.5H708.7zM802 1549H812.7V1571.5H802zM1333 1549H1337V1571.5H1333z"/>
<path fill="#007eff" d="M735.7 537.9H742.7V544.9H735.7zM1122.6 555.1H1126.4V561.9H1122.6zM1139.9 555.1H1146.7V561.9H1139.9zM1310 530.9H1311.9V537.9H1310zM1364 555.1H1373.6V561.9H1364zM1384.2 555.1H1391V561.9H1384.2zM619 1549H626V1571.5H619zM636.7 1549H640V1571.5H636.7zM671 1549H678V1571.5H671zM691.7 1527H695V1549H691.7zM812.7 1549H816V1571.5H812.7zM1226 1549H1230V1571.5H1226zM1264.4 1549H1271V1571.5H1264.4zM1361 1549H1367.7V1571.5H1361z"/>
<path fill="#005dff" d="M735.7 544.9H742.7V548.3H735.7zM1170 555.1H1171V561.9H1170zM640 1527H643.3V1549H640zM650 1527H654V1549H650zM667.7 1500.8H671V1503.9H667.7zM678 1500.8H681.4V1503.9H678zM746.7 1500.8H754V1503.9H746.7zM857.4 1500.8H861.1V1503.9H857.4zM871.1 1527H878.1V1549H871.1zM1071 1500.8H1078V1503.9H1071zM1168.1 1500.8H1174V1503.9H1168.1zM1285.1 1500.8H1292.1V1503.9H1285.1zM1305.7 1527H1316V1549H1305.7zM1378 1500.8H1382V1503.9H1378z"/>
<path fill="#003eff" d="M735.7 548.3H742.7V555.1H735.7zM1250 569H1256.8V575.8H1250zM567.4 1503.9H574V1527H567.4zM739.4 1503.9H746.7V1527H739.4zM861.1 1503.9H864.1V1527H861.1zM960.7 1480.1H981.4V1486.9H960.7zM991.4 1480.1H995V1486.9H991.4zM1054 1480.1H1064V1486.9H1054zM1092 1480.1H1106V1486.9H1092zM1154.1 1480.1H1168.1V1486.9H1154.1zM1240 1480.1H1246.7V1486.9H1240z"/>
<path fill="#00a" d="M735.7 579.9H742.7V586.7H735.7zM522.7 1476.7H529.7V1480.1H522.7zM1112.7 1448.6H1116V1455.9H1112.7zM1246.7 1448.6H1254V1455.9H1246.7zM1482 1476.7H1492V1480.1H1482z"/>
<path fill="#00dbff" d="M742.7 530.9H750V537.9H742.7zM890 548.3H894.8V555.1H890zM906 1527H916V1549H906z"/>
<path fill="#00bdff" d="M742.7 537.9H750V544.9H742.7zM1346.6 530.9H1353.4V537.9H1346.6z"/>
<path fill="#006eff" d="M742.7 548.3H750V555.1H742.7z"/>
<path fill="#0045ff" d="M742.7 555.1H750V561.9H742.7zM859.9 537.9H866.7V544.9H859.9zM998 555.1H1001.8V561.9H998zM739.4 1549H746.7V1571.5H739.4zM754 1486.9H757.3V1494H754zM861.1 1549H864.1V1571.5H861.1zM1064 1486.9H1068V1494H1064zM1137 1486.9H1140.1V1494H1137zM1174 1486.9H1181.3V1494H1174zM1271 1486.9H1275V1494H1271zM1323 1500.8H1330V1503.9H1323z"/>
<path fill="#001bff" d="M742.7 561.9H750V569H742.7zM887.3 569H890V575.8H887.3zM1267.4 569H1270.3V575.8H1267.4zM574 1527H577.7V1549H574zM643.3 1480.1H650V1486.9H643.3zM788 1486.9H795V1494H788zM1068 1486.9H1071V1494H1068zM1202 1486.9H1209V1494H1202zM1275 1486.9H1278V1494H1275zM1316 1486.9H1319.7V1494H1316zM1350.4 1486.9H1357.4V1494H1350.4zM1357.4 1480.1H1361V1486.9H1357.4zM1395 1480.1H1402V1486.9H1395z"/>
<path fill="#0000ef" d="M742.7 569H750V575.8H742.7zM890 575.8H894.8V579.9H890zM998 569H1001.8V575.8H998zM1436.3 537.9H1450V544.9H1436.3zM533 1549H543.4V1571.5H533zM657 1527H664V1549H657zM691.7 1476.7H695V1480.1H691.7z"/>
<path fill="#0000d0" d="M742.7 575.8H750V579.9H742.7zM998 575.8H1001.8V579.9H998zM1112 579.9H1118.7V586.7H1112zM1339.9 561.9H1346.6V569H1339.9zM1450 561.9H1456.7V569H1450zM491.7 1476.7H495.3V1480.1H491.7zM547 1469.9H553.7V1476.7H547zM847 1462.9H850.4V1469.9H847zM878.1 1462.9H887.7V1469.9H878.1zM1302.1 1462.9H1305.7V1469.9H1302.1zM1319.7 1476.7H1323V1480.1H1319.7zM1375 1462.9H1378V1469.9H1375zM1482 1503.9H1492V1527H1482zM1506 1476.7H1509V1480.1H1506zM1516 1476.7H1523V1480.1H1516z"/>
<path fill="#00ff87" d="M750 530.9H753.9V537.9H750z"/>
<path fill="#00ffb4" d="M750 537.9H753.9V544.9H750zM822.3 537.9H826.2V544.9H822.3zM940.1 537.9H946.9V544.9H940.1zM1008.6 537.9H1015.3V544.9H1008.6zM1243.3 544.9H1250V548.3H1243.3z"/>
<path fill="#00fff1" d="M750 544.9H753.9V548.3H750zM822.3 544.9H826.2V548.3H822.3zM940.1 544.9H946.9V548.3H940.1zM1008.6 544.9H1015.3V548.3H1008.6z"/>
<path fill="#009bff" d="M750 555.1H753.9V561.9H750zM822.3 555.1H826.2V561.9H822.3zM940.1 555.1H946.9V561.9H940.1zM1008.6 555.1H1015.3V561.9H1008.6zM1112 561.9H1118.7V569H1112zM1377.5 548.3H1384.2V555.1H1377.5zM847 1549H850.4V1571.5H847zM878.1 1549H887.7V1571.5H878.1zM1246.7 1494H1254V1500.8H1246.7zM1302.1 1549H1305.7V1571.5H1302.1zM1375 1549H1378V1571.5H1375z"/>
<path fill="#005fff" d="M750 561.9H753.9V569H750zM822.3 561.9H826.2V569H822.3zM940.1 561.9H946.9V569H940.1zM1008.6 561.9H1015.3V569H1008.6zM1287.6 561.9H1295.3V569H1287.6zM774.3 1494H788V1500.8H774.3zM816 1494H826V1500.8H816zM1382 1494H1389V1500.8H1382z"/>
<path fill="#001eff" d="M750 569H753.9V575.8H750zM822.3 569H826.2V575.8H822.3zM940.1 569H946.9V575.8H940.1zM1008.6 569H1015.3V575.8H1008.6zM1287.6 569H1295.3V575.8H1287.6zM495.3 1503.9H502V1527H495.3zM574 1549H577.7V1571.5H574z"/>
<path fill="#00ffa2" d="M753.9 530.9H763.5V537.9H753.9z"/>
<path fill="#0fc" d="M753.9 537.9H763.5V544.9H753.9zM1101.3 544.9H1108.1V548.3H1101.3z"/>
<path fill="#00c5ff" d="M753.9 548.3H763.5V555.1H753.9zM1243.3 555.1H1250V561.9H1243.3zM702 1549H708.7V1571.5H702zM1005.4 1549H1019.4V1571.5H1005.4zM1084.7 1549H1092V1571.5H1084.7z"/>
<path fill="#5aff46" d="M763.5 530.9H770.2V537.9H763.5zM894.8 530.9H901.6V537.9H894.8zM918.9 530.9H925.7V537.9H918.9zM987.4 530.9H991.2V537.9H987.4zM1035.8 530.9H1046.4V537.9H1035.8z"/>
<path fill="#00ff91" d="M763.5 537.9H770.2V544.9H763.5zM887.3 530.9H890V537.9H887.3zM894.8 537.9H901.6V544.9H894.8zM918.9 537.9H925.7V544.9H918.9zM987.4 537.9H991.2V544.9H987.4zM1035.8 537.9H1046.4V544.9H1035.8zM1267.4 530.9H1270.3V537.9H1267.4z"/>
<path fill="#00ffd3" d="M763.5 544.9H770.2V548.3H763.5zM894.8 544.9H901.6V548.3H894.8zM918.9 544.9H925.7V548.3H918.9zM987.4 544.9H991.2V548.3H987.4zM1035.8 544.9H1046.4V548.3H1035.8z"/>
<path fill="#00f0ff" d="M763.5 548.3H770.2V555.1H763.5zM894.8 548.3H901.6V555.1H894.8zM918.9 548.3H925.7V555.1H918.9zM987.4 548.3H991.2V555.1H987.4zM1035.8 548.3H1046.4V555.1H1035.8zM1211.5 530.9H1218.2V537.9H1211.5zM1218.2 530.9H1225.9V537.9H1218.2z"/>
<path fill="#002aff" d="M763.5 569H770.2V575.8H763.5zM894.8 569H901.6V575.8H894.8zM918.9 569H925.7V575.8H918.9zM987.4 569H991.2V575.8H987.4zM1035.8 569H1046.4V575.8H1035.8zM1050.2 569H1054.1V575.8H1050.2zM1087.9 569H1094.6V575.8H1087.9zM1157.3 569H1163.1V575.8H1157.3zM1177.7 569H1184.5V575.8H1177.7zM826 1480.1H833V1486.9H826zM887.7 1480.1H894V1486.9H887.7zM1230 1480.1H1240V1486.9H1230zM1292.1 1480.1H1302.1V1486.9H1292.1z"/>
<path fill="#0000f5" d="M763.5 575.8H770.2V579.9H763.5zM894.8 575.8H901.6V579.9H894.8zM905.4 575.8H912.2V579.9H905.4zM918.9 575.8H925.7V579.9H918.9zM987.4 575.8H991.2V579.9H987.4zM1035.8 575.8H1046.4V579.9H1035.8zM1050.2 575.8H1054.1V579.9H1050.2zM505.7 1500.8H515.7V1503.9H505.7zM574 1494H577.7V1500.8H574zM722.7 1500.8H726.1V1503.9H722.7zM1209 1500.8H1212.7V1503.9H1209z"/>
<path fill="#0000c6" d="M763.5 579.9H770.2V586.7H763.5zM894.8 579.9H901.6V586.7H894.8zM901.6 579.9H905.4V586.7H901.6zM905.4 579.9H912.2V586.7H905.4zM918.9 579.9H925.7V586.7H918.9zM960.4 579.9H964.2V586.7H960.4zM970 579.9H976.8V586.7H970zM987.4 579.9H991.2V586.7H987.4zM1035.8 579.9H1046.4V586.7H1035.8zM1050.2 579.9H1054.1V586.7H1050.2zM1087.9 579.9H1094.6V586.7H1087.9zM1157.3 579.9H1163.1V586.7H1157.3zM1177.7 579.9H1184.5V586.7H1177.7zM798.4 1469.9H802V1476.7H798.4zM1212.7 1469.9H1216V1476.7H1212.7zM1330 1469.9H1333V1476.7H1330z"/>
<path fill="#0032ff" d="M791.5 530.9H797.2V537.9H791.5zM1132.2 561.9H1136.1V569H1132.2zM1532.9 530.9H1546.4V537.9H1532.9zM1319.7 1549H1323V1571.5H1319.7zM1506 1549H1509V1571.5H1506zM1516 1549H1523V1571.5H1516z"/>
<path fill="#0000d3" d="M791.5 561.9H797.2V569H791.5zM1353.4 575.8H1357.2V579.9H1353.4zM1532.9 561.9H1546.4V569H1532.9zM553.7 1480.1H567.4V1486.9H553.7zM643.3 1462.9H650V1469.9H643.3zM798.4 1476.7H802V1480.1H798.4zM864.1 1480.1H871.1V1486.9H864.1zM1212.7 1476.7H1216V1480.1H1212.7zM1330 1476.7H1333V1480.1H1330zM1344 1480.1H1350.4V1486.9H1344zM1357.4 1462.9H1361V1469.9H1357.4zM1395 1462.9H1402V1469.9H1395zM1454 1480.1H1460.7V1486.9H1454zM1482 1549H1492V1571.5H1482z"/>
<path fill="#00ffc6" d="M811.7 530.9H822.3V537.9H811.7z"/>
<path fill="#00ffed" d="M811.7 537.9H822.3V544.9H811.7z"/>
<path fill="#0df" d="M811.7 544.9H822.3V548.3H811.7zM983.5 548.3H987.4V555.1H983.5zM998 530.9H1001.8V537.9H998zM1229.8 548.3H1236.5V555.1H1229.8zM833 1549H847V1571.5H833zM899 1549H906V1571.5H899zM923.3 1549H933V1571.5H923.3zM1019.4 1549H1027.4V1571.5H1019.4zM1040.7 1549H1054V1571.5H1040.7zM1106 1549H1112.7V1571.5H1106zM1181.3 1549H1188.3V1571.5H1181.3zM1260.7 1549H1264.4V1571.5H1260.7z"/>
<path fill="#00adff" d="M811.7 548.3H822.3V555.1H811.7zM1254 1494H1260.7V1500.8H1254z"/>
<path fill="#0078ff" d="M811.7 555.1H822.3V561.9H811.7zM1019.2 561.9H1023.1V569H1019.2zM1094.6 561.9H1101.3V569H1094.6zM1353.4 548.3H1357.2V555.1H1353.4zM757.3 1500.8H767.7V1503.9H757.3zM894 1494H899V1500.8H894zM916 1494H923.3V1500.8H916zM954 1494H960.7V1500.8H954zM1027.4 1494H1040.7V1500.8H1027.4zM1078 1494H1084.7V1500.8H1078zM1367.7 1494H1375V1500.8H1367.7zM1389 1494H1395V1500.8H1389z"/>
<path fill="#04f" d="M811.7 561.9H822.3V569H811.7z"/>
<path fill="#0f8" d="M822.3 530.9H826.2V537.9H822.3zM940.1 530.9H946.9V537.9H940.1zM1008.6 530.9H1015.3V537.9H1008.6zM1150.5 537.9H1157.3V544.9H1150.5z"/>
<path fill="#00d6ff" d="M822.3 548.3H826.2V555.1H822.3zM940.1 548.3H946.9V555.1H940.1zM1008.6 548.3H1015.3V555.1H1008.6zM1287.6 548.3H1295.3V555.1H1287.6zM833 1527H847V1549H833zM899 1527H906V1549H899zM923.3 1527H933V1549H923.3zM1019.4 1527H1027.4V1549H1019.4zM1040.7 1527H1054V1549H1040.7zM1106 1527H1112.7V1549H1106zM1181.3 1527H1188.3V1549H1181.3zM1260.7 1527H1264.4V1549H1260.7z"/>
<path fill="#00ffa6" d="M826.2 530.9H829.1V537.9H826.2zM883.1 530.9H887.3V537.9H883.1zM946.9 530.9H950.2V537.9H946.9zM1225.9 530.9H1229.8V537.9H1225.9z"/>
<path fill="#00f5ff" d="M826.2 544.9H829.1V548.3H826.2zM883.1 544.9H887.3V548.3H883.1zM946.9 544.9H950.2V548.3H946.9zM1001.8 537.9H1008.6V544.9H1001.8zM1101.3 548.3H1108.1V555.1H1101.3zM1225.9 544.9H1229.8V548.3H1225.9z"/>
<path fill="#008aff" d="M826.2 555.1H829.1V561.9H826.2zM883.1 555.1H887.3V561.9H883.1zM946.9 555.1H950.2V561.9H946.9zM991.2 548.3H998V555.1H991.2zM1108.1 561.9H1112V569H1108.1zM1225.9 555.1H1229.8V561.9H1225.9z"/>
<path fill="#0052ff" d="M826.2 561.9H829.1V569H826.2zM883.1 561.9H887.3V569H883.1zM946.9 561.9H950.2V569H946.9zM1225.9 561.9H1229.8V569H1225.9z"/>
<path fill="#0014ff" d="M826.2 569H829.1V575.8H826.2zM859.9 548.3H866.7V555.1H859.9zM883.1 569H887.3V575.8H883.1zM946.9 569H950.2V575.8H946.9zM1225.9 569H1229.8V575.8H1225.9zM833 1476.7H847V1480.1H833zM899 1476.7H906V1480.1H899zM923.3 1476.7H933V1480.1H923.3zM1019.4 1476.7H1027.4V1480.1H1019.4zM1040.7 1476.7H1054V1480.1H1040.7zM1106 1476.7H1112.7V1480.1H1106zM1181.3 1476.7H1188.3V1480.1H1181.3zM1260.7 1476.7H1264.4V1480.1H1260.7z"/>
<path fill="#0000e8" d="M826.2 575.8H829.1V579.9H826.2zM883.1 575.8H887.3V579.9H883.1zM946.9 575.8H950.2V579.9H946.9zM1225.9 575.8H1229.8V579.9H1225.9zM1419 548.3H1421.8V555.1H1419zM1487.6 548.3H1495.3V555.1H1487.6zM757.3 1469.9H767.7V1476.7H757.3z"/>
<path fill="#4cff51" d="M829.1 530.9H835.8V537.9H829.1zM1054.1 530.9H1059.9V537.9H1054.1zM1118.7 537.9H1122.6V544.9H1118.7zM1126.4 530.9H1132.2V537.9H1126.4z"/>
<path fill="#00ff98" d="M829.1 537.9H835.8V544.9H829.1zM1054.1 537.9H1059.9V544.9H1054.1zM1126.4 537.9H1132.2V544.9H1126.4z"/>
<path fill="#00ffd9" d="M829.1 544.9H835.8V548.3H829.1zM1054.1 544.9H1059.9V548.3H1054.1zM1126.4 544.9H1132.2V548.3H1126.4z"/>
<path fill="#00ebff" d="M829.1 548.3H835.8V555.1H829.1zM1054.1 548.3H1059.9V555.1H1054.1zM1126.4 548.3H1132.2V555.1H1126.4zM1123 1503.9H1126.4V1527H1123z"/>
<path fill="#00acff" d="M829.1 555.1H835.8V561.9H829.1zM929.5 544.9H940.1V548.3H929.5zM1054.1 555.1H1059.9V561.9H1054.1zM1126.4 555.1H1132.2V561.9H1126.4zM1191.2 544.9H1198V548.3H1191.2zM681.4 1527H684.7V1549H681.4zM943.7 1527H954V1549H943.7zM960.7 1500.8H981.4V1503.9H960.7zM991.4 1500.8H995V1503.9H991.4zM995 1527H1002.1V1549H995zM1054 1500.8H1064V1503.9H1054zM1092 1500.8H1106V1503.9H1092zM1154.1 1500.8H1168.1V1503.9H1154.1zM1188.3 1527H1202V1549H1188.3zM1240 1500.8H1246.7V1503.9H1240zM1402 1527H1409V1549H1402z"/>
<path fill="#006cff" d="M829.1 561.9H835.8V569H829.1zM1054.1 561.9H1059.9V569H1054.1zM1126.4 561.9H1132.2V569H1126.4zM1136.1 548.3H1139.9V555.1H1136.1zM1333.1 537.9H1339.9V544.9H1333.1zM847 1500.8H850.4V1503.9H847zM878.1 1500.8H887.7V1503.9H878.1zM1302.1 1500.8H1305.7V1503.9H1302.1zM1375 1500.8H1378V1503.9H1375z"/>
<path fill="#00ff72" d="M835.8 530.9H842.6V537.9H835.8zM925.7 530.9H929.5V537.9H925.7zM976.8 530.9H983.5V537.9H976.8z"/>
<path fill="#00ffa0" d="M835.8 537.9H842.6V544.9H835.8zM925.7 537.9H929.5V544.9H925.7zM976.8 537.9H983.5V544.9H976.8z"/>
<path fill="#00ffe0" d="M835.8 544.9H842.6V548.3H835.8zM925.7 544.9H929.5V548.3H925.7zM976.8 544.9H983.5V548.3H976.8z"/>
<path fill="#00e5ff" d="M835.8 548.3H842.6V555.1H835.8zM925.7 548.3H929.5V555.1H925.7zM976.8 548.3H983.5V555.1H976.8zM1122.6 544.9H1126.4V548.3H1122.6zM1139.9 544.9H1146.7V548.3H1139.9zM1170 537.9H1171V544.9H1170zM1364 544.9H1373.6V548.3H1364zM1384.2 544.9H1391V548.3H1384.2z"/>
<path fill="#00a7ff" d="M835.8 555.1H842.6V561.9H835.8zM925.7 555.1H929.5V561.9H925.7zM976.8 555.1H983.5V561.9H976.8z"/>
<path fill="#0000c4" d="M835.8 579.9H842.6V586.7H835.8zM912.2 579.9H918.9V586.7H912.2zM925.7 579.9H929.5V586.7H925.7zM950.2 579.9H956.5V586.7H950.2zM976.8 579.9H983.5V586.7H976.8zM1023.1 579.9H1030V586.7H1023.1zM1078.2 579.9H1087.9V586.7H1078.2zM491.7 1469.9H495.3V1476.7H491.7zM715.7 1462.9H722.7V1469.9H715.7zM960.7 1455.9H981.4V1462.9H960.7zM991.4 1455.9H995V1462.9H991.4zM1054 1455.9H1064V1462.9H1054zM1092 1455.9H1106V1462.9H1092zM1154.1 1455.9H1168.1V1462.9H1154.1zM1240 1455.9H1246.7V1462.9H1240zM1464 1480.1H1468V1486.9H1464zM1558 1500.8H1568.1V1503.9H1558z"/>
<path fill="#00ffeb" d="M842.6 530.9H846.4V537.9H842.6zM1256.8 530.9H1260.6V537.9H1256.8zM1397.7 530.9H1405.5V537.9H1397.7z"/>
<path fill="#00efff" d="M842.6 537.9H846.4V544.9H842.6zM905.4 548.3H912.2V555.1H905.4zM1256.8 537.9H1260.6V544.9H1256.8zM1397.7 537.9H1405.5V544.9H1397.7zM1246.7 1503.9H1254V1527H1246.7z"/>
<path fill="#00bfff" d="M842.6 544.9H846.4V548.3H842.6zM1256.8 544.9H1260.6V548.3H1256.8zM1397.7 544.9H1405.5V548.3H1397.7zM702 1527H708.7V1549H702zM1005.4 1527H1019.4V1549H1005.4zM1084.7 1527H1092V1549H1084.7z"/>
<path fill="#0034ff" d="M842.6 561.9H846.4V569H842.6zM1256.8 561.9H1260.6V569H1256.8zM1397.7 561.9H1405.5V569H1397.7zM1116 1476.7H1123V1480.1H1116zM1143.7 1480.1H1154.1V1486.9H1143.7z"/>
<path fill="#00c7ff" d="M846.4 530.9H853.2V537.9H846.4zM1163.1 530.9H1170V537.9H1163.1zM1377.5 544.9H1384.2V548.3H1377.5z"/>
<path fill="#00abff" d="M846.4 537.9H853.2V544.9H846.4zM1163.1 537.9H1170V544.9H1163.1zM754 1503.9H757.3V1527H754zM1064 1503.9H1068V1527H1064zM1137 1503.9H1140.1V1527H1137zM1174 1503.9H1181.3V1527H1174zM1271 1503.9H1275V1527H1271z"/>
<path fill="#0083ff" d="M846.4 544.9H853.2V548.3H846.4zM929.5 548.3H940.1V555.1H929.5zM1118.7 561.9H1122.6V569H1118.7zM1163.1 544.9H1170V548.3H1163.1zM1191.2 548.3H1198V555.1H1191.2zM1333.1 530.9H1339.9V537.9H1333.1zM667.7 1527H671V1549H667.7zM678 1527H681.4V1549H678zM691.7 1549H695V1571.5H691.7zM746.7 1527H754V1549H746.7zM857.4 1527H861.1V1549H857.4zM1071 1527H1078V1549H1071zM1168.1 1527H1174V1549H1168.1zM1285.1 1527H1292.1V1549H1285.1zM1378 1527H1382V1549H1378z"/>
<path fill="#0039ff" d="M846.4 555.1H853.2V561.9H846.4zM1163.1 555.1H1170V561.9H1163.1zM643.3 1486.9H650V1494H643.3zM833 1480.1H847V1486.9H833zM899 1480.1H906V1486.9H899zM923.3 1480.1H933V1486.9H923.3zM1019.4 1480.1H1027.4V1486.9H1019.4zM1040.7 1480.1H1054V1486.9H1040.7zM1106 1480.1H1112.7V1486.9H1106zM1181.3 1480.1H1188.3V1486.9H1181.3zM1260.7 1480.1H1264.4V1486.9H1260.7zM1357.4 1486.9H1361V1494H1357.4zM1395 1486.9H1402V1494H1395z"/>
<path fill="#0012ff" d="M846.4 561.9H853.2V569H846.4zM1163.1 561.9H1170V569H1163.1zM1333.1 555.1H1339.9V561.9H1333.1zM715.7 1486.9H722.7V1494H715.7zM739.4 1494H746.7V1500.8H739.4zM767.7 1476.7H774.3V1480.1H767.7zM861.1 1494H864.1V1500.8H861.1zM981.4 1476.7H991.4V1480.1H981.4zM1126.4 1476.7H1137V1480.1H1126.4z"/>
<path fill="#0051ff" d="M857 544.9H859.9V548.3H857zM1421.8 544.9H1429.6V548.3H1421.8zM547 1503.9H553.7V1527H547zM847 1494H850.4V1500.8H847zM878.1 1494H887.7V1500.8H878.1zM1302.1 1494H1305.7V1500.8H1302.1zM1375 1494H1378V1500.8H1375z"/>
<path fill="#0035ff" d="M857 548.3H859.9V555.1H857zM1421.8 548.3H1429.6V555.1H1421.8zM633 1500.8H636.7V1503.9H633zM664 1500.8H667.7V1503.9H664zM788 1494H795V1500.8H788zM798.4 1503.9H802V1527H798.4zM850.4 1500.8H857.4V1503.9H850.4zM1068 1494H1071V1500.8H1068zM1202 1494H1209V1500.8H1202zM1212.7 1503.9H1216V1527H1212.7zM1275 1494H1278V1500.8H1275zM1316 1494H1319.7V1500.8H1316zM1330 1503.9H1333V1527H1330zM1337 1500.8H1344V1503.9H1337zM1350.4 1494H1357.4V1500.8H1350.4zM1426.1 1500.8H1437.1V1503.9H1426.1zM1509 1500.8H1516V1503.9H1509zM1523 1500.8H1537V1503.9H1523z"/>
<path fill="#0058ff" d="M859.9 530.9H866.7V537.9H859.9zM633 1549H636.7V1571.5H633zM643.3 1494H650V1500.8H643.3zM664 1549H667.7V1571.5H664zM850.4 1549H857.4V1571.5H850.4zM1143.7 1486.9H1154.1V1494H1143.7zM1337 1549H1344V1571.5H1337zM1357.4 1494H1361V1500.8H1357.4zM1395 1494H1402V1500.8H1395zM1426.1 1549H1437.1V1571.5H1426.1zM1509 1549H1516V1571.5H1509zM1523 1549H1537V1571.5H1523z"/>
<path fill="#002cff" d="M859.9 544.9H866.7V548.3H859.9zM1101.3 569H1108.1V575.8H1101.3zM491.7 1503.9H495.3V1527H491.7zM702 1480.1H708.7V1486.9H702zM1005.4 1480.1H1019.4V1486.9H1005.4zM1084.7 1480.1H1092V1486.9H1084.7zM1254 1476.7H1260.7V1480.1H1254z"/>
<path fill="#0000e3" d="M859.9 561.9H866.7V569H859.9zM488 1500.8H491.7V1503.9H488zM502 1494H505.7V1500.8H502zM515.7 1500.8H522.7V1503.9H515.7zM684.7 1469.9H691.7V1476.7H684.7zM708.7 1469.9H715.7V1476.7H708.7zM726.1 1500.8H739.4V1503.9H726.1zM795 1494H798.4V1500.8H795zM802 1469.9H812.7V1476.7H802zM960.7 1462.9H981.4V1469.9H960.7zM991.4 1462.9H995V1469.9H991.4zM1054 1462.9H1064V1469.9H1054zM1092 1462.9H1106V1469.9H1092zM1154.1 1462.9H1168.1V1469.9H1154.1zM1240 1462.9H1246.7V1469.9H1240zM1333 1469.9H1337V1476.7H1333zM1416 1500.8H1426.1V1503.9H1416zM1468 1494H1478V1500.8H1468zM1550.7 1500.8H1554V1503.9H1550.7z"/>
<path fill="#0000b6" d="M859.9 575.8H866.7V579.9H859.9zM991.2 579.9H998V586.7H991.2zM1170 579.9H1171V586.7H1170zM1419 569H1421.8V575.8H1419zM1487.6 569H1495.3V575.8H1487.6zM480.6 1480.1H488V1486.9H480.6zM529.7 1469.9H533V1476.7H529.7zM533 1476.7H543.4V1480.1H533zM587.7 1480.1H611.4V1486.9H587.7zM1460.7 1469.9H1464V1476.7H1460.7zM1492 1469.9H1499.4V1476.7H1492zM1499.4 1476.7H1506V1480.1H1499.4zM1558 1486.9H1568.1V1494H1558z"/>
<path fill="#00fff8" d="M887.3 544.9H890V548.3H887.3zM1267.4 544.9H1270.3V548.3H1267.4zM1254 1503.9H1260.7V1527H1254z"/>
<path fill="#00d0ff" d="M887.3 548.3H890V555.1H887.3zM1211.5 537.9H1218.2V544.9H1211.5zM1218.2 537.9H1225.9V544.9H1218.2zM1267.4 548.3H1270.3V555.1H1267.4z"/>
<path fill="#0000c1" d="M887.3 579.9H890V586.7H887.3zM1171 579.9H1177.7V586.7H1171zM1267.4 579.9H1270.3V586.7H1267.4zM1302.1 575.8H1310V579.9H1302.1zM505.7 1476.7H515.7V1480.1H505.7zM547 1462.9H553.7V1469.9H547zM654 1469.9H657V1476.7H654zM657 1480.1H664V1486.9H657zM722.7 1476.7H726.1V1480.1H722.7zM1143.7 1455.9H1154.1V1462.9H1143.7zM1209 1476.7H1212.7V1480.1H1209zM1278 1469.9H1285.1V1476.7H1278zM1482 1494H1492V1500.8H1482zM1499.4 1480.1H1506V1486.9H1499.4z"/>
<path fill="#00ff81" d="M890 530.9H894.8V537.9H890z"/>
<path fill="#00ffae" d="M890 537.9H894.8V544.9H890z"/>
<path fill="#00ffec" d="M890 544.9H894.8V548.3H890z"/>
<path fill="#009eff" d="M890 555.1H894.8V561.9H890zM643.3 1527H650V1549H643.3zM1112.7 1494H1116V1500.8H1112.7zM1357.4 1527H1361V1549H1357.4zM1395 1527H1402V1549H1395z"/>
<path fill="#0062ff" d="M890 561.9H894.8V569H890zM640 1549H643.3V1571.5H640zM650 1549H654V1571.5H650zM715.7 1527H722.7V1549H715.7zM871.1 1549H878.1V1571.5H871.1zM1305.7 1549H1316V1571.5H1305.7zM1323 1503.9H1330V1527H1323z"/>
<path fill="#65ff3e" d="M901.6 530.9H905.4V537.9H901.6zM960.4 530.9H964.2V537.9H960.4zM970 530.9H976.8V537.9H970z"/>
<path fill="#00ff8c" d="M901.6 537.9H905.4V544.9H901.6zM960.4 537.9H964.2V544.9H960.4zM970 537.9H976.8V544.9H970z"/>
<path fill="#00ffce" d="M901.6 544.9H905.4V548.3H901.6zM960.4 544.9H964.2V548.3H960.4zM970 544.9H976.8V548.3H970z"/>
<path fill="#00f4ff" d="M901.6 548.3H905.4V555.1H901.6zM960.4 548.3H964.2V555.1H960.4zM970 548.3H976.8V555.1H970zM1112.7 1503.9H1116V1527H1112.7z"/>
<path fill="#00b3ff" d="M901.6 555.1H905.4V561.9H901.6zM960.4 555.1H964.2V561.9H960.4zM970 555.1H976.8V561.9H970z"/>
<path fill="#0072ff" d="M901.6 561.9H905.4V569H901.6zM960.4 561.9H964.2V569H960.4zM970 561.9H976.8V569H970z"/>
<path fill="#56ff49" d="M905.4 530.9H912.2V537.9H905.4z"/>
<path fill="#00ff93" d="M905.4 537.9H912.2V544.9H905.4z"/>
<path fill="#00ffd4" d="M905.4 544.9H912.2V548.3H905.4zM1116 1549H1123V1571.5H1116z"/>
<path fill="#00afff" d="M905.4 555.1H912.2V561.9H905.4z"/>
<path fill="#006fff" d="M905.4 561.9H912.2V569H905.4zM998 548.3H1001.8V555.1H998z"/>
<path fill="#0029ff" d="M905.4 569H912.2V575.8H905.4zM929.5 561.9H940.1V569H929.5zM1191.2 561.9H1198V569H1191.2zM1339.9 530.9H1346.6V537.9H1339.9zM1450 530.9H1456.7V537.9H1450zM543.4 1549H547V1571.5H543.4zM577.7 1549H587.7V1571.5H577.7zM654 1549H657V1571.5H654zM1278 1549H1285.1V1571.5H1278z"/>
<path fill="#00ff76" d="M912.2 530.9H918.9V537.9H912.2zM1023.1 530.9H1030V537.9H1023.1z"/>
<path fill="#00ffa4" d="M912.2 537.9H918.9V544.9H912.2zM1023.1 537.9H1030V544.9H1023.1z"/>
<path fill="#00ffe3" d="M912.2 544.9H918.9V548.3H912.2zM1023.1 544.9H1030V548.3H1023.1zM1122.6 537.9H1126.4V544.9H1122.6zM1139.9 537.9H1146.7V544.9H1139.9zM1364 537.9H1373.6V544.9H1364zM1384.2 537.9H1391V544.9H1384.2z"/>
<path fill="#00e2ff" d="M912.2 548.3H918.9V555.1H912.2zM991.2 537.9H998V544.9H991.2zM1023.1 548.3H1030V555.1H1023.1zM1078.2 548.3H1087.9V555.1H1078.2zM906 1549H916V1571.5H906z"/>
<path fill="#00faff" d="M929.5 530.9H940.1V537.9H929.5zM1191.2 530.9H1198V537.9H1191.2zM1123 1549H1126.4V1571.5H1123z"/>
<path fill="#00d9ff" d="M929.5 537.9H940.1V544.9H929.5zM1191.2 537.9H1198V544.9H1191.2zM960.7 1503.9H981.4V1527H960.7zM991.4 1503.9H995V1527H991.4zM1054 1503.9H1064V1527H1054zM1092 1503.9H1106V1527H1092zM1154.1 1503.9H1168.1V1527H1154.1zM1240 1503.9H1246.7V1527H1240z"/>
<path fill="#0056ff" d="M929.5 555.1H940.1V561.9H929.5zM1191.2 555.1H1198V561.9H1191.2z"/>
<path fill="#00ff6f" d="M950.2 530.9H956.5V537.9H950.2z"/>
<path fill="#00ff9e" d="M950.2 537.9H956.5V544.9H950.2z"/>
<path fill="#00ffde" d="M950.2 544.9H956.5V548.3H950.2z"/>
<path fill="#00e7ff" d="M950.2 548.3H956.5V555.1H950.2zM1112 555.1H1118.7V561.9H1112zM960.7 1549H981.4V1571.5H960.7zM991.4 1549H995V1571.5H991.4zM1054 1549H1064V1571.5H1054zM1092 1549H1106V1571.5H1092zM1154.1 1549H1168.1V1571.5H1154.1zM1240 1549H1246.7V1571.5H1240z"/>
<path fill="#00a8ff" d="M950.2 555.1H956.5V561.9H950.2zM774.3 1527H788V1549H774.3zM816 1527H826V1549H816zM906 1500.8H916V1503.9H906zM1382 1527H1389V1549H1382z"/>
<path fill="#006aff" d="M950.2 561.9H956.5V569H950.2z"/>
<path fill="#81ff29" d="M956.5 530.9H960.4V537.9H956.5z"/>
<path fill="#00ff7f" d="M956.5 537.9H960.4V544.9H956.5z"/>
<path fill="#00ffc3" d="M956.5 544.9H960.4V548.3H956.5z"/>
<path fill="#00feff" d="M956.5 548.3H960.4V555.1H956.5zM1059.9 537.9H1063.7V544.9H1059.9zM1246.7 1549H1254V1571.5H1246.7z"/>
<path fill="#0bf" d="M956.5 555.1H960.4V561.9H956.5zM1074.4 548.3H1078.2V555.1H1074.4zM1295.3 548.3H1298.2V555.1H1295.3zM1116 1494H1123V1500.8H1116z"/>
<path fill="#0079ff" d="M956.5 561.9H960.4V569H956.5zM1302.1 537.9H1310V544.9H1302.1zM619 1527H626V1549H619zM636.7 1527H640V1549H636.7zM671 1527H678V1549H671zM691.7 1503.9H695V1527H691.7zM812.7 1527H816V1549H812.7zM1226 1527H1230V1549H1226zM1264.4 1527H1271V1549H1264.4zM1361 1527H1367.7V1549H1361z"/>
<path fill="#75ff32" d="M964.2 530.9H970V537.9H964.2z"/>
<path fill="#00ff84" d="M964.2 537.9H970V544.9H964.2z"/>
<path fill="#00ffc8" d="M964.2 544.9H970V548.3H964.2z"/>
<path fill="#00f9ff" d="M964.2 548.3H970V555.1H964.2zM1377.5 537.9H1384.2V544.9H1377.5z"/>
<path fill="#00b8ff" d="M964.2 555.1H970V561.9H964.2z"/>
<path fill="#0076ff" d="M964.2 561.9H970V569H964.2zM1112.7 1486.9H1116V1494H1112.7z"/>
<path fill="#0000f8" d="M964.2 575.8H970V579.9H964.2zM847 1476.7H850.4V1480.1H847zM878.1 1476.7H887.7V1480.1H878.1zM1302.1 1476.7H1305.7V1480.1H1302.1zM1375 1476.7H1378V1480.1H1375z"/>
<path fill="#00ff7e" d="M983.5 530.9H987.4V537.9H983.5zM1229.8 530.9H1236.5V537.9H1229.8z"/>
<path fill="#00ffab" d="M983.5 537.9H987.4V544.9H983.5zM1229.8 537.9H1236.5V544.9H1229.8z"/>
<path fill="#00ffe9" d="M983.5 544.9H987.4V548.3H983.5zM1229.8 544.9H1236.5V548.3H1229.8z"/>
<path fill="#00a0ff" d="M983.5 555.1H987.4V561.9H983.5zM1229.8 555.1H1236.5V561.9H1229.8zM767.7 1500.8H774.3V1503.9H767.7zM981.4 1500.8H991.4V1503.9H981.4zM1126.4 1500.8H1137V1503.9H1126.4z"/>
<path fill="#0063ff" d="M983.5 561.9H987.4V569H983.5zM1229.8 561.9H1236.5V569H1229.8zM681.4 1494H684.7V1500.8H681.4zM943.7 1494H954V1500.8H943.7zM995 1494H1002.1V1500.8H995zM1188.3 1494H1202V1500.8H1188.3zM1402 1494H1409V1500.8H1402z"/>
<path fill="#00fffa" d="M991.2 530.9H998V537.9H991.2z"/>
<path fill="#005cff" d="M991.2 555.1H998V561.9H991.2zM1171 561.9H1177.7V569H1171zM1311.9 548.3H1315.8V555.1H1311.9zM757.3 1494H767.7V1500.8H757.3z"/>
<path fill="#002dff" d="M991.2 561.9H998V569H991.2zM1150.5 569H1157.3V575.8H1150.5zM626 1486.9H633V1494H626zM695 1486.9H698.7V1494H695zM933 1486.9H943.7V1494H933zM1002.1 1486.9H1005.4V1494H1002.1zM1140.1 1486.9H1143.7V1494H1140.1zM1409 1500.8H1416V1503.9H1409z"/>
<path fill="#00beff" d="M998 537.9H1001.8V544.9H998zM1236.5 555.1H1243.3V561.9H1236.5z"/>
<path fill="#0095ff" d="M998 544.9H1001.8V548.3H998zM847 1527H850.4V1549H847zM878.1 1527H887.7V1549H878.1zM1302.1 1527H1305.7V1549H1302.1zM1375 1527H1378V1549H1375z"/>
<path fill="#001cff" d="M998 561.9H1001.8V569H998zM1171 569H1177.7V575.8H1171zM614 1527H619V1549H614zM1537 1527H1550.7V1549H1537z"/>
<path fill="#00c4ff" d="M1001.8 544.9H1008.6V548.3H1001.8zM1112.7 1500.8H1116V1503.9H1112.7z"/>
<path fill="#0001ff" d="M1001.8 569H1008.6V575.8H1001.8z"/>
<path fill="#00ff6d" d="M1015.3 530.9H1019.2V537.9H1015.3zM1046.4 530.9H1050.2V537.9H1046.4zM1146.7 530.9H1150.5V537.9H1146.7z"/>
<path fill="#00ff9c" d="M1015.3 537.9H1019.2V544.9H1015.3zM1046.4 537.9H1050.2V544.9H1046.4zM1146.7 537.9H1150.5V544.9H1146.7z"/>
<path fill="#00ffdc" d="M1015.3 544.9H1019.2V548.3H1015.3zM1046.4 544.9H1050.2V548.3H1046.4zM1146.7 544.9H1150.5V548.3H1146.7z"/>
<path fill="#00e8ff" d="M1015.3 548.3H1019.2V555.1H1015.3zM1046.4 548.3H1050.2V555.1H1046.4zM1146.7 548.3H1150.5V555.1H1146.7z"/>
<path fill="#00a9ff" d="M1015.3 555.1H1019.2V561.9H1015.3zM1046.4 555.1H1050.2V561.9H1046.4zM1146.7 555.1H1150.5V561.9H1146.7zM757.3 1549H767.7V1571.5H757.3z"/>
<path fill="#7fff2b" d="M1019.2 530.9H1023.1V537.9H1019.2zM1094.6 530.9H1101.3V537.9H1094.6z"/>
<path fill="#00ff80" d="M1019.2 537.9H1023.1V544.9H1019.2zM1094.6 537.9H1101.3V544.9H1094.6z"/>
<path fill="#00ffc4" d="M1019.2 544.9H1023.1V548.3H1019.2zM1094.6 544.9H1101.3V548.3H1094.6z"/>
<path fill="#00fdff" d="M1019.2 548.3H1023.1V555.1H1019.2zM1094.6 548.3H1101.3V555.1H1094.6z"/>
<path fill="#00baff" d="M1019.2 555.1H1023.1V561.9H1019.2zM1094.6 555.1H1101.3V561.9H1094.6zM1136.1 537.9H1139.9V544.9H1136.1zM826 1527H833V1549H826zM887.7 1527H894V1549H887.7zM1230 1527H1240V1549H1230zM1292.1 1527H1302.1V1549H1292.1z"/>
<path fill="#00ff79" d="M1030 530.9H1035.8V537.9H1030z"/>
<path fill="#00ffa7" d="M1030 537.9H1035.8V544.9H1030z"/>
<path fill="#00a3ff" d="M1030 555.1H1035.8V561.9H1030zM757.3 1527H767.7V1549H757.3z"/>
<path fill="#0065ff" d="M1030 561.9H1035.8V569H1030z"/>
<path fill="#02f" d="M1030 569H1035.8V575.8H1030zM543.4 1503.9H547V1527H543.4zM577.7 1503.9H587.7V1527H577.7zM654 1503.9H657V1527H654zM681.4 1480.1H684.7V1486.9H681.4zM943.7 1480.1H954V1486.9H943.7zM995 1480.1H1002.1V1486.9H995zM1188.3 1480.1H1202V1486.9H1188.3zM1246.7 1476.7H1254V1480.1H1246.7zM1278 1503.9H1285.1V1527H1278zM1402 1480.1H1409V1486.9H1402z"/>
<path fill="#5dff45" d="M1050.2 530.9H1054.1V537.9H1050.2z"/>
<path fill="#00ff90" d="M1050.2 537.9H1054.1V544.9H1050.2z"/>
<path fill="#00ffd2" d="M1050.2 544.9H1054.1V548.3H1050.2z"/>
<path fill="#00f1ff" d="M1050.2 548.3H1054.1V555.1H1050.2z"/>
<path fill="#00ffdb" d="M1059.9 530.9H1063.7V537.9H1059.9z"/>
<path fill="#0cf" d="M1059.9 544.9H1063.7V548.3H1059.9z"/>
<path fill="#009fff" d="M1059.9 548.3H1063.7V555.1H1059.9zM1353.4 544.9H1357.2V548.3H1353.4zM698.7 1549H702V1571.5H698.7zM1216 1549H1226V1571.5H1216z"/>
<path fill="#006dff" d="M1059.9 555.1H1063.7V561.9H1059.9zM826 1494H833V1500.8H826zM887.7 1494H894V1500.8H887.7zM1230 1494H1240V1500.8H1230zM1292.1 1494H1302.1V1500.8H1292.1z"/>
<path fill="#0000de" d="M1059.9 575.8H1063.7V579.9H1059.9zM533 1500.8H543.4V1503.9H533zM633 1476.7H636.7V1480.1H633zM664 1476.7H667.7V1480.1H664zM667.7 1469.9H671V1476.7H667.7zM678 1469.9H681.4V1476.7H678zM746.7 1469.9H754V1476.7H746.7zM850.4 1476.7H857.4V1480.1H850.4zM857.4 1469.9H861.1V1476.7H857.4zM1071 1469.9H1078V1476.7H1071zM1143.7 1462.9H1154.1V1469.9H1143.7zM1168.1 1469.9H1174V1476.7H1168.1zM1285.1 1469.9H1292.1V1476.7H1285.1zM1337 1476.7H1344V1480.1H1337zM1378 1469.9H1382V1476.7H1378zM1426.1 1476.7H1437.1V1480.1H1426.1zM1509 1476.7H1516V1480.1H1509zM1523 1476.7H1537V1480.1H1523z"/>
<path fill="#00d3ff" d="M1067.6 530.9H1074.4V537.9H1067.6zM1280.9 530.9H1287.6V537.9H1280.9zM1298.2 530.9H1302.1V537.9H1298.2zM1329.3 530.9H1333.1V537.9H1329.3zM1357.2 530.9H1364V537.9H1357.2zM1254 1500.8H1260.7V1503.9H1254z"/>
<path fill="#00b6ff" d="M1067.6 537.9H1074.4V544.9H1067.6zM1150.5 555.1H1157.3V561.9H1150.5zM1280.9 537.9H1287.6V544.9H1280.9zM1298.2 537.9H1302.1V544.9H1298.2zM1329.3 537.9H1333.1V544.9H1329.3zM1357.2 537.9H1364V544.9H1357.2z"/>
<path fill="#008dff" d="M1067.6 544.9H1074.4V548.3H1067.6zM1280.9 544.9H1287.6V548.3H1280.9zM1298.2 544.9H1302.1V548.3H1298.2zM1329.3 544.9H1333.1V548.3H1329.3zM1357.2 544.9H1364V548.3H1357.2z"/>
<path fill="#00ffb1" d="M1074.4 530.9H1078.2V537.9H1074.4zM1295.3 530.9H1298.2V537.9H1295.3z"/>
<path fill="#00ffda" d="M1074.4 537.9H1078.2V544.9H1074.4zM1295.3 537.9H1298.2V544.9H1295.3z"/>
<path fill="#00edff" d="M1074.4 544.9H1078.2V548.3H1074.4zM1295.3 544.9H1298.2V548.3H1295.3z"/>
<path fill="#0084ff" d="M1074.4 555.1H1078.2V561.9H1074.4zM1295.3 555.1H1298.2V561.9H1295.3zM754 1500.8H757.3V1503.9H754zM1064 1500.8H1068V1503.9H1064zM1137 1500.8H1140.1V1503.9H1137zM1174 1500.8H1181.3V1503.9H1174zM1271 1500.8H1275V1503.9H1271z"/>
<path fill="#0f7" d="M1078.2 530.9H1087.9V537.9H1078.2z"/>
<path fill="#00ffa5" d="M1078.2 537.9H1087.9V544.9H1078.2z"/>
<path fill="#00ffe4" d="M1078.2 544.9H1087.9V548.3H1078.2z"/>
<path fill="#06f" d="M1078.2 561.9H1087.9V569H1078.2zM754 1494H757.3V1500.8H754zM1064 1494H1068V1500.8H1064zM1137 1494H1140.1V1500.8H1137zM1174 1494H1181.3V1500.8H1174zM1271 1494H1275V1500.8H1271z"/>
<path fill="#5fff43" d="M1087.9 530.9H1094.6V537.9H1087.9zM1157.3 530.9H1163.1V537.9H1157.3zM1177.7 530.9H1184.5V537.9H1177.7z"/>
<path fill="#00ff8f" d="M1087.9 537.9H1094.6V544.9H1087.9zM1157.3 537.9H1163.1V544.9H1157.3zM1177.7 537.9H1184.5V544.9H1177.7z"/>
<path fill="#00ffd1" d="M1087.9 544.9H1094.6V548.3H1087.9zM1157.3 544.9H1163.1V548.3H1157.3zM1177.7 544.9H1184.5V548.3H1177.7z"/>
<path fill="#00f2ff" d="M1087.9 548.3H1094.6V555.1H1087.9zM1157.3 548.3H1163.1V555.1H1157.3zM1177.7 548.3H1184.5V555.1H1177.7zM1123 1527H1126.4V1549H1123z"/>
<path fill="#6aff3b" d="M1101.3 530.9H1108.1V537.9H1101.3z"/>
<path fill="#00ff8a" d="M1101.3 537.9H1108.1V544.9H1101.3z"/>
<path fill="#c4ff00" d="M1108.1 530.9H1112V537.9H1108.1z"/>
<path fill="#68ff3d" d="M1108.1 537.9H1112V544.9H1108.1z"/>
<path fill="#00ffa3" d="M1108.1 544.9H1112V548.3H1108.1z"/>
<path fill="#fbff00" d="M1112 530.9H1118.7V537.9H1112z"/>
<path fill="#aeff00" d="M1112 537.9H1118.7V544.9H1112z"/>
<path fill="#00ff83" d="M1112 544.9H1118.7V548.3H1112z"/>
<path fill="#00ffca" d="M1112 548.3H1118.7V555.1H1112zM1150.5 544.9H1157.3V548.3H1150.5z"/>
<path fill="#afff00" d="M1118.7 530.9H1122.6V537.9H1118.7z"/>
<path fill="#00ffb0" d="M1118.7 544.9H1122.6V548.3H1118.7z"/>
<path fill="#00fff0" d="M1118.7 548.3H1122.6V555.1H1118.7zM1254 1527H1260.7V1549H1254z"/>
<path fill="#00c8ff" d="M1118.7 555.1H1122.6V561.9H1118.7zM894 1527H899V1549H894zM916 1527H923.3V1549H916zM954 1527H960.7V1549H954zM1027.4 1527H1040.7V1549H1027.4zM1078 1527H1084.7V1549H1078zM1367.7 1527H1375V1549H1367.7zM1389 1527H1395V1549H1389z"/>
<path fill="#0fb" d="M1122.6 530.9H1126.4V537.9H1122.6zM1139.9 530.9H1146.7V537.9H1139.9zM1364 530.9H1373.6V537.9H1364zM1384.2 530.9H1391V537.9H1384.2z"/>
<path fill="#0049ff" d="M1122.6 561.9H1126.4V569H1122.6zM1139.9 561.9H1146.7V569H1139.9zM1364 561.9H1373.6V569H1364zM1384.2 561.9H1391V569H1384.2z"/>
<path fill="#000eff" d="M1122.6 569H1126.4V575.8H1122.6zM1139.9 569H1146.7V575.8H1139.9zM1364 569H1373.6V575.8H1364zM1384.2 569H1391V575.8H1384.2zM894 1476.7H899V1480.1H894zM916 1476.7H923.3V1480.1H916zM954 1476.7H960.7V1480.1H954zM1027.4 1476.7H1040.7V1480.1H1027.4zM1078 1476.7H1084.7V1480.1H1078zM1367.7 1476.7H1375V1480.1H1367.7zM1389 1476.7H1395V1480.1H1389z"/>
<path fill="#00ffef" d="M1132.2 530.9H1136.1V537.9H1132.2z"/>
<path fill="#00ecff" d="M1132.2 537.9H1136.1V544.9H1132.2z"/>
<path fill="#00bcff" d="M1132.2 544.9H1136.1V548.3H1132.2zM1123 1500.8H1126.4V1503.9H1123z"/>
<path fill="#0091ff" d="M1132.2 548.3H1136.1V555.1H1132.2zM1136.1 544.9H1139.9V548.3H1136.1zM1302.1 530.9H1310V537.9H1302.1zM626 1549H633V1571.5H626zM684.7 1527H691.7V1549H684.7zM695 1549H698.7V1571.5H695zM708.7 1527H715.7V1549H708.7zM802 1527H812.7V1549H802zM933 1549H943.7V1571.5H933zM1002.1 1549H1005.4V1571.5H1002.1zM1140.1 1549H1143.7V1571.5H1140.1zM1333 1527H1337V1549H1333z"/>
<path fill="#00d8ff" d="M1136.1 530.9H1139.9V537.9H1136.1zM767.7 1549H774.3V1571.5H767.7zM981.4 1549H991.4V1571.5H981.4zM1126.4 1549H1137V1571.5H1126.4z"/>
<path fill="#6fff38" d="M1150.5 530.9H1157.3V537.9H1150.5z"/>
<path fill="#00f7ff" d="M1150.5 548.3H1157.3V555.1H1150.5zM1246.7 1527H1254V1549H1246.7z"/>
<path fill="#0074ff" d="M1150.5 561.9H1157.3V569H1150.5zM619 1503.9H626V1527H619zM636.7 1503.9H640V1527H636.7zM643.3 1500.8H650V1503.9H643.3zM671 1503.9H678V1527H671zM812.7 1503.9H816V1527H812.7zM1226 1503.9H1230V1527H1226zM1264.4 1503.9H1271V1527H1264.4zM1357.4 1500.8H1361V1503.9H1357.4zM1361 1503.9H1367.7V1527H1361zM1395 1500.8H1402V1503.9H1395z"/>
<path fill="#002fff" d="M1170 561.9H1171V569H1170zM1319.7 1527H1323V1549H1319.7zM1506 1527H1509V1549H1506zM1516 1527H1523V1549H1516z"/>
<path fill="#00ff8e" d="M1171 530.9H1177.7V537.9H1171z"/>
<path fill="#00ffba" d="M1171 537.9H1177.7V544.9H1171z"/>
<path fill="#00d2ff" d="M1171 548.3H1177.7V555.1H1171zM767.7 1527H774.3V1549H767.7zM981.4 1527H991.4V1549H981.4zM1126.4 1527H1137V1549H1126.4z"/>
<path fill="#0097ff" d="M1171 555.1H1177.7V561.9H1171zM1123 1494H1126.4V1500.8H1123z"/>
<path fill="#007cff" d="M1211.5 548.3H1218.2V555.1H1211.5zM1218.2 548.3H1225.9V555.1H1218.2zM774.3 1500.8H788V1503.9H774.3zM816 1500.8H826V1503.9H816zM1382 1500.8H1389V1503.9H1382z"/>
<path fill="#0050ff" d="M1211.5 555.1H1218.2V561.9H1211.5zM1218.2 555.1H1225.9V561.9H1218.2zM633 1503.9H636.7V1527H633zM664 1503.9H667.7V1527H664zM850.4 1503.9H857.4V1527H850.4zM1337 1503.9H1344V1527H1337zM1426.1 1503.9H1437.1V1527H1426.1zM1509 1503.9H1516V1527H1509zM1523 1503.9H1537V1527H1523z"/>
<path fill="#8cff1e" d="M1236.5 530.9H1243.3V537.9H1236.5z"/>
<path fill="#00ff7a" d="M1236.5 537.9H1243.3V544.9H1236.5z"/>
<path fill="#00ffbf" d="M1236.5 544.9H1243.3V548.3H1236.5z"/>
<path fill="#00fffd" d="M1236.5 548.3H1243.3V555.1H1236.5z"/>
<path fill="#0031ff" d="M1236.5 569H1243.3V575.8H1236.5zM1333.1 548.3H1339.9V555.1H1333.1zM894 1480.1H899V1486.9H894zM916 1480.1H923.3V1486.9H916zM954 1480.1H960.7V1486.9H954zM1027.4 1480.1H1040.7V1486.9H1027.4zM1078 1480.1H1084.7V1486.9H1078zM1367.7 1480.1H1375V1486.9H1367.7zM1389 1480.1H1395V1486.9H1389z"/>
<path fill="#a6ff04" d="M1243.3 530.9H1250V537.9H1243.3z"/>
<path fill="#00ff6e" d="M1243.3 537.9H1250V544.9H1243.3z"/>
<path fill="#00fff4" d="M1243.3 548.3H1250V555.1H1243.3z"/>
<path fill="#0080ff" d="M1243.3 561.9H1250V569H1243.3zM681.4 1500.8H684.7V1503.9H681.4zM943.7 1500.8H954V1503.9H943.7zM995 1500.8H1002.1V1503.9H995zM1188.3 1500.8H1202V1503.9H1188.3zM1402 1500.8H1409V1503.9H1402z"/>
<path fill="#cf0" d="M1250 530.9H1256.8V537.9H1250z"/>
<path fill="#72ff35" d="M1250 537.9H1256.8V544.9H1250z"/>
<path fill="#00ff9f" d="M1250 544.9H1256.8V548.3H1250z"/>
<path fill="#00ffe1" d="M1250 548.3H1256.8V555.1H1250zM1377.5 530.9H1384.2V537.9H1377.5z"/>
<path fill="#00ff89" d="M1287.6 530.9H1295.3V537.9H1287.6z"/>
<path fill="#00ffb5" d="M1287.6 537.9H1295.3V544.9H1287.6z"/>
<path fill="#00fff2" d="M1287.6 544.9H1295.3V548.3H1287.6z"/>
<path fill="#009aff" d="M1287.6 555.1H1295.3V561.9H1287.6zM698.7 1527H702V1549H698.7zM1216 1527H1226V1549H1216z"/>
<path fill="#0000a9" d="M1302.1 579.9H1310V586.7H1302.1zM1419 575.8H1421.8V579.9H1419zM1487.6 575.8H1495.3V579.9H1487.6zM798.4 1455.9H802V1462.9H798.4zM1123 1448.6H1126.4V1455.9H1123zM1212.7 1455.9H1216V1462.9H1212.7zM1330 1455.9H1333V1462.9H1330zM1464 1462.9H1468V1469.9H1464z"/>
<path fill="#00c1ff" d="M1311.9 530.9H1315.8V537.9H1311.9zM826 1549H833V1571.5H826zM887.7 1549H894V1571.5H887.7zM1230 1549H1240V1571.5H1230zM1292.1 1549H1302.1V1571.5H1292.1z"/>
<path fill="#00a5ff" d="M1311.9 537.9H1315.8V544.9H1311.9z"/>
<path fill="#007fff" d="M1311.9 544.9H1315.8V548.3H1311.9zM767.7 1494H774.3V1500.8H767.7zM981.4 1494H991.4V1500.8H981.4zM1126.4 1494H1137V1500.8H1126.4z"/>
<path fill="#0006ff" d="M1339.9 544.9H1346.6V548.3H1339.9zM1450 544.9H1456.7V548.3H1450zM505.7 1503.9H515.7V1527H505.7zM1112.7 1469.9H1116V1476.7H1112.7z"/>
<path fill="#00a1ff" d="M1346.6 537.9H1353.4V544.9H1346.6z"/>
<path fill="#00eaff" d="M1353.4 530.9H1357.2V537.9H1353.4z"/>
<path fill="#00caff" d="M1353.4 537.9H1357.2V544.9H1353.4z"/>
<path fill="#0069ff" d="M1377.5 555.1H1384.2V561.9H1377.5z"/>
<path fill="#0038ff" d="M1377.5 561.9H1384.2V569H1377.5zM798.4 1527H802V1549H798.4zM1212.7 1527H1216V1549H1212.7zM1330 1527H1333V1549H1330z"/>
<path fill="#00d" d="M1377.5 575.8H1384.2V579.9H1377.5zM1546.4 537.9H1554.1V544.9H1546.4zM691.7 1469.9H695V1476.7H691.7zM894 1462.9H899V1469.9H894zM916 1462.9H923.3V1469.9H916zM954 1462.9H960.7V1469.9H954zM1027.4 1462.9H1040.7V1469.9H1027.4zM1078 1462.9H1084.7V1469.9H1078zM1367.7 1462.9H1375V1469.9H1367.7zM1389 1462.9H1395V1469.9H1389zM1554 1549H1558V1571.5H1554z"/>
<path fill="#00009c" d="M1419 579.9H1421.8V586.7H1419zM1478 575.8H1487.6V579.9H1478zM1487.6 579.9H1495.3V586.7H1487.6zM1409 1448.6H1416V1455.9H1409zM1478 1455.9H1482V1462.9H1478zM1568.1 1455.9H1575.1V1462.9H1568.1z"/>
<path fill="#000097" d="M1546.4 579.9H1554.1V586.7H1546.4zM505.7 1448.6H515.7V1455.9H505.7zM722.7 1448.6H726.1V1455.9H722.7zM1209 1448.6H1212.7V1455.9H1209zM1460.7 1448.6H1464V1455.9H1460.7zM1492 1448.6H1499.4V1455.9H1492zM1558 1455.9H1568.1V1462.9H1558z"/>
<path fill="#000094" d="M1554.1 579.9H1563.8V586.7H1554.1zM1478 1448.6H1482V1455.9H1478zM1568.1 1448.6H1575.1V1455.9H1568.1z"/>
<path fill="#0000e5" d="M1563.8 537.9H1571.1V544.9H1563.8zM798.4 1480.1H802V1486.9H798.4zM1212.7 1480.1H1216V1486.9H1212.7zM1330 1480.1H1333V1486.9H1330zM1464 1500.8H1468V1503.9H1464z"/>
<path fill="#000098" d="M1563.8 579.9H1571.1V586.7H1563.8zM522.7 1455.9H529.7V1462.9H522.7zM553.7 1448.6H567.4V1455.9H553.7zM574 1448.6H577.7V1455.9H574zM614 1448.6H619V1455.9H614zM864.1 1448.6H871.1V1455.9H864.1zM1344 1448.6H1350.4V1455.9H1344zM1454 1448.6H1460.7V1455.9H1454zM1482 1455.9H1492V1462.9H1482zM1537 1448.6H1550.7V1455.9H1537z"/>
<path fill="#000093" d="M480.6 1448.6H488V1455.9H480.6zM587.7 1448.6H611.4V1455.9H587.7zM1554 1448.6H1558V1455.9H1554z"/>
<path fill="#0000e1" d="M491.7 1480.1H495.3V1486.9H491.7zM553.7 1486.9H567.4V1494H553.7zM626 1469.9H633V1476.7H626zM695 1469.9H698.7V1476.7H695zM833 1462.9H847V1469.9H833zM864.1 1486.9H871.1V1494H864.1zM899 1462.9H906V1469.9H899zM923.3 1462.9H933V1469.9H923.3zM933 1469.9H943.7V1476.7H933zM1002.1 1469.9H1005.4V1476.7H1002.1zM1019.4 1462.9H1027.4V1469.9H1019.4zM1040.7 1462.9H1054V1469.9H1040.7zM1106 1462.9H1112.7V1469.9H1106zM1140.1 1469.9H1143.7V1476.7H1140.1zM1181.3 1462.9H1188.3V1469.9H1181.3zM1260.7 1462.9H1264.4V1469.9H1260.7zM1319.7 1480.1H1323V1486.9H1319.7zM1344 1486.9H1350.4V1494H1344zM1454 1486.9H1460.7V1494H1454zM1506 1480.1H1509V1486.9H1506zM1516 1480.1H1523V1486.9H1516z"/>
<path fill="#00f" d="M502 1527H505.7V1549H502zM774.3 1476.7H788V1480.1H774.3zM795 1527H798.4V1549H795zM816 1476.7H826V1480.1H816zM1382 1476.7H1389V1480.1H1382zM1468 1527H1478V1549H1468z"/>
<path fill="#000092" d="M522.7 1448.6H529.7V1455.9H522.7zM1482 1448.6H1492V1455.9H1482zM1558 1448.6H1568.1V1455.9H1558z"/>
<path fill="#0013ff" d="M553.7 1527H567.4V1549H553.7zM567.4 1494H574V1500.8H567.4zM684.7 1480.1H691.7V1486.9H684.7zM708.7 1480.1H715.7V1486.9H708.7zM802 1480.1H812.7V1486.9H802zM864.1 1527H871.1V1549H864.1zM1116 1469.9H1123V1476.7H1116zM1333 1480.1H1337V1486.9H1333zM1344 1527H1350.4V1549H1344zM1454 1527H1460.7V1549H1454z"/>
<path fill="#0046ff" d="M567.4 1549H574V1571.5H567.4z"/>
<path fill="#0018ff" d="M574 1503.9H577.7V1527H574zM698.7 1480.1H702V1486.9H698.7zM960.7 1476.7H981.4V1480.1H960.7zM991.4 1476.7H995V1480.1H991.4zM1054 1476.7H1064V1480.1H1054zM1092 1476.7H1106V1480.1H1092zM1154.1 1476.7H1168.1V1480.1H1154.1zM1216 1480.1H1226V1486.9H1216zM1240 1476.7H1246.7V1480.1H1240z"/>
<path fill="#0054ff" d="M633 1527H636.7V1549H633zM664 1527H667.7V1549H664zM850.4 1527H857.4V1549H850.4zM1337 1527H1344V1549H1337zM1426.1 1527H1437.1V1549H1426.1zM1509 1527H1516V1549H1509zM1523 1527H1537V1549H1523z"/>
<path fill="#003dff" d="M640 1500.8H643.3V1503.9H640zM650 1500.8H654V1503.9H650zM871.1 1500.8H878.1V1503.9H871.1zM1305.7 1500.8H1316V1503.9H1305.7z"/>
<path fill="#09f" d="M643.3 1503.9H650V1527H643.3zM1357.4 1503.9H1361V1527H1357.4zM1395 1503.9H1402V1527H1395z"/>
<path fill="#000cff" d="M667.7 1480.1H671V1486.9H667.7zM678 1480.1H681.4V1486.9H678zM722.7 1549H726.1V1571.5H722.7zM746.7 1480.1H754V1486.9H746.7zM857.4 1480.1H861.1V1486.9H857.4zM1071 1480.1H1078V1486.9H1071zM1168.1 1480.1H1174V1486.9H1168.1zM1209 1549H1212.7V1571.5H1209zM1285.1 1480.1H1292.1V1486.9H1285.1zM1378 1480.1H1382V1486.9H1378z"/>
<path fill="#004eff" d="M684.7 1494H691.7V1500.8H684.7zM708.7 1494H715.7V1500.8H708.7zM802 1494H812.7V1500.8H802zM1333 1494H1337V1500.8H1333z"/>
<path fill="#005eff" d="M715.7 1503.9H722.7V1527H715.7zM833 1486.9H847V1494H833zM899 1486.9H906V1494H899zM923.3 1486.9H933V1494H923.3zM1019.4 1486.9H1027.4V1494H1019.4zM1040.7 1486.9H1054V1494H1040.7zM1106 1486.9H1112.7V1494H1106zM1181.3 1486.9H1188.3V1494H1181.3zM1260.7 1486.9H1264.4V1494H1260.7z"/>
<path fill="#0041ff" d="M715.7 1500.8H722.7V1503.9H715.7zM739.4 1527H746.7V1549H739.4zM861.1 1527H864.1V1549H861.1z"/>
<path fill="#009dff" d="M757.3 1503.9H767.7V1527H757.3z"/>
<path fill="#00cbff" d="M767.7 1503.9H774.3V1527H767.7zM981.4 1503.9H991.4V1527H981.4zM1126.4 1503.9H1137V1527H1126.4z"/>
<path fill="#004cff" d="M826 1486.9H833V1494H826zM887.7 1486.9H894V1494H887.7zM1230 1486.9H1240V1494H1230zM1292.1 1486.9H1302.1V1494H1292.1z"/>
<path fill="#00cfff" d="M833 1503.9H847V1527H833zM894 1549H899V1571.5H894zM899 1503.9H906V1527H899zM916 1549H923.3V1571.5H916zM923.3 1503.9H933V1527H923.3zM954 1549H960.7V1571.5H954zM1019.4 1503.9H1027.4V1527H1019.4zM1027.4 1549H1040.7V1571.5H1027.4zM1040.7 1503.9H1054V1527H1040.7zM1078 1549H1084.7V1571.5H1078zM1106 1503.9H1112.7V1527H1106zM1181.3 1503.9H1188.3V1527H1181.3zM1260.7 1503.9H1264.4V1527H1260.7zM1367.7 1549H1375V1571.5H1367.7zM1389 1549H1395V1571.5H1389z"/>
<path fill="#0086ff" d="M906 1494H916V1500.8H906z"/>
<path fill="#0089ff" d="M960.7 1494H981.4V1500.8H960.7zM991.4 1494H995V1500.8H991.4zM1054 1494H1064V1500.8H1054zM1092 1494H1106V1500.8H1092zM1154.1 1494H1168.1V1500.8H1154.1zM1240 1494H1246.7V1500.8H1240z"/>
<path fill="#00fffb" d="M1112.7 1549H1116V1571.5H1112.7z"/>
<path fill="#00fbff" d="M1112.7 1527H1116V1549H1112.7z"/>
<path fill="#0fd" d="M1116 1527H1123V1549H1116z"/>
<path fill="#008eff" d="M1116 1486.9H1123V1494H1116z"/>
<path fill="#00c0ff" d="M1246.7 1500.8H1254V1503.9H1246.7z"/>
<path fill="#00ffe7" d="M1254 1549H1260.7V1571.5H1254z"/>
<path fill="#004bff" d="M1409 1527H1416V1549H1409z"/>
</g>
<g id="axes">
<rect x="206.5" y="98.5" width="1638.5" height="1473" fill="none" stroke="#262626" stroke-width="3"/>
<path d="M337.4 1571.5v-12M337.4 98.5v12M475.5 1571.5v-12M475.5 98.5v12M613.6 1571.5v-12M613.6 98.5v12M747.9 1571.5v-12M747.9 98.5v12M886 1571.5v-12M886 98.5v12M1020.6 1571.5v-12M1020.6 98.5v12M1158.6 1571.5v-12M1158.6 98.5v12M1293 1571.5v-12M1293 98.5v12M1431.2 1571.5v-12M1431.2 98.5v12M1565.5 1571.5v-12M1565.5 98.5v12M1703.3 1571.5v-12M1703.3 98.5v12M1841.6 1571.5v-12M1841.6 98.5v12M206.5 1384.8h12M1845 1384.8h-12M206.5 1201.9h12M1845 1201.9h-12M206.5 1019h12M1845 1019h-12M206.5 836.2h12M1845 836.2h-12M206.5 650.1h12M1845 650.1h-12M206.5 466.8h12M1845 466.8h-12M206.5 284.4h12M1845 284.4h-12" stroke="#262626" stroke-width="3" fill="none"/>
<rect x="1931.2" y="98.5" width="89.8" height="1473" fill="url(#cb)" stroke="#262626" stroke-width="3"/>
<path d="M2021 1411.9h-12M2021 1250h-12M2021 1091.1h-12M2021 929.1h-12M2021 770.4h-12M2021 607.6h-12M2021 449.5h-12M2021 288h-12M2021 129.5h-12" stroke="#262626" stroke-width="3" fill="none"/>
</g>
<g id="labels" filter="url(#softt)">
<text class="a" x="339.3" y="1657" text-anchor="middle">30</text>
<text class="a" x="472.4" y="1657" text-anchor="middle">60</text>
<text class="a" x="611.3" y="1657" text-anchor="middle">90</text>
<text class="a" x="751.6" y="1657" text-anchor="middle">120</text>
<text class="a" x="885.2" y="1657" text-anchor="middle">150</text>
<text class="a" x="1023.3" y="1657" text-anchor="middle">180</text>
<text class="a" x="1156.4" y="1657" text-anchor="middle">210</text>
<text class="a" x="1294.9" y="1657" text-anchor="middle">240</text>
<text class="a" x="1428.9" y="1657" text-anchor="middle">270</text>
<text class="a" x="1567.3" y="1657" text-anchor="middle">300</text>
<text class="a" x="1701.7" y="1657" text-anchor="middle">330</text>
<text class="a" x="1839.9" y="1657" text-anchor="middle">360</text>
<text class="a" x="176.5" y="1597" text-anchor="end">0</text>
<text class="a" x="176.5" y="1410.3" text-anchor="end">3</text>
<text class="a" x="176.5" y="1227.4" text-anchor="end">6</text>
<text class="a" x="176.5" y="1044.5" text-anchor="end">9</text>
<text class="a" x="176.5" y="861.7" text-anchor="end">12</text>
<text class="a" x="176.5" y="675.6" text-anchor="end">15</text>
<text class="a" x="176.5" y="492.3" text-anchor="end">18</text>
<text class="a" x="176.5" y="309.9" text-anchor="end">21</text>
<text class="a" x="176.5" y="124" text-anchor="end">24</text>
<text class="c" x="2041.5" y="1591">0</text>
<text class="c" x="2041.5" y="1431.4">5</text>
<text class="c" x="2041.5" y="1269.5">10</text>
<text class="c" x="2041.5" y="1110.6">15</text>
<text class="c" x="2041.5" y="948.6">20</text>
<text class="c" x="2041.5" y="789.9">25</text>
<text class="c" x="2041.5" y="627.1">30</text>
<text class="c" x="2041.5" y="469">35</text>
<text class="c" x="2041.5" y="307.5">40</text>
<text class="c" x="2041.5" y="149">45</text>
<text x="1025" y="1739" text-anchor="middle" font-size="63.5" textLength="430.5" lengthAdjust="spacingAndGlyphs">Day of the year</text>
<text transform="translate(81 837.2) rotate(-90)" text-anchor="middle" font-size="63.5" textLength="431.5" lengthAdjust="spacingAndGlyphs">Hour of the day</text>
<text x="1025.5" y="69" text-anchor="middle" font-size="64" class="t" textLength="566.5" lengthAdjust="spacingAndGlyphs">Power to Grid [kW]</text>
</g>
</svg>
</body>
</html>
